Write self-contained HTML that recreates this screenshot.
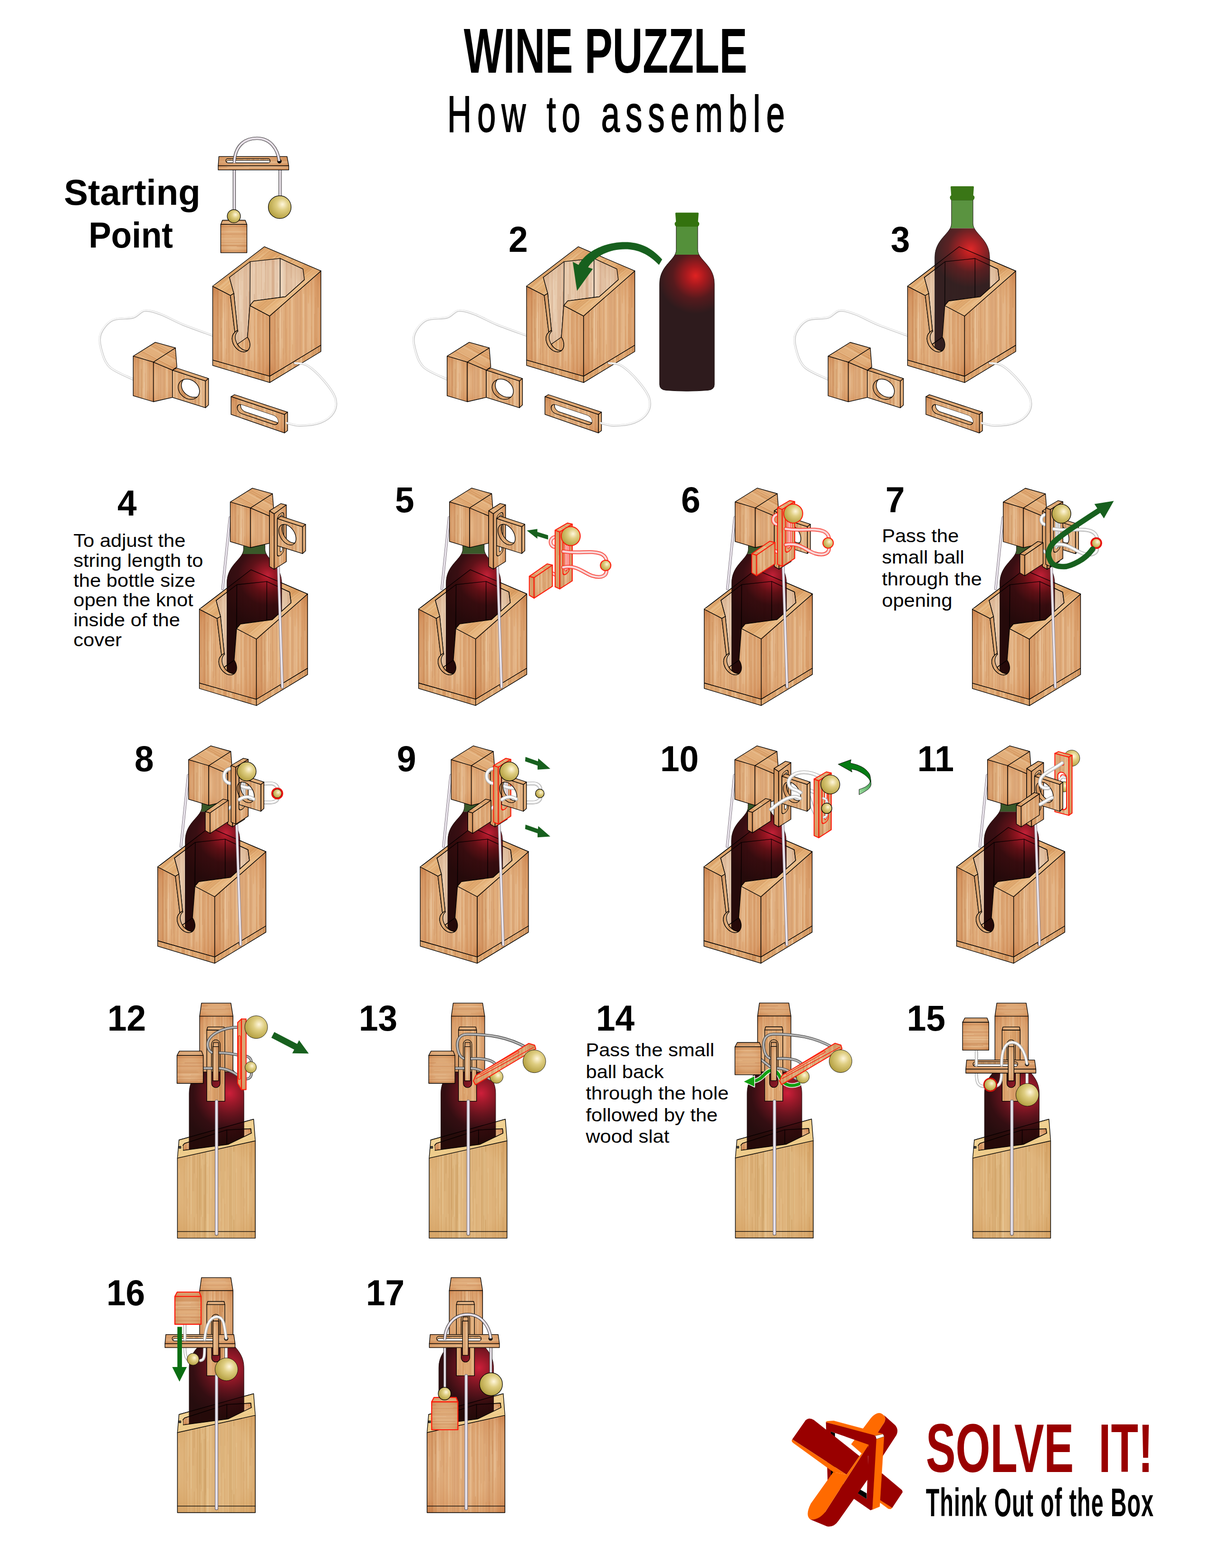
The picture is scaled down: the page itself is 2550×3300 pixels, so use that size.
<!DOCTYPE html>
<html><head><meta charset="utf-8"><title>Wine Puzzle</title>
<style>
html,body{margin:0;padding:0;background:#fff;}
body{width:2550px;height:3300px;overflow:hidden;}
svg{display:block}
text{font-family:"Liberation Sans",sans-serif;fill:#000}
</style></head><body>
<svg width="2550" height="3300" viewBox="0 0 2550 3300">
<defs><pattern id="wF" width="120" height="240" patternUnits="userSpaceOnUse"><rect width="120" height="240" fill="#E1AE7C"/><rect x="54.3" y="0" width="11.6" height="240" fill="#F2D8B6" opacity="0.19"/><rect x="55.9" y="0" width="11.1" height="240" fill="#BF7846" opacity="0.16"/><rect x="22.2" y="0" width="11.1" height="240" fill="#F2D8B6" opacity="0.16"/><rect x="95.2" y="0" width="6.9" height="240" fill="#BF7846" opacity="0.13"/><rect x="10.9" y="0" width="14.1" height="240" fill="#F2D8B6" opacity="0.17"/><rect x="5" y="0" width="15.8" height="240" fill="#BF7846" opacity="0.20"/><rect x="78.5" y="97.5" width="1" height="122.8" fill="#F2D8B6" opacity="0.21"/><rect x="105.5" y="0" width="1" height="240" fill="#BF7846" opacity="0.28"/><rect x="101.1" y="0" width="1" height="240" fill="#F2D8B6" opacity="0.20"/><rect x="10.2" y="0" width="1.2" height="240" fill="#BF7846" opacity="0.45"/><rect x="100.8" y="0" width="1.2" height="240" fill="#BF7846" opacity="0.30"/><rect x="3.6" y="121.9" width="1" height="96" fill="#F2D8B6" opacity="0.54"/><rect x="101.7" y="0" width="0.5" height="240" fill="#BF7846" opacity="0.17"/><rect x="45.1" y="0" width="1.2" height="240" fill="#F2D8B6" opacity="0.42"/><rect x="93.4" y="0" width="0.8" height="240" fill="#F2D8B6" opacity="0.21"/><rect x="49.2" y="0" width="0.5" height="240" fill="#BF7846" opacity="0.15"/><rect x="55.8" y="0" width="0.8" height="240" fill="#BF7846" opacity="0.28"/><rect x="22.9" y="54.4" width="1.2" height="98.3" fill="#F2D8B6" opacity="0.55"/><rect x="0.1" y="29.1" width="1.6" height="144.4" fill="#BF7846" opacity="0.21"/><rect x="47.3" y="5.2" width="1.6" height="117.2" fill="#F2D8B6" opacity="0.35"/><rect x="1.1" y="0" width="1" height="240" fill="#F2D8B6" opacity="0.23"/><rect x="10.8" y="70.1" width="1" height="49.9" fill="#BF7846" opacity="0.19"/><rect x="70.5" y="16.1" width="1.6" height="152" fill="#F2D8B6" opacity="0.52"/><rect x="98.1" y="108.8" width="0.6" height="67" fill="#BF7846" opacity="0.36"/><rect x="46.6" y="14.7" width="0.8" height="98.6" fill="#F2D8B6" opacity="0.54"/><rect x="28.6" y="0" width="1.2" height="240" fill="#BF7846" opacity="0.42"/><rect x="58.9" y="0" width="1" height="240" fill="#BF7846" opacity="0.17"/><rect x="27.4" y="8.8" width="1" height="121.9" fill="#F2D8B6" opacity="0.52"/><rect x="89.9" y="0" width="0.5" height="240" fill="#BF7846" opacity="0.17"/><rect x="21.2" y="6.9" width="0.8" height="164.8" fill="#F2D8B6" opacity="0.36"/><rect x="39.7" y="17.1" width="1.2" height="118.1" fill="#F2D8B6" opacity="0.21"/><rect x="109.2" y="0" width="1.2" height="240" fill="#F2D8B6" opacity="0.41"/><rect x="9" y="153.6" width="0.5" height="86.3" fill="#F2D8B6" opacity="0.39"/><rect x="88.4" y="170" width="1.2" height="63.5" fill="#F2D8B6" opacity="0.23"/><rect x="56.8" y="112.2" width="0.5" height="98.1" fill="#BF7846" opacity="0.32"/><rect x="75" y="0" width="0.8" height="240" fill="#F2D8B6" opacity="0.23"/><rect x="10.9" y="62.9" width="0.5" height="153.6" fill="#F2D8B6" opacity="0.46"/><rect x="69.7" y="65.9" width="0.8" height="113" fill="#BF7846" opacity="0.24"/><rect x="10.5" y="0" width="0.5" height="240" fill="#BF7846" opacity="0.30"/><rect x="73.7" y="0" width="0.8" height="240" fill="#F2D8B6" opacity="0.31"/><rect x="81.4" y="34.8" width="0.6" height="138.5" fill="#BF7846" opacity="0.30"/><rect x="29" y="72.5" width="0.8" height="71.8" fill="#BF7846" opacity="0.42"/><rect x="105.6" y="0" width="0.8" height="240" fill="#BF7846" opacity="0.21"/><rect x="16.1" y="64.1" width="0.8" height="149.8" fill="#BF7846" opacity="0.23"/><rect x="20.3" y="67.2" width="0.8" height="159.1" fill="#F2D8B6" opacity="0.38"/><rect x="80.7" y="33.6" width="1.2" height="165.8" fill="#F2D8B6" opacity="0.21"/><rect x="104.7" y="56.1" width="0.5" height="81.7" fill="#BF7846" opacity="0.32"/><rect x="76.9" y="156.8" width="0.8" height="51" fill="#F2D8B6" opacity="0.25"/><rect x="5.6" y="0" width="1.2" height="240" fill="#F2D8B6" opacity="0.39"/><rect x="76.8" y="21.9" width="0.8" height="130.1" fill="#BF7846" opacity="0.20"/><rect x="1.3" y="42.5" width="0.8" height="52.3" fill="#BF7846" opacity="0.31"/><rect x="113.6" y="39.8" width="1" height="138.7" fill="#BF7846" opacity="0.42"/><rect x="10.5" y="0" width="1.2" height="240" fill="#BF7846" opacity="0.21"/><rect x="106.5" y="0" width="0.5" height="240" fill="#BF7846" opacity="0.41"/><rect x="95.6" y="23.3" width="0.8" height="126.2" fill="#BF7846" opacity="0.40"/><rect x="77" y="0" width="1.2" height="240" fill="#F2D8B6" opacity="0.34"/><rect x="10.5" y="31.1" width="0.8" height="142.9" fill="#BF7846" opacity="0.41"/><rect x="41.8" y="0" width="0.5" height="240" fill="#F2D8B6" opacity="0.35"/><rect x="33" y="0" width="0.5" height="240" fill="#BF7846" opacity="0.28"/><rect x="4.2" y="0" width="1" height="240" fill="#BF7846" opacity="0.19"/><rect x="17.8" y="88" width="1" height="110.2" fill="#BF7846" opacity="0.41"/><rect x="69.5" y="0" width="1.2" height="240" fill="#F2D8B6" opacity="0.38"/><rect x="34.8" y="88.6" width="1.2" height="67.7" fill="#BF7846" opacity="0.23"/><rect x="80.6" y="36.2" width="1.6" height="121.1" fill="#F2D8B6" opacity="0.39"/><rect x="32.8" y="0" width="0.8" height="240" fill="#BF7846" opacity="0.30"/><rect x="72.6" y="171.3" width="0.5" height="53.3" fill="#BF7846" opacity="0.45"/><rect x="14.6" y="99.2" width="0.5" height="55.9" fill="#F2D8B6" opacity="0.53"/><rect x="110.8" y="0" width="0.8" height="240" fill="#BF7846" opacity="0.25"/><rect x="108.1" y="75.1" width="0.8" height="61" fill="#F2D8B6" opacity="0.29"/><rect x="84.3" y="0" width="0.5" height="240" fill="#F2D8B6" opacity="0.20"/><rect x="34.1" y="0" width="1.2" height="240" fill="#BF7846" opacity="0.18"/><rect x="87.7" y="84.1" width="0.5" height="122.8" fill="#BF7846" opacity="0.41"/><rect x="2.8" y="0" width="1.2" height="240" fill="#BF7846" opacity="0.20"/><rect x="24.5" y="35.8" width="1.2" height="74.2" fill="#BF7846" opacity="0.33"/><rect x="16.4" y="27.2" width="1.2" height="89.7" fill="#BF7846" opacity="0.42"/><rect x="23.4" y="11.5" width="1.6" height="154.5" fill="#F2D8B6" opacity="0.45"/><rect x="31.1" y="0" width="0.5" height="240" fill="#BF7846" opacity="0.31"/><rect x="84.6" y="0" width="0.6" height="240" fill="#BF7846" opacity="0.16"/><rect x="24.1" y="0" width="1.2" height="240" fill="#BF7846" opacity="0.26"/><rect x="84.6" y="90.3" width="1.2" height="108.3" fill="#F2D8B6" opacity="0.22"/><rect x="12.7" y="107.2" width="0.5" height="121.6" fill="#BF7846" opacity="0.21"/><rect x="13.8" y="67.8" width="0.6" height="166.8" fill="#F2D8B6" opacity="0.22"/><rect x="114.2" y="0" width="0.8" height="240" fill="#F2D8B6" opacity="0.34"/><rect x="51.2" y="0" width="0.8" height="240" fill="#BF7846" opacity="0.15"/><rect x="84.1" y="0" width="1.6" height="240" fill="#F2D8B6" opacity="0.33"/><rect x="44.4" y="143.1" width="0.6" height="59.4" fill="#F2D8B6" opacity="0.23"/><rect x="101" y="45.1" width="1.6" height="160.8" fill="#F2D8B6" opacity="0.40"/><rect x="40.9" y="0" width="1.6" height="240" fill="#BF7846" opacity="0.37"/><rect x="93.4" y="58.1" width="1.6" height="64" fill="#BF7846" opacity="0.26"/><rect x="51.8" y="0" width="0.6" height="240" fill="#BF7846" opacity="0.17"/><rect x="41" y="0" width="0.8" height="240" fill="#BF7846" opacity="0.45"/><rect x="108.3" y="0" width="0.5" height="240" fill="#BF7846" opacity="0.35"/><rect x="40.5" y="0" width="1.2" height="240" fill="#F2D8B6" opacity="0.23"/><rect x="61.8" y="82.2" width="0.8" height="132.2" fill="#BF7846" opacity="0.16"/><rect x="73.8" y="0" width="1.2" height="240" fill="#BF7846" opacity="0.30"/><rect x="91.4" y="0" width="1.2" height="240" fill="#F2D8B6" opacity="0.29"/><rect x="108.7" y="74" width="1" height="97.9" fill="#BF7846" opacity="0.18"/><rect x="53.3" y="0" width="1.2" height="240" fill="#BF7846" opacity="0.38"/><rect x="5.4" y="0" width="0.6" height="240" fill="#BF7846" opacity="0.41"/><rect x="65" y="0" width="1" height="240" fill="#BF7846" opacity="0.28"/><rect x="63.2" y="0" width="1" height="240" fill="#BF7846" opacity="0.29"/><rect x="32.4" y="2.7" width="0.8" height="137.7" fill="#BF7846" opacity="0.33"/><rect x="76" y="130.3" width="0.8" height="94.8" fill="#BF7846" opacity="0.17"/><rect x="118.7" y="0" width="0.8" height="240" fill="#BF7846" opacity="0.28"/><rect x="57.3" y="0" width="1.6" height="240" fill="#BF7846" opacity="0.43"/><rect x="86.7" y="0" width="0.8" height="240" fill="#BF7846" opacity="0.22"/><rect x="84.8" y="28" width="0.5" height="102.7" fill="#F2D8B6" opacity="0.38"/><rect x="14.9" y="0" width="0.8" height="240" fill="#F2D8B6" opacity="0.41"/><rect x="76.8" y="0" width="1.2" height="240" fill="#BF7846" opacity="0.31"/><rect x="119.7" y="18.6" width="0.8" height="76.6" fill="#BF7846" opacity="0.39"/><rect x="75" y="0" width="0.8" height="240" fill="#BF7846" opacity="0.37"/><rect x="83.9" y="19.3" width="0.6" height="138.4" fill="#F2D8B6" opacity="0.54"/><rect x="109.9" y="0" width="1.2" height="240" fill="#F2D8B6" opacity="0.29"/><rect x="51" y="0" width="1" height="240" fill="#F2D8B6" opacity="0.30"/><rect x="90.7" y="0" width="1.2" height="240" fill="#F2D8B6" opacity="0.54"/><rect x="58.1" y="0" width="0.8" height="240" fill="#F2D8B6" opacity="0.46"/></pattern><pattern id="wD" width="120" height="240" patternUnits="userSpaceOnUse"><rect width="120" height="240" fill="#DEA670"/><rect x="100.6" y="0" width="6.7" height="240" fill="#EFCFA6" opacity="0.11"/><rect x="97.1" y="0" width="12.2" height="240" fill="#B8703A" opacity="0.18"/><rect x="25.6" y="0" width="10.2" height="240" fill="#EFCFA6" opacity="0.13"/><rect x="97.2" y="0" width="9.7" height="240" fill="#B8703A" opacity="0.17"/><rect x="118.7" y="0" width="9.3" height="240" fill="#EFCFA6" opacity="0.15"/><rect x="89.5" y="0" width="15.2" height="240" fill="#B8703A" opacity="0.14"/><rect x="44.3" y="83.2" width="0.5" height="86.9" fill="#B8703A" opacity="0.32"/><rect x="97.8" y="0" width="0.8" height="240" fill="#B8703A" opacity="0.17"/><rect x="25.6" y="53.7" width="1.2" height="131.4" fill="#B8703A" opacity="0.25"/><rect x="105.8" y="0" width="0.6" height="240" fill="#B8703A" opacity="0.26"/><rect x="14.1" y="0" width="1.2" height="240" fill="#B8703A" opacity="0.42"/><rect x="82.4" y="0" width="0.8" height="240" fill="#B8703A" opacity="0.24"/><rect x="38.1" y="53.9" width="0.8" height="135.6" fill="#EFCFA6" opacity="0.49"/><rect x="2.9" y="0" width="1.2" height="240" fill="#EFCFA6" opacity="0.27"/><rect x="67.7" y="0" width="1.6" height="240" fill="#EFCFA6" opacity="0.41"/><rect x="21.3" y="24.3" width="0.5" height="153.7" fill="#EFCFA6" opacity="0.38"/><rect x="65.3" y="0" width="1" height="240" fill="#EFCFA6" opacity="0.49"/><rect x="50.7" y="8.2" width="1" height="142.6" fill="#EFCFA6" opacity="0.46"/><rect x="107.9" y="0" width="0.5" height="240" fill="#B8703A" opacity="0.18"/><rect x="98" y="0" width="0.8" height="240" fill="#EFCFA6" opacity="0.47"/><rect x="62.6" y="121" width="1.6" height="90.1" fill="#EFCFA6" opacity="0.25"/><rect x="58.6" y="97.9" width="1.6" height="133" fill="#EFCFA6" opacity="0.49"/><rect x="80" y="0" width="1.6" height="240" fill="#EFCFA6" opacity="0.23"/><rect x="55.8" y="91.7" width="1" height="110.9" fill="#B8703A" opacity="0.28"/><rect x="50.5" y="0" width="0.6" height="240" fill="#EFCFA6" opacity="0.42"/><rect x="82.1" y="0" width="0.8" height="240" fill="#B8703A" opacity="0.24"/><rect x="116.4" y="31.7" width="0.5" height="135.7" fill="#EFCFA6" opacity="0.52"/><rect x="109.5" y="110.9" width="1.6" height="118.1" fill="#EFCFA6" opacity="0.24"/><rect x="22.1" y="56.6" width="0.6" height="120" fill="#B8703A" opacity="0.28"/><rect x="107.3" y="0" width="0.8" height="240" fill="#B8703A" opacity="0.24"/><rect x="65.8" y="43.4" width="1.6" height="150.4" fill="#EFCFA6" opacity="0.53"/><rect x="79.2" y="29.6" width="1.6" height="105.9" fill="#EFCFA6" opacity="0.53"/><rect x="96.2" y="74.8" width="0.8" height="143.4" fill="#B8703A" opacity="0.17"/><rect x="110.9" y="37.5" width="0.5" height="156.6" fill="#EFCFA6" opacity="0.35"/><rect x="105" y="0" width="0.8" height="240" fill="#EFCFA6" opacity="0.29"/><rect x="104.3" y="0" width="1" height="240" fill="#B8703A" opacity="0.34"/><rect x="61.9" y="0" width="0.5" height="240" fill="#B8703A" opacity="0.15"/><rect x="98.6" y="0" width="1.6" height="240" fill="#EFCFA6" opacity="0.32"/><rect x="73.8" y="0" width="1" height="240" fill="#B8703A" opacity="0.29"/><rect x="114.7" y="2.5" width="1" height="108.7" fill="#EFCFA6" opacity="0.27"/><rect x="81.9" y="90.7" width="1.6" height="73" fill="#B8703A" opacity="0.20"/><rect x="99.8" y="0" width="0.8" height="240" fill="#EFCFA6" opacity="0.39"/><rect x="119.7" y="102.3" width="1.2" height="91.2" fill="#EFCFA6" opacity="0.34"/><rect x="55.4" y="1.4" width="1.6" height="126.5" fill="#EFCFA6" opacity="0.45"/><rect x="28.5" y="0" width="1" height="240" fill="#B8703A" opacity="0.41"/><rect x="101.3" y="0" width="1.2" height="240" fill="#B8703A" opacity="0.24"/><rect x="45.1" y="58.5" width="1" height="162.5" fill="#B8703A" opacity="0.18"/><rect x="22.6" y="144.1" width="0.8" height="87.5" fill="#B8703A" opacity="0.37"/><rect x="39.8" y="0" width="1.6" height="240" fill="#EFCFA6" opacity="0.42"/><rect x="15.8" y="68.6" width="1.2" height="69.6" fill="#B8703A" opacity="0.33"/><rect x="10.8" y="0" width="0.6" height="240" fill="#B8703A" opacity="0.28"/><rect x="92.5" y="72" width="0.8" height="99.2" fill="#B8703A" opacity="0.38"/><rect x="98.5" y="50.7" width="0.8" height="158.6" fill="#B8703A" opacity="0.33"/><rect x="38.1" y="68.6" width="1.6" height="127.2" fill="#EFCFA6" opacity="0.32"/><rect x="41.1" y="0" width="1.2" height="240" fill="#B8703A" opacity="0.21"/><rect x="39.9" y="18.8" width="0.8" height="121.4" fill="#B8703A" opacity="0.42"/><rect x="65.8" y="74.9" width="0.8" height="109.6" fill="#EFCFA6" opacity="0.53"/><rect x="119.8" y="159.1" width="1.2" height="71.7" fill="#B8703A" opacity="0.21"/><rect x="10" y="47.3" width="0.6" height="98.1" fill="#EFCFA6" opacity="0.51"/><rect x="31.9" y="24.9" width="0.5" height="135.6" fill="#B8703A" opacity="0.31"/><rect x="7.6" y="0" width="0.8" height="240" fill="#B8703A" opacity="0.42"/><rect x="40.2" y="0" width="0.6" height="240" fill="#B8703A" opacity="0.24"/><rect x="107.6" y="24.6" width="0.6" height="91.6" fill="#B8703A" opacity="0.39"/><rect x="54.5" y="0" width="0.8" height="240" fill="#B8703A" opacity="0.43"/><rect x="79" y="81.9" width="0.8" height="149.7" fill="#B8703A" opacity="0.34"/><rect x="91.6" y="0" width="0.6" height="240" fill="#B8703A" opacity="0.19"/><rect x="46.4" y="0" width="1" height="240" fill="#EFCFA6" opacity="0.25"/><rect x="29.3" y="0" width="0.8" height="240" fill="#B8703A" opacity="0.37"/><rect x="94.5" y="56.4" width="0.8" height="120" fill="#EFCFA6" opacity="0.42"/><rect x="82.7" y="0" width="1.6" height="240" fill="#EFCFA6" opacity="0.51"/><rect x="55.6" y="10.9" width="1.6" height="147" fill="#EFCFA6" opacity="0.53"/><rect x="39.6" y="0" width="1" height="240" fill="#B8703A" opacity="0.25"/><rect x="6.6" y="52.7" width="1.2" height="100" fill="#EFCFA6" opacity="0.48"/><rect x="105.9" y="0" width="0.5" height="240" fill="#B8703A" opacity="0.22"/><rect x="104.8" y="163.2" width="0.5" height="60.6" fill="#B8703A" opacity="0.35"/><rect x="112.8" y="90.9" width="0.5" height="135.7" fill="#EFCFA6" opacity="0.39"/><rect x="67.7" y="0" width="0.6" height="240" fill="#B8703A" opacity="0.32"/><rect x="108.4" y="155.6" width="0.5" height="63.6" fill="#B8703A" opacity="0.29"/><rect x="35.5" y="0" width="1.2" height="240" fill="#EFCFA6" opacity="0.22"/><rect x="107.4" y="121.2" width="1.6" height="65" fill="#EFCFA6" opacity="0.31"/><rect x="54.6" y="0" width="0.8" height="240" fill="#B8703A" opacity="0.43"/><rect x="117.3" y="144" width="0.8" height="72.3" fill="#B8703A" opacity="0.17"/><rect x="37.9" y="0" width="1.6" height="240" fill="#B8703A" opacity="0.20"/><rect x="105.6" y="0" width="1" height="240" fill="#B8703A" opacity="0.21"/><rect x="105.6" y="127" width="0.5" height="84.7" fill="#B8703A" opacity="0.23"/><rect x="50.4" y="0" width="0.6" height="240" fill="#B8703A" opacity="0.38"/><rect x="49.8" y="0" width="0.6" height="240" fill="#EFCFA6" opacity="0.45"/><rect x="23.6" y="39" width="0.6" height="108.2" fill="#EFCFA6" opacity="0.48"/><rect x="62.9" y="49.5" width="0.5" height="75.5" fill="#B8703A" opacity="0.35"/><rect x="33.2" y="10.4" width="1.2" height="103.5" fill="#B8703A" opacity="0.17"/><rect x="108.9" y="39.6" width="0.5" height="82.1" fill="#B8703A" opacity="0.18"/><rect x="34.2" y="0" width="1.6" height="240" fill="#EFCFA6" opacity="0.46"/><rect x="3.5" y="2.5" width="1.6" height="166.5" fill="#B8703A" opacity="0.38"/><rect x="46.2" y="0" width="0.8" height="240" fill="#EFCFA6" opacity="0.47"/><rect x="109.2" y="50.7" width="0.8" height="142" fill="#B8703A" opacity="0.40"/><rect x="82.1" y="76.1" width="1" height="111.8" fill="#B8703A" opacity="0.18"/><rect x="52.3" y="0" width="1.2" height="240" fill="#B8703A" opacity="0.39"/><rect x="94.9" y="0" width="0.6" height="240" fill="#B8703A" opacity="0.41"/><rect x="72.4" y="0" width="0.8" height="240" fill="#B8703A" opacity="0.36"/><rect x="68.7" y="93.1" width="1.6" height="87" fill="#B8703A" opacity="0.39"/><rect x="60.4" y="0" width="1.2" height="240" fill="#B8703A" opacity="0.17"/><rect x="108.9" y="88.4" width="1" height="117.5" fill="#B8703A" opacity="0.17"/><rect x="51" y="0" width="1.2" height="240" fill="#B8703A" opacity="0.31"/><rect x="31.8" y="58.2" width="1" height="126" fill="#EFCFA6" opacity="0.29"/><rect x="59.6" y="6" width="1.2" height="142.4" fill="#EFCFA6" opacity="0.33"/><rect x="26" y="0" width="0.5" height="240" fill="#B8703A" opacity="0.33"/><rect x="16.1" y="4" width="1.2" height="137.4" fill="#EFCFA6" opacity="0.51"/><rect x="17" y="126.7" width="0.8" height="104.6" fill="#B8703A" opacity="0.35"/><rect x="86" y="18.6" width="1.2" height="83.5" fill="#B8703A" opacity="0.28"/><rect x="10.3" y="0" width="0.6" height="240" fill="#EFCFA6" opacity="0.54"/><rect x="73.3" y="0" width="0.5" height="240" fill="#B8703A" opacity="0.45"/><rect x="88.5" y="52.1" width="1" height="151.7" fill="#B8703A" opacity="0.29"/><rect x="47.2" y="0" width="1.6" height="240" fill="#EFCFA6" opacity="0.22"/><rect x="50.2" y="0" width="0.6" height="240" fill="#B8703A" opacity="0.20"/><rect x="24.4" y="47.7" width="0.6" height="139.2" fill="#B8703A" opacity="0.34"/><rect x="21.8" y="0" width="0.8" height="240" fill="#EFCFA6" opacity="0.23"/></pattern><pattern id="wT" width="120" height="240" patternUnits="userSpaceOnUse" patternTransform="rotate(50)"><rect width="120" height="240" fill="#E4B076"/><rect x="83" y="0" width="9.6" height="240" fill="#F5DBB2" opacity="0.13"/><rect x="2.2" y="0" width="7.8" height="240" fill="#C58044" opacity="0.13"/><rect x="47.2" y="0" width="15.2" height="240" fill="#F5DBB2" opacity="0.17"/><rect x="32.2" y="0" width="9.6" height="240" fill="#C58044" opacity="0.12"/><rect x="112.4" y="0" width="9.6" height="240" fill="#F5DBB2" opacity="0.18"/><rect x="86.8" y="0" width="15.1" height="240" fill="#C58044" opacity="0.10"/><rect x="38.6" y="0" width="0.8" height="240" fill="#C58044" opacity="0.26"/><rect x="30.8" y="94.7" width="1" height="84.3" fill="#C58044" opacity="0.21"/><rect x="61.7" y="0" width="0.6" height="240" fill="#F5DBB2" opacity="0.35"/><rect x="65.3" y="39.6" width="0.6" height="113.8" fill="#C58044" opacity="0.26"/><rect x="105.6" y="0" width="1.6" height="240" fill="#C58044" opacity="0.27"/><rect x="46.4" y="0" width="1.6" height="240" fill="#F5DBB2" opacity="0.33"/><rect x="73.4" y="0" width="0.6" height="240" fill="#F5DBB2" opacity="0.42"/><rect x="67.9" y="67.9" width="1.6" height="137.2" fill="#F5DBB2" opacity="0.50"/><rect x="67" y="67.2" width="0.8" height="162.6" fill="#F5DBB2" opacity="0.42"/><rect x="10.8" y="0" width="0.8" height="240" fill="#C58044" opacity="0.30"/><rect x="111.7" y="25.1" width="0.8" height="81.6" fill="#F5DBB2" opacity="0.37"/><rect x="20" y="96.2" width="1.2" height="110.5" fill="#C58044" opacity="0.39"/><rect x="57.4" y="88" width="0.8" height="114.4" fill="#F5DBB2" opacity="0.34"/><rect x="43.7" y="60.1" width="0.5" height="80.6" fill="#C58044" opacity="0.24"/><rect x="86.3" y="0" width="0.8" height="240" fill="#F5DBB2" opacity="0.31"/><rect x="44.8" y="0" width="0.8" height="240" fill="#C58044" opacity="0.21"/><rect x="56.3" y="0" width="1" height="240" fill="#C58044" opacity="0.16"/><rect x="84.9" y="72.5" width="0.6" height="123.3" fill="#F5DBB2" opacity="0.35"/><rect x="33.1" y="133.4" width="1.6" height="101.9" fill="#F5DBB2" opacity="0.48"/><rect x="82" y="0" width="0.8" height="240" fill="#F5DBB2" opacity="0.54"/><rect x="18" y="0" width="0.6" height="240" fill="#F5DBB2" opacity="0.28"/><rect x="62.5" y="104.8" width="1" height="48.4" fill="#C58044" opacity="0.38"/><rect x="9.5" y="89.4" width="1.6" height="147.7" fill="#F5DBB2" opacity="0.32"/><rect x="106.4" y="66.2" width="0.8" height="73" fill="#F5DBB2" opacity="0.27"/><rect x="19.3" y="75.1" width="0.8" height="106.9" fill="#F5DBB2" opacity="0.30"/><rect x="89.9" y="41.5" width="1" height="125.6" fill="#C58044" opacity="0.43"/><rect x="88.5" y="83.1" width="0.5" height="146.1" fill="#F5DBB2" opacity="0.50"/><rect x="61.5" y="149.4" width="1.2" height="67.5" fill="#C58044" opacity="0.17"/><rect x="30.5" y="27.5" width="1" height="131.3" fill="#C58044" opacity="0.26"/><rect x="81.9" y="0" width="0.6" height="240" fill="#C58044" opacity="0.40"/><rect x="99.4" y="14.4" width="1" height="124.9" fill="#C58044" opacity="0.23"/><rect x="19.3" y="0" width="0.6" height="240" fill="#C58044" opacity="0.22"/><rect x="22.2" y="86" width="0.5" height="131.3" fill="#C58044" opacity="0.23"/><rect x="32.5" y="134.8" width="0.8" height="95.6" fill="#C58044" opacity="0.16"/><rect x="85.6" y="60.2" width="0.5" height="71.3" fill="#C58044" opacity="0.39"/><rect x="48.5" y="15.3" width="0.5" height="150.7" fill="#F5DBB2" opacity="0.35"/><rect x="104.4" y="0" width="1.2" height="240" fill="#F5DBB2" opacity="0.42"/><rect x="91.8" y="0" width="1" height="240" fill="#C58044" opacity="0.31"/><rect x="96" y="0" width="0.6" height="240" fill="#C58044" opacity="0.32"/><rect x="107.6" y="0" width="0.8" height="240" fill="#F5DBB2" opacity="0.51"/><rect x="32.4" y="0" width="1" height="240" fill="#C58044" opacity="0.23"/><rect x="27.3" y="0" width="0.8" height="240" fill="#C58044" opacity="0.32"/><rect x="18.2" y="12.1" width="0.5" height="85.1" fill="#F5DBB2" opacity="0.37"/><rect x="119.7" y="4.6" width="0.6" height="97" fill="#F5DBB2" opacity="0.40"/><rect x="66.9" y="70.5" width="0.6" height="126.8" fill="#F5DBB2" opacity="0.53"/><rect x="103.8" y="0" width="1.6" height="240" fill="#C58044" opacity="0.37"/><rect x="21.1" y="85.9" width="0.5" height="112.7" fill="#F5DBB2" opacity="0.21"/><rect x="66.7" y="40.1" width="0.5" height="49.3" fill="#C58044" opacity="0.15"/><rect x="63.3" y="0" width="1.6" height="240" fill="#C58044" opacity="0.30"/><rect x="37" y="98.5" width="1" height="140.1" fill="#F5DBB2" opacity="0.53"/><rect x="48.3" y="0" width="1.2" height="240" fill="#C58044" opacity="0.34"/><rect x="1.1" y="0" width="0.6" height="240" fill="#F5DBB2" opacity="0.33"/><rect x="78.8" y="52.5" width="1.6" height="123.2" fill="#F5DBB2" opacity="0.22"/><rect x="78.4" y="0" width="1" height="240" fill="#F5DBB2" opacity="0.46"/><rect x="25.4" y="0" width="1.2" height="240" fill="#F5DBB2" opacity="0.27"/><rect x="41.7" y="0" width="0.6" height="240" fill="#F5DBB2" opacity="0.35"/><rect x="1.1" y="0" width="1" height="240" fill="#F5DBB2" opacity="0.53"/><rect x="100.8" y="0" width="1.6" height="240" fill="#C58044" opacity="0.25"/><rect x="90.5" y="72.6" width="0.5" height="86.6" fill="#C58044" opacity="0.30"/><rect x="93.6" y="71.6" width="0.6" height="56.4" fill="#C58044" opacity="0.41"/><rect x="93.3" y="110.6" width="1" height="65.8" fill="#F5DBB2" opacity="0.43"/><rect x="25.5" y="0" width="1" height="240" fill="#C58044" opacity="0.36"/><rect x="50.9" y="131.1" width="1" height="62.6" fill="#C58044" opacity="0.28"/><rect x="56.1" y="0" width="1.6" height="240" fill="#F5DBB2" opacity="0.41"/><rect x="68.7" y="58.1" width="1" height="111.4" fill="#F5DBB2" opacity="0.22"/><rect x="6.6" y="0" width="0.8" height="240" fill="#C58044" opacity="0.45"/><rect x="88.6" y="0" width="0.8" height="240" fill="#C58044" opacity="0.32"/><rect x="6.3" y="9.4" width="0.6" height="155.7" fill="#F5DBB2" opacity="0.52"/><rect x="94.8" y="49.3" width="0.6" height="143.7" fill="#C58044" opacity="0.17"/><rect x="104.4" y="0" width="1.2" height="240" fill="#C58044" opacity="0.25"/><rect x="24.9" y="47.1" width="0.5" height="71.5" fill="#C58044" opacity="0.17"/><rect x="66.6" y="6.3" width="1.6" height="153.2" fill="#C58044" opacity="0.17"/><rect x="104.4" y="63.6" width="0.5" height="66.2" fill="#F5DBB2" opacity="0.21"/><rect x="41.5" y="0" width="1.6" height="240" fill="#F5DBB2" opacity="0.35"/><rect x="73.7" y="106.4" width="0.5" height="122" fill="#F5DBB2" opacity="0.55"/><rect x="24.8" y="0" width="1.2" height="240" fill="#C58044" opacity="0.44"/><rect x="67.2" y="0" width="0.8" height="240" fill="#C58044" opacity="0.36"/><rect x="101.4" y="35" width="0.8" height="73" fill="#C58044" opacity="0.20"/><rect x="69.7" y="0" width="0.5" height="240" fill="#F5DBB2" opacity="0.53"/><rect x="73.2" y="0" width="0.8" height="240" fill="#F5DBB2" opacity="0.22"/><rect x="24.7" y="0" width="1.2" height="240" fill="#F5DBB2" opacity="0.34"/><rect x="17.6" y="0" width="1.2" height="240" fill="#F5DBB2" opacity="0.41"/><rect x="33.5" y="27.4" width="0.6" height="161" fill="#C58044" opacity="0.22"/><rect x="69.5" y="0" width="0.8" height="240" fill="#C58044" opacity="0.44"/><rect x="9.4" y="31" width="1.2" height="160" fill="#C58044" opacity="0.33"/><rect x="53.8" y="0" width="0.5" height="240" fill="#F5DBB2" opacity="0.40"/><rect x="79" y="0" width="0.8" height="240" fill="#C58044" opacity="0.35"/><rect x="29.4" y="0" width="0.8" height="240" fill="#C58044" opacity="0.41"/><rect x="46.6" y="0" width="0.8" height="240" fill="#C58044" opacity="0.41"/><rect x="70.9" y="28.8" width="1" height="102.4" fill="#C58044" opacity="0.15"/><rect x="3.6" y="135.3" width="1" height="89.3" fill="#C58044" opacity="0.16"/><rect x="76" y="0" width="0.8" height="240" fill="#F5DBB2" opacity="0.38"/><rect x="57.6" y="73.8" width="1.2" height="164.4" fill="#C58044" opacity="0.27"/><rect x="99.4" y="10.3" width="1.2" height="61.2" fill="#C58044" opacity="0.35"/><rect x="94.8" y="60.6" width="0.6" height="118.1" fill="#C58044" opacity="0.30"/><rect x="11.5" y="0" width="1.6" height="240" fill="#F5DBB2" opacity="0.43"/><rect x="74.8" y="109" width="1.2" height="127.6" fill="#C58044" opacity="0.42"/><rect x="52" y="0" width="0.6" height="240" fill="#C58044" opacity="0.43"/><rect x="107.5" y="0" width="0.5" height="240" fill="#F5DBB2" opacity="0.40"/><rect x="116.9" y="79" width="1.6" height="84.2" fill="#F5DBB2" opacity="0.40"/><rect x="15.6" y="54.7" width="0.5" height="85" fill="#F5DBB2" opacity="0.41"/><rect x="56" y="17.9" width="0.6" height="68.4" fill="#F5DBB2" opacity="0.51"/><rect x="97.2" y="0" width="1" height="240" fill="#C58044" opacity="0.31"/><rect x="48.8" y="12.7" width="1" height="133.5" fill="#C58044" opacity="0.22"/><rect x="95.7" y="16.7" width="0.5" height="133.5" fill="#C58044" opacity="0.16"/><rect x="13.2" y="96.7" width="0.8" height="113.2" fill="#C58044" opacity="0.27"/><rect x="35.9" y="0" width="0.6" height="240" fill="#F5DBB2" opacity="0.52"/><rect x="39.5" y="0" width="0.8" height="240" fill="#C58044" opacity="0.32"/><rect x="16.5" y="112.8" width="1" height="59.7" fill="#F5DBB2" opacity="0.41"/><rect x="26.4" y="0" width="0.5" height="240" fill="#C58044" opacity="0.26"/></pattern><pattern id="wT2" width="120" height="240" patternUnits="userSpaceOnUse" patternTransform="rotate(-62)"><rect width="120" height="240" fill="#E3B07C"/><rect x="51.7" y="0" width="10.5" height="240" fill="#F4DAB8" opacity="0.10"/><rect x="100.3" y="0" width="6.6" height="240" fill="#C58044" opacity="0.15"/><rect x="65.7" y="0" width="10" height="240" fill="#F4DAB8" opacity="0.12"/><rect x="11.9" y="0" width="9.7" height="240" fill="#C58044" opacity="0.13"/><rect x="58.1" y="0" width="8.3" height="240" fill="#F4DAB8" opacity="0.17"/><rect x="58.5" y="0" width="6.1" height="240" fill="#C58044" opacity="0.14"/><rect x="116" y="36.7" width="0.5" height="90.9" fill="#C58044" opacity="0.36"/><rect x="100.8" y="38.2" width="0.6" height="118.7" fill="#C58044" opacity="0.30"/><rect x="90.5" y="98.1" width="0.5" height="73.6" fill="#C58044" opacity="0.43"/><rect x="77.7" y="0" width="0.8" height="240" fill="#F4DAB8" opacity="0.44"/><rect x="10.3" y="48.4" width="0.6" height="87.4" fill="#C58044" opacity="0.39"/><rect x="77.1" y="52.6" width="0.5" height="106.8" fill="#F4DAB8" opacity="0.25"/><rect x="40.8" y="0" width="1.2" height="240" fill="#C58044" opacity="0.38"/><rect x="69.6" y="45.1" width="0.5" height="105.5" fill="#C58044" opacity="0.42"/><rect x="98.5" y="104.6" width="0.6" height="100.9" fill="#F4DAB8" opacity="0.36"/><rect x="52.4" y="0" width="0.5" height="240" fill="#C58044" opacity="0.37"/><rect x="100.3" y="0" width="1.6" height="240" fill="#C58044" opacity="0.36"/><rect x="84.4" y="0" width="0.8" height="240" fill="#C58044" opacity="0.32"/><rect x="110.7" y="0" width="0.6" height="240" fill="#F4DAB8" opacity="0.25"/><rect x="113.7" y="4.2" width="0.6" height="104.7" fill="#C58044" opacity="0.26"/><rect x="80.9" y="42.4" width="0.8" height="130.7" fill="#C58044" opacity="0.18"/><rect x="89.1" y="2.3" width="0.6" height="86.9" fill="#C58044" opacity="0.35"/><rect x="45.2" y="83.5" width="1.6" height="94.6" fill="#C58044" opacity="0.26"/><rect x="70.1" y="13.1" width="0.8" height="95.6" fill="#C58044" opacity="0.34"/><rect x="42.1" y="10.3" width="0.8" height="78.8" fill="#C58044" opacity="0.26"/><rect x="86" y="33.1" width="0.8" height="55.8" fill="#F4DAB8" opacity="0.39"/><rect x="46.4" y="0" width="0.5" height="240" fill="#C58044" opacity="0.18"/><rect x="36.8" y="0" width="1.6" height="240" fill="#C58044" opacity="0.26"/><rect x="19.2" y="0" width="0.8" height="240" fill="#F4DAB8" opacity="0.53"/><rect x="91.8" y="0" width="1.6" height="240" fill="#F4DAB8" opacity="0.25"/><rect x="118.3" y="14.4" width="1.6" height="121.2" fill="#C58044" opacity="0.32"/><rect x="107.9" y="141.1" width="0.8" height="91.7" fill="#C58044" opacity="0.24"/><rect x="102.9" y="64" width="1.2" height="61.3" fill="#F4DAB8" opacity="0.51"/><rect x="80.1" y="0" width="0.8" height="240" fill="#F4DAB8" opacity="0.37"/><rect x="32.7" y="12" width="0.8" height="161.2" fill="#F4DAB8" opacity="0.49"/><rect x="65.3" y="93" width="0.6" height="113.3" fill="#C58044" opacity="0.35"/><rect x="110.3" y="66.3" width="1.6" height="84.8" fill="#C58044" opacity="0.35"/><rect x="65.1" y="107.6" width="0.8" height="92.5" fill="#C58044" opacity="0.30"/><rect x="67.9" y="100.6" width="0.8" height="57" fill="#C58044" opacity="0.43"/><rect x="89.1" y="101.6" width="0.8" height="60.2" fill="#F4DAB8" opacity="0.55"/><rect x="37.1" y="0" width="1.6" height="240" fill="#C58044" opacity="0.35"/><rect x="16.9" y="50.7" width="0.8" height="165.9" fill="#C58044" opacity="0.39"/><rect x="62.5" y="0" width="0.5" height="240" fill="#C58044" opacity="0.18"/><rect x="83.4" y="118.7" width="1" height="71.7" fill="#F4DAB8" opacity="0.37"/><rect x="9.4" y="0" width="0.8" height="240" fill="#C58044" opacity="0.42"/><rect x="10.7" y="0" width="0.8" height="240" fill="#F4DAB8" opacity="0.30"/><rect x="18.1" y="69.5" width="1" height="159" fill="#C58044" opacity="0.16"/><rect x="58.8" y="110.9" width="1" height="116.6" fill="#F4DAB8" opacity="0.26"/><rect x="92.3" y="21" width="0.6" height="51.8" fill="#C58044" opacity="0.44"/><rect x="2.9" y="0" width="0.5" height="240" fill="#F4DAB8" opacity="0.41"/><rect x="101.6" y="0.1" width="1.6" height="144.9" fill="#F4DAB8" opacity="0.48"/><rect x="117" y="0" width="1.6" height="240" fill="#F4DAB8" opacity="0.28"/><rect x="47" y="0" width="1.6" height="240" fill="#F4DAB8" opacity="0.33"/><rect x="86.7" y="32.2" width="1" height="102.6" fill="#C58044" opacity="0.20"/><rect x="18" y="152" width="0.8" height="74.5" fill="#F4DAB8" opacity="0.44"/><rect x="73.2" y="141.6" width="1" height="78.6" fill="#F4DAB8" opacity="0.28"/><rect x="36.2" y="5.8" width="0.8" height="72.5" fill="#F4DAB8" opacity="0.23"/><rect x="82.2" y="0" width="1" height="240" fill="#F4DAB8" opacity="0.35"/><rect x="118.8" y="13.4" width="0.8" height="56.4" fill="#C58044" opacity="0.45"/><rect x="50.3" y="119.7" width="1.2" height="88.6" fill="#F4DAB8" opacity="0.30"/><rect x="71.2" y="0" width="1.2" height="240" fill="#C58044" opacity="0.42"/><rect x="6.2" y="0" width="0.5" height="240" fill="#F4DAB8" opacity="0.52"/><rect x="17.2" y="0" width="0.6" height="240" fill="#C58044" opacity="0.22"/><rect x="38.2" y="125" width="0.6" height="65" fill="#C58044" opacity="0.21"/><rect x="16.3" y="0" width="1.2" height="240" fill="#C58044" opacity="0.42"/><rect x="80.2" y="0" width="0.8" height="240" fill="#F4DAB8" opacity="0.30"/><rect x="112.7" y="71" width="0.5" height="135.1" fill="#F4DAB8" opacity="0.31"/><rect x="69.9" y="72.2" width="0.8" height="112.8" fill="#C58044" opacity="0.31"/><rect x="113.7" y="175.1" width="0.5" height="50" fill="#C58044" opacity="0.43"/><rect x="81.3" y="0" width="0.6" height="240" fill="#F4DAB8" opacity="0.40"/><rect x="35.3" y="42.1" width="1.6" height="119.7" fill="#C58044" opacity="0.30"/><rect x="4.7" y="1.8" width="0.6" height="165.3" fill="#C58044" opacity="0.27"/><rect x="6.2" y="0" width="0.6" height="240" fill="#F4DAB8" opacity="0.49"/><rect x="115.3" y="0" width="0.5" height="240" fill="#C58044" opacity="0.30"/><rect x="78.3" y="0" width="0.8" height="240" fill="#F4DAB8" opacity="0.26"/><rect x="116.6" y="0" width="0.8" height="240" fill="#C58044" opacity="0.26"/><rect x="56.8" y="24.7" width="1" height="68" fill="#C58044" opacity="0.33"/><rect x="51.6" y="139" width="1" height="87.9" fill="#F4DAB8" opacity="0.53"/><rect x="102.4" y="0" width="1.2" height="240" fill="#C58044" opacity="0.45"/><rect x="34.6" y="85.7" width="0.6" height="85.6" fill="#F4DAB8" opacity="0.45"/><rect x="40.8" y="0" width="1.2" height="240" fill="#C58044" opacity="0.25"/><rect x="67.1" y="62.4" width="0.8" height="144.1" fill="#C58044" opacity="0.35"/><rect x="48.1" y="53.7" width="0.8" height="123.8" fill="#F4DAB8" opacity="0.37"/><rect x="57.8" y="0" width="1.2" height="240" fill="#F4DAB8" opacity="0.39"/><rect x="6" y="135.9" width="0.8" height="76.1" fill="#C58044" opacity="0.23"/><rect x="108.3" y="0" width="1" height="240" fill="#F4DAB8" opacity="0.22"/><rect x="8.7" y="132.2" width="1.6" height="82.9" fill="#C58044" opacity="0.25"/><rect x="23.6" y="41.4" width="0.6" height="101.5" fill="#C58044" opacity="0.19"/><rect x="29.6" y="76" width="1.2" height="145.2" fill="#F4DAB8" opacity="0.49"/><rect x="36.4" y="0" width="0.6" height="240" fill="#C58044" opacity="0.44"/><rect x="79" y="108.2" width="0.8" height="121.3" fill="#C58044" opacity="0.34"/><rect x="7.7" y="0" width="1.2" height="240" fill="#F4DAB8" opacity="0.30"/><rect x="46.8" y="0" width="0.8" height="240" fill="#C58044" opacity="0.38"/><rect x="118.2" y="68.3" width="1" height="137.9" fill="#C58044" opacity="0.27"/><rect x="47.3" y="116.7" width="1.6" height="116.3" fill="#C58044" opacity="0.30"/><rect x="46.1" y="0" width="0.8" height="240" fill="#C58044" opacity="0.30"/><rect x="117.5" y="68.7" width="0.6" height="141" fill="#C58044" opacity="0.24"/><rect x="32.7" y="0" width="0.6" height="240" fill="#F4DAB8" opacity="0.47"/><rect x="12.4" y="24" width="0.8" height="157.4" fill="#C58044" opacity="0.34"/><rect x="115.5" y="0" width="1.6" height="240" fill="#F4DAB8" opacity="0.28"/><rect x="119" y="0" width="0.5" height="240" fill="#C58044" opacity="0.31"/><rect x="56.8" y="146.8" width="1.2" height="82.6" fill="#F4DAB8" opacity="0.35"/><rect x="47.8" y="0" width="0.8" height="240" fill="#F4DAB8" opacity="0.38"/><rect x="113.9" y="152.9" width="1.2" height="73.9" fill="#C58044" opacity="0.42"/><rect x="9.5" y="0" width="0.8" height="240" fill="#C58044" opacity="0.38"/><rect x="66.6" y="125.1" width="1.2" height="108" fill="#C58044" opacity="0.28"/><rect x="1.5" y="0" width="0.5" height="240" fill="#C58044" opacity="0.17"/><rect x="18" y="57" width="1" height="142.5" fill="#C58044" opacity="0.23"/><rect x="95.7" y="59.3" width="0.5" height="102.8" fill="#F4DAB8" opacity="0.37"/><rect x="114.6" y="89.1" width="0.5" height="48.3" fill="#C58044" opacity="0.41"/><rect x="119.4" y="41.4" width="0.8" height="137.3" fill="#C58044" opacity="0.35"/><rect x="73.9" y="0" width="0.5" height="240" fill="#C58044" opacity="0.22"/><rect x="68.4" y="0" width="0.8" height="240" fill="#F4DAB8" opacity="0.34"/><rect x="56.2" y="0" width="0.5" height="240" fill="#F4DAB8" opacity="0.46"/><rect x="118.4" y="0" width="1.6" height="240" fill="#C58044" opacity="0.19"/><rect x="36.5" y="60.9" width="0.6" height="134.5" fill="#C58044" opacity="0.41"/></pattern><pattern id="wI" width="120" height="240" patternUnits="userSpaceOnUse"><rect width="120" height="240" fill="#E6C8AA"/><rect x="23" y="0" width="6.3" height="240" fill="#F4E4D2" opacity="0.11"/><rect x="32.1" y="0" width="8.1" height="240" fill="#C08A64" opacity="0.17"/><rect x="24.6" y="0" width="10.4" height="240" fill="#F4E4D2" opacity="0.12"/><rect x="2.8" y="0" width="14.7" height="240" fill="#C08A64" opacity="0.16"/><rect x="10.7" y="0" width="13.4" height="240" fill="#F4E4D2" opacity="0.16"/><rect x="66" y="0" width="12.6" height="240" fill="#C08A64" opacity="0.17"/><rect x="60.5" y="96.5" width="1.6" height="96.2" fill="#C08A64" opacity="0.24"/><rect x="86.9" y="48.6" width="1" height="128.3" fill="#C08A64" opacity="0.22"/><rect x="92.4" y="59" width="1" height="135.2" fill="#F4E4D2" opacity="0.49"/><rect x="41.3" y="0" width="0.8" height="240" fill="#C08A64" opacity="0.22"/><rect x="47.8" y="69.7" width="0.6" height="100" fill="#F4E4D2" opacity="0.28"/><rect x="78.3" y="81.2" width="0.5" height="133.5" fill="#C08A64" opacity="0.32"/><rect x="30.2" y="22.5" width="1.2" height="96.9" fill="#F4E4D2" opacity="0.46"/><rect x="70.2" y="21.4" width="1.6" height="162" fill="#C08A64" opacity="0.31"/><rect x="59.4" y="47.9" width="0.6" height="143.2" fill="#C08A64" opacity="0.42"/><rect x="116.1" y="0" width="1.2" height="240" fill="#C08A64" opacity="0.29"/><rect x="63.6" y="27.4" width="0.8" height="162.4" fill="#C08A64" opacity="0.17"/><rect x="36" y="0" width="1.2" height="240" fill="#F4E4D2" opacity="0.28"/><rect x="84.6" y="0" width="0.6" height="240" fill="#C08A64" opacity="0.16"/><rect x="44.9" y="0" width="1.2" height="240" fill="#C08A64" opacity="0.34"/><rect x="100.1" y="0" width="1" height="240" fill="#F4E4D2" opacity="0.24"/><rect x="10.3" y="0" width="1.6" height="240" fill="#F4E4D2" opacity="0.21"/><rect x="6.9" y="0" width="1" height="240" fill="#C08A64" opacity="0.41"/><rect x="25.4" y="0" width="1.2" height="240" fill="#F4E4D2" opacity="0.48"/><rect x="108.5" y="68.2" width="1.6" height="85.6" fill="#C08A64" opacity="0.32"/><rect x="73.1" y="0" width="0.8" height="240" fill="#F4E4D2" opacity="0.42"/><rect x="18" y="15" width="0.8" height="154.4" fill="#F4E4D2" opacity="0.41"/><rect x="91.7" y="0" width="0.8" height="240" fill="#C08A64" opacity="0.21"/><rect x="105.9" y="8" width="1.6" height="105.5" fill="#C08A64" opacity="0.35"/><rect x="102" y="0" width="1.2" height="240" fill="#C08A64" opacity="0.31"/><rect x="70" y="0" width="0.5" height="240" fill="#C08A64" opacity="0.38"/><rect x="59" y="18.8" width="1" height="55.5" fill="#F4E4D2" opacity="0.44"/><rect x="21.2" y="0" width="0.8" height="240" fill="#F4E4D2" opacity="0.44"/><rect x="6.4" y="0" width="1.6" height="240" fill="#C08A64" opacity="0.26"/><rect x="43.2" y="2.3" width="0.6" height="84" fill="#F4E4D2" opacity="0.35"/><rect x="20.7" y="0" width="0.6" height="240" fill="#C08A64" opacity="0.29"/><rect x="61.4" y="75.4" width="0.8" height="153.6" fill="#C08A64" opacity="0.28"/><rect x="86.2" y="0" width="0.6" height="240" fill="#F4E4D2" opacity="0.38"/><rect x="56.2" y="58.1" width="1" height="167.7" fill="#C08A64" opacity="0.24"/><rect x="35.5" y="0" width="0.8" height="240" fill="#C08A64" opacity="0.34"/><rect x="34.3" y="0" width="0.6" height="240" fill="#C08A64" opacity="0.32"/><rect x="55.5" y="54.6" width="0.8" height="102.6" fill="#C08A64" opacity="0.41"/><rect x="119" y="45.2" width="1.6" height="56.9" fill="#C08A64" opacity="0.31"/><rect x="61.8" y="0" width="0.8" height="240" fill="#F4E4D2" opacity="0.32"/><rect x="114.6" y="28.2" width="1" height="49.6" fill="#F4E4D2" opacity="0.42"/><rect x="13.3" y="50" width="1" height="155.5" fill="#C08A64" opacity="0.17"/><rect x="85.1" y="56.6" width="0.5" height="156" fill="#F4E4D2" opacity="0.36"/><rect x="65.2" y="50" width="0.8" height="158.6" fill="#F4E4D2" opacity="0.45"/><rect x="110.9" y="0" width="1" height="240" fill="#C08A64" opacity="0.25"/><rect x="114.9" y="13.8" width="1" height="165.2" fill="#F4E4D2" opacity="0.48"/><rect x="26.9" y="0" width="0.6" height="240" fill="#F4E4D2" opacity="0.48"/><rect x="16.9" y="91.5" width="0.6" height="136.8" fill="#C08A64" opacity="0.45"/><rect x="96.6" y="17.7" width="1.6" height="86.3" fill="#F4E4D2" opacity="0.44"/><rect x="103.9" y="0" width="0.8" height="240" fill="#C08A64" opacity="0.23"/><rect x="85.8" y="0" width="0.6" height="240" fill="#C08A64" opacity="0.16"/><rect x="70.9" y="7.3" width="0.8" height="128.9" fill="#F4E4D2" opacity="0.28"/><rect x="34.8" y="112.5" width="1.6" height="62.4" fill="#C08A64" opacity="0.36"/><rect x="112.2" y="91" width="0.8" height="55.1" fill="#F4E4D2" opacity="0.39"/><rect x="5.8" y="0" width="0.5" height="240" fill="#C08A64" opacity="0.32"/><rect x="46.7" y="24.3" width="1" height="120.9" fill="#F4E4D2" opacity="0.43"/><rect x="77.3" y="0" width="1.2" height="240" fill="#F4E4D2" opacity="0.45"/><rect x="9.4" y="67.7" width="1.6" height="63.6" fill="#F4E4D2" opacity="0.35"/><rect x="45.1" y="5.4" width="0.6" height="134.7" fill="#C08A64" opacity="0.19"/><rect x="19.5" y="105.5" width="0.5" height="77" fill="#F4E4D2" opacity="0.45"/><rect x="16.6" y="3.1" width="0.8" height="158" fill="#F4E4D2" opacity="0.30"/><rect x="22.9" y="0" width="0.5" height="240" fill="#F4E4D2" opacity="0.38"/><rect x="8.5" y="22" width="1.6" height="93.1" fill="#C08A64" opacity="0.30"/><rect x="46.6" y="0" width="0.8" height="240" fill="#C08A64" opacity="0.16"/><rect x="96.8" y="0" width="0.5" height="240" fill="#C08A64" opacity="0.41"/><rect x="34.8" y="67.5" width="0.8" height="63.8" fill="#C08A64" opacity="0.26"/><rect x="84.8" y="0" width="1.2" height="240" fill="#F4E4D2" opacity="0.30"/><rect x="90" y="0" width="1.6" height="240" fill="#C08A64" opacity="0.34"/><rect x="75.4" y="11.3" width="1.6" height="139.9" fill="#C08A64" opacity="0.37"/><rect x="103.9" y="63.9" width="0.8" height="129.2" fill="#C08A64" opacity="0.42"/><rect x="33.3" y="108.8" width="0.6" height="126.7" fill="#F4E4D2" opacity="0.34"/><rect x="67.7" y="49.2" width="0.6" height="126.7" fill="#C08A64" opacity="0.21"/><rect x="114.6" y="0" width="0.8" height="240" fill="#C08A64" opacity="0.41"/><rect x="118.4" y="0" width="0.8" height="240" fill="#C08A64" opacity="0.33"/><rect x="65.1" y="0" width="0.8" height="240" fill="#C08A64" opacity="0.25"/><rect x="0.1" y="74.9" width="0.5" height="123.3" fill="#C08A64" opacity="0.30"/><rect x="3.2" y="79" width="0.8" height="75.9" fill="#C08A64" opacity="0.41"/><rect x="112.2" y="0" width="0.8" height="240" fill="#C08A64" opacity="0.22"/><rect x="86.8" y="16.7" width="1.6" height="130.3" fill="#C08A64" opacity="0.44"/><rect x="24.4" y="46.3" width="1" height="130.2" fill="#C08A64" opacity="0.31"/><rect x="23.4" y="4.4" width="1.2" height="164.2" fill="#F4E4D2" opacity="0.21"/><rect x="55.1" y="0" width="1.6" height="240" fill="#F4E4D2" opacity="0.36"/><rect x="100.4" y="0" width="0.5" height="240" fill="#C08A64" opacity="0.29"/><rect x="12.1" y="0" width="1" height="240" fill="#F4E4D2" opacity="0.39"/><rect x="15.4" y="81.5" width="1" height="151.2" fill="#F4E4D2" opacity="0.43"/><rect x="44.6" y="105.4" width="0.8" height="117.8" fill="#C08A64" opacity="0.44"/><rect x="34.4" y="0" width="1.6" height="240" fill="#C08A64" opacity="0.21"/><rect x="53" y="0" width="1.6" height="240" fill="#C08A64" opacity="0.30"/><rect x="61.2" y="54.4" width="0.5" height="91.1" fill="#F4E4D2" opacity="0.54"/><rect x="87.5" y="105.6" width="0.5" height="108.7" fill="#F4E4D2" opacity="0.52"/><rect x="58.1" y="7.2" width="0.8" height="150.6" fill="#F4E4D2" opacity="0.45"/><rect x="64" y="78.9" width="1.2" height="101.3" fill="#F4E4D2" opacity="0.28"/><rect x="17.8" y="0" width="1.2" height="240" fill="#F4E4D2" opacity="0.51"/><rect x="25.6" y="0" width="0.5" height="240" fill="#F4E4D2" opacity="0.25"/><rect x="19.5" y="6.6" width="0.5" height="137.9" fill="#C08A64" opacity="0.21"/><rect x="53.5" y="7.7" width="1" height="81.8" fill="#C08A64" opacity="0.28"/><rect x="9" y="0" width="1" height="240" fill="#C08A64" opacity="0.29"/><rect x="108.1" y="84.4" width="1.6" height="147.4" fill="#F4E4D2" opacity="0.37"/><rect x="36.8" y="0" width="0.8" height="240" fill="#C08A64" opacity="0.17"/><rect x="110.8" y="111.2" width="0.8" height="86.4" fill="#C08A64" opacity="0.39"/><rect x="4.9" y="0" width="1" height="240" fill="#C08A64" opacity="0.30"/><rect x="65.6" y="0" width="0.8" height="240" fill="#C08A64" opacity="0.25"/><rect x="20.2" y="0" width="1.2" height="240" fill="#F4E4D2" opacity="0.44"/><rect x="104.2" y="0" width="1.2" height="240" fill="#F4E4D2" opacity="0.38"/><rect x="27.7" y="85.4" width="0.6" height="107.6" fill="#F4E4D2" opacity="0.33"/><rect x="21.1" y="124.1" width="1" height="63.4" fill="#C08A64" opacity="0.33"/><rect x="92.4" y="42.4" width="1" height="141.9" fill="#F4E4D2" opacity="0.54"/><rect x="109.3" y="0" width="1.6" height="240" fill="#C08A64" opacity="0.26"/><rect x="42.2" y="0" width="1.6" height="240" fill="#C08A64" opacity="0.20"/><rect x="34.5" y="51" width="1.2" height="78.1" fill="#F4E4D2" opacity="0.48"/><rect x="110.6" y="80.9" width="0.8" height="124.3" fill="#C08A64" opacity="0.31"/><rect x="75.6" y="0" width="1" height="240" fill="#C08A64" opacity="0.22"/></pattern><pattern id="wH" width="120" height="240" patternUnits="userSpaceOnUse" patternTransform="rotate(90)"><rect width="120" height="240" fill="#E1AE7C"/><rect x="105.3" y="0" width="9.5" height="240" fill="#F2D8B6" opacity="0.15"/><rect x="24.2" y="0" width="8.9" height="240" fill="#BF7846" opacity="0.14"/><rect x="33.4" y="0" width="13.3" height="240" fill="#F2D8B6" opacity="0.10"/><rect x="76.7" y="0" width="14" height="240" fill="#BF7846" opacity="0.13"/><rect x="23" y="0" width="7.2" height="240" fill="#F2D8B6" opacity="0.11"/><rect x="95.1" y="0" width="12" height="240" fill="#BF7846" opacity="0.10"/><rect x="54.4" y="79.4" width="1" height="86.2" fill="#BF7846" opacity="0.23"/><rect x="16" y="50.4" width="1" height="152.2" fill="#F2D8B6" opacity="0.48"/><rect x="10.8" y="23.5" width="1" height="108.5" fill="#BF7846" opacity="0.24"/><rect x="38" y="58.5" width="0.8" height="162.8" fill="#BF7846" opacity="0.29"/><rect x="93.3" y="0" width="1.2" height="240" fill="#BF7846" opacity="0.41"/><rect x="96.7" y="62.3" width="1.2" height="130.7" fill="#BF7846" opacity="0.40"/><rect x="11.1" y="85.3" width="0.6" height="151.4" fill="#BF7846" opacity="0.18"/><rect x="16.8" y="123.4" width="0.6" height="81.5" fill="#F2D8B6" opacity="0.50"/><rect x="96.4" y="132.7" width="0.5" height="93.4" fill="#F2D8B6" opacity="0.32"/><rect x="77.8" y="46.2" width="1.2" height="128" fill="#BF7846" opacity="0.21"/><rect x="55.5" y="0" width="0.8" height="240" fill="#BF7846" opacity="0.31"/><rect x="71.6" y="0.4" width="1" height="117.8" fill="#BF7846" opacity="0.40"/><rect x="45.6" y="49.6" width="0.6" height="127.2" fill="#BF7846" opacity="0.41"/><rect x="59.3" y="0" width="1" height="240" fill="#F2D8B6" opacity="0.26"/><rect x="27.8" y="17.2" width="0.5" height="104.9" fill="#F2D8B6" opacity="0.28"/><rect x="77.8" y="144.3" width="1.2" height="89.8" fill="#F2D8B6" opacity="0.47"/><rect x="95.3" y="34.8" width="1" height="133.4" fill="#BF7846" opacity="0.19"/><rect x="5.4" y="44.3" width="0.8" height="159.4" fill="#BF7846" opacity="0.35"/><rect x="26.9" y="0" width="0.8" height="240" fill="#F2D8B6" opacity="0.33"/><rect x="37.3" y="0" width="0.6" height="240" fill="#BF7846" opacity="0.34"/><rect x="40.4" y="0" width="0.6" height="240" fill="#F2D8B6" opacity="0.47"/><rect x="27.7" y="15.8" width="1.2" height="161.1" fill="#F2D8B6" opacity="0.36"/><rect x="10.9" y="0" width="1.6" height="240" fill="#BF7846" opacity="0.26"/><rect x="56.6" y="5.1" width="1.6" height="160.1" fill="#F2D8B6" opacity="0.32"/><rect x="63.7" y="0" width="0.5" height="240" fill="#BF7846" opacity="0.21"/><rect x="96.6" y="6.3" width="0.5" height="156.5" fill="#BF7846" opacity="0.25"/><rect x="10.5" y="6.6" width="0.8" height="109.2" fill="#F2D8B6" opacity="0.30"/><rect x="50.3" y="6.7" width="0.5" height="146.4" fill="#F2D8B6" opacity="0.46"/><rect x="40.9" y="30.4" width="0.6" height="141" fill="#F2D8B6" opacity="0.30"/><rect x="111" y="0" width="1" height="240" fill="#F2D8B6" opacity="0.44"/><rect x="40.3" y="112.6" width="0.8" height="59.1" fill="#F2D8B6" opacity="0.47"/><rect x="18.9" y="0" width="0.6" height="240" fill="#BF7846" opacity="0.16"/><rect x="105.5" y="0" width="0.8" height="240" fill="#BF7846" opacity="0.20"/><rect x="50.3" y="61.8" width="0.8" height="114.8" fill="#F2D8B6" opacity="0.46"/><rect x="60.4" y="85.3" width="1.6" height="131.7" fill="#F2D8B6" opacity="0.31"/><rect x="115" y="128.6" width="1" height="109.9" fill="#BF7846" opacity="0.40"/><rect x="99.2" y="4.1" width="1" height="157" fill="#BF7846" opacity="0.26"/><rect x="113.8" y="143.1" width="0.6" height="80.4" fill="#BF7846" opacity="0.18"/><rect x="76.1" y="42.9" width="1.6" height="48.8" fill="#BF7846" opacity="0.41"/><rect x="93.3" y="66" width="0.8" height="97.1" fill="#BF7846" opacity="0.33"/><rect x="84.1" y="0" width="0.5" height="240" fill="#BF7846" opacity="0.25"/><rect x="12.5" y="78.9" width="0.8" height="62.9" fill="#F2D8B6" opacity="0.44"/><rect x="13.2" y="0" width="0.8" height="240" fill="#BF7846" opacity="0.31"/><rect x="16" y="72.8" width="0.8" height="159.8" fill="#BF7846" opacity="0.22"/><rect x="29.3" y="94.4" width="0.8" height="105.9" fill="#BF7846" opacity="0.24"/><rect x="78.4" y="0" width="0.6" height="240" fill="#F2D8B6" opacity="0.46"/><rect x="100.9" y="21.3" width="0.5" height="60" fill="#F2D8B6" opacity="0.51"/><rect x="65.8" y="54.1" width="0.8" height="164.6" fill="#BF7846" opacity="0.37"/><rect x="92.1" y="46.6" width="1" height="162.7" fill="#BF7846" opacity="0.37"/><rect x="16.4" y="37.7" width="0.8" height="73.4" fill="#BF7846" opacity="0.44"/><rect x="111" y="0" width="1.6" height="240" fill="#BF7846" opacity="0.25"/><rect x="81.7" y="6.1" width="1.2" height="137.3" fill="#F2D8B6" opacity="0.38"/><rect x="90.2" y="32.7" width="0.5" height="166.9" fill="#BF7846" opacity="0.35"/><rect x="83.2" y="0" width="0.8" height="240" fill="#BF7846" opacity="0.38"/><rect x="45.5" y="28" width="1.2" height="103.5" fill="#BF7846" opacity="0.35"/><rect x="65.8" y="0" width="0.5" height="240" fill="#BF7846" opacity="0.43"/><rect x="100.2" y="0" width="0.6" height="240" fill="#F2D8B6" opacity="0.44"/><rect x="109.6" y="78.8" width="1.2" height="128.4" fill="#F2D8B6" opacity="0.31"/><rect x="21" y="0" width="0.5" height="240" fill="#F2D8B6" opacity="0.43"/><rect x="6.5" y="86.7" width="1.2" height="54.3" fill="#BF7846" opacity="0.17"/><rect x="110.6" y="2" width="1.6" height="103.2" fill="#BF7846" opacity="0.34"/><rect x="103.6" y="0" width="1" height="240" fill="#F2D8B6" opacity="0.43"/><rect x="38.8" y="103" width="0.8" height="119.2" fill="#BF7846" opacity="0.45"/><rect x="55.5" y="0" width="1.2" height="240" fill="#F2D8B6" opacity="0.31"/><rect x="42.2" y="0" width="1" height="240" fill="#F2D8B6" opacity="0.44"/><rect x="11.7" y="9.4" width="0.8" height="137.3" fill="#BF7846" opacity="0.26"/><rect x="5.5" y="89.5" width="1" height="71.5" fill="#F2D8B6" opacity="0.20"/><rect x="36.2" y="0" width="1.2" height="240" fill="#BF7846" opacity="0.31"/><rect x="31.9" y="0" width="1" height="240" fill="#F2D8B6" opacity="0.51"/><rect x="114.2" y="64.2" width="1.6" height="132.1" fill="#BF7846" opacity="0.37"/><rect x="6.6" y="0" width="0.6" height="240" fill="#F2D8B6" opacity="0.49"/><rect x="64.2" y="0" width="1" height="240" fill="#BF7846" opacity="0.34"/><rect x="72.6" y="0" width="0.6" height="240" fill="#F2D8B6" opacity="0.54"/><rect x="7.1" y="0" width="0.8" height="240" fill="#F2D8B6" opacity="0.43"/><rect x="31.2" y="0" width="0.6" height="240" fill="#BF7846" opacity="0.28"/><rect x="101.7" y="78.6" width="1" height="154.7" fill="#F2D8B6" opacity="0.49"/><rect x="10.8" y="68.7" width="1" height="105.9" fill="#BF7846" opacity="0.22"/><rect x="86.6" y="0" width="1" height="240" fill="#BF7846" opacity="0.17"/><rect x="106.4" y="44.2" width="1.6" height="150.9" fill="#BF7846" opacity="0.23"/><rect x="78" y="12.9" width="0.5" height="129.4" fill="#BF7846" opacity="0.36"/><rect x="39.5" y="91.2" width="1.6" height="63.1" fill="#BF7846" opacity="0.41"/><rect x="82.6" y="0" width="0.8" height="240" fill="#BF7846" opacity="0.26"/><rect x="22.8" y="0" width="0.5" height="240" fill="#F2D8B6" opacity="0.55"/><rect x="93.2" y="0" width="0.8" height="240" fill="#F2D8B6" opacity="0.22"/><rect x="73.5" y="0" width="1" height="240" fill="#BF7846" opacity="0.23"/><rect x="10.1" y="0" width="0.5" height="240" fill="#F2D8B6" opacity="0.37"/><rect x="50.4" y="26.4" width="0.8" height="153.7" fill="#F2D8B6" opacity="0.35"/><rect x="55.6" y="4.4" width="0.8" height="152.9" fill="#BF7846" opacity="0.22"/><rect x="82.5" y="49.5" width="1.6" height="72.3" fill="#BF7846" opacity="0.30"/><rect x="12.8" y="68.5" width="0.6" height="54.2" fill="#BF7846" opacity="0.17"/><rect x="35.4" y="0" width="0.5" height="240" fill="#BF7846" opacity="0.41"/><rect x="104" y="0" width="0.5" height="240" fill="#BF7846" opacity="0.33"/><rect x="79" y="0" width="0.5" height="240" fill="#F2D8B6" opacity="0.24"/><rect x="11.9" y="0" width="1.2" height="240" fill="#BF7846" opacity="0.22"/><rect x="47.2" y="0" width="1.6" height="240" fill="#BF7846" opacity="0.26"/><rect x="28.9" y="24.3" width="0.8" height="131.3" fill="#F2D8B6" opacity="0.37"/><rect x="33.8" y="45" width="1" height="109.1" fill="#BF7846" opacity="0.31"/><rect x="6.2" y="33.6" width="1.2" height="153.7" fill="#BF7846" opacity="0.20"/><rect x="87.1" y="0" width="1" height="240" fill="#F2D8B6" opacity="0.24"/><rect x="10" y="38.4" width="1.6" height="147.8" fill="#BF7846" opacity="0.15"/><rect x="34" y="91.9" width="0.5" height="125.2" fill="#BF7846" opacity="0.19"/><rect x="36.5" y="0" width="0.6" height="240" fill="#BF7846" opacity="0.34"/><rect x="19.1" y="16" width="1.6" height="154.4" fill="#BF7846" opacity="0.37"/><rect x="99.8" y="0" width="0.8" height="240" fill="#F2D8B6" opacity="0.47"/><rect x="56.8" y="0" width="0.6" height="240" fill="#BF7846" opacity="0.41"/><rect x="116.3" y="0" width="1.6" height="240" fill="#BF7846" opacity="0.41"/><rect x="36.3" y="0" width="1" height="240" fill="#BF7846" opacity="0.44"/><rect x="60.7" y="46.8" width="0.6" height="112.2" fill="#BF7846" opacity="0.38"/><rect x="57.6" y="41" width="0.6" height="150.4" fill="#BF7846" opacity="0.17"/><rect x="94.7" y="63.4" width="1" height="146.8" fill="#BF7846" opacity="0.19"/></pattern><pattern id="wP" width="120" height="240" patternUnits="userSpaceOnUse"><rect width="120" height="240" fill="#DFB47C"/><rect x="61" y="0" width="12.5" height="240" fill="#EED4A4" opacity="0.11"/><rect x="12.7" y="0" width="6.8" height="240" fill="#C08C4C" opacity="0.11"/><rect x="53.4" y="0" width="12.8" height="240" fill="#EED4A4" opacity="0.18"/><rect x="110" y="0" width="12.2" height="240" fill="#C08C4C" opacity="0.19"/><rect x="68.5" y="0" width="11.4" height="240" fill="#EED4A4" opacity="0.10"/><rect x="41.7" y="0" width="7" height="240" fill="#C08C4C" opacity="0.17"/><rect x="16.3" y="0" width="0.5" height="240" fill="#EED4A4" opacity="0.40"/><rect x="49.1" y="0" width="1" height="240" fill="#EED4A4" opacity="0.21"/><rect x="3.4" y="93.1" width="1.6" height="96.1" fill="#EED4A4" opacity="0.32"/><rect x="22.3" y="28.7" width="0.6" height="137.7" fill="#C08C4C" opacity="0.24"/><rect x="91.1" y="20" width="0.8" height="145.2" fill="#C08C4C" opacity="0.20"/><rect x="66.8" y="0" width="0.5" height="240" fill="#C08C4C" opacity="0.24"/><rect x="13.6" y="10.8" width="0.5" height="77.7" fill="#EED4A4" opacity="0.44"/><rect x="107.5" y="0" width="0.8" height="240" fill="#EED4A4" opacity="0.53"/><rect x="99.4" y="99.4" width="1.6" height="68.7" fill="#EED4A4" opacity="0.28"/><rect x="74" y="0" width="0.5" height="240" fill="#C08C4C" opacity="0.22"/><rect x="77" y="0" width="1.6" height="240" fill="#C08C4C" opacity="0.35"/><rect x="29.1" y="0" width="0.5" height="240" fill="#C08C4C" opacity="0.31"/><rect x="62.2" y="32.3" width="1" height="52.2" fill="#C08C4C" opacity="0.33"/><rect x="35.1" y="0" width="1" height="240" fill="#C08C4C" opacity="0.43"/><rect x="35.2" y="0" width="1" height="240" fill="#C08C4C" opacity="0.29"/><rect x="114.8" y="0" width="1" height="240" fill="#EED4A4" opacity="0.30"/><rect x="24.4" y="122.2" width="0.6" height="69.5" fill="#C08C4C" opacity="0.36"/><rect x="95.5" y="35" width="1.6" height="121.5" fill="#C08C4C" opacity="0.36"/><rect x="25.8" y="0" width="1.2" height="240" fill="#C08C4C" opacity="0.24"/><rect x="32.3" y="58.6" width="1.6" height="82.6" fill="#C08C4C" opacity="0.37"/><rect x="86.3" y="0" width="0.6" height="240" fill="#EED4A4" opacity="0.38"/><rect x="62.2" y="12.7" width="0.8" height="94.2" fill="#EED4A4" opacity="0.41"/><rect x="86.2" y="0" width="1" height="240" fill="#C08C4C" opacity="0.45"/><rect x="58.4" y="84.2" width="1.6" height="113.8" fill="#C08C4C" opacity="0.18"/><rect x="81" y="0" width="1.2" height="240" fill="#C08C4C" opacity="0.37"/><rect x="89.3" y="24.7" width="0.8" height="91" fill="#C08C4C" opacity="0.20"/><rect x="85.5" y="48.3" width="0.6" height="74.6" fill="#C08C4C" opacity="0.29"/><rect x="65.9" y="88.1" width="0.6" height="101.8" fill="#C08C4C" opacity="0.20"/><rect x="42.7" y="0" width="0.8" height="240" fill="#C08C4C" opacity="0.33"/><rect x="118" y="58.1" width="1.6" height="143.1" fill="#EED4A4" opacity="0.53"/><rect x="71.9" y="0" width="0.8" height="240" fill="#C08C4C" opacity="0.33"/><rect x="110.3" y="25.1" width="0.6" height="82.6" fill="#EED4A4" opacity="0.35"/><rect x="50.6" y="86.8" width="1" height="103.9" fill="#C08C4C" opacity="0.43"/><rect x="21.2" y="42.4" width="1" height="113.6" fill="#EED4A4" opacity="0.45"/><rect x="52.4" y="74.1" width="1.2" height="120.9" fill="#EED4A4" opacity="0.55"/><rect x="47.2" y="70.8" width="0.8" height="110.7" fill="#C08C4C" opacity="0.43"/><rect x="89.1" y="0" width="0.5" height="240" fill="#EED4A4" opacity="0.38"/><rect x="104.8" y="90.2" width="0.8" height="142.7" fill="#EED4A4" opacity="0.36"/><rect x="115.5" y="0" width="0.8" height="240" fill="#EED4A4" opacity="0.31"/><rect x="58.9" y="52.8" width="1" height="150.6" fill="#C08C4C" opacity="0.35"/><rect x="28.8" y="0" width="0.8" height="240" fill="#C08C4C" opacity="0.27"/><rect x="51.3" y="0" width="0.6" height="240" fill="#C08C4C" opacity="0.39"/><rect x="32.8" y="0" width="1" height="240" fill="#C08C4C" opacity="0.17"/><rect x="39.7" y="113.5" width="0.8" height="75.3" fill="#C08C4C" opacity="0.38"/><rect x="119.5" y="0" width="0.8" height="240" fill="#C08C4C" opacity="0.21"/><rect x="75.2" y="0" width="0.8" height="240" fill="#C08C4C" opacity="0.18"/><rect x="4.2" y="0" width="0.5" height="240" fill="#EED4A4" opacity="0.51"/><rect x="95.4" y="0" width="1" height="240" fill="#EED4A4" opacity="0.44"/><rect x="119.4" y="0" width="1" height="240" fill="#C08C4C" opacity="0.21"/><rect x="90" y="126.5" width="0.8" height="77.8" fill="#EED4A4" opacity="0.24"/><rect x="60.9" y="1.2" width="0.6" height="78.4" fill="#EED4A4" opacity="0.52"/><rect x="88" y="49.1" width="1.2" height="140.2" fill="#EED4A4" opacity="0.24"/><rect x="79" y="80.9" width="0.8" height="86" fill="#EED4A4" opacity="0.34"/><rect x="92.7" y="129.3" width="0.5" height="84" fill="#C08C4C" opacity="0.32"/><rect x="105.7" y="0" width="0.5" height="240" fill="#C08C4C" opacity="0.28"/><rect x="82.1" y="105.5" width="0.8" height="92.2" fill="#C08C4C" opacity="0.33"/><rect x="90.7" y="99.3" width="0.8" height="105.6" fill="#EED4A4" opacity="0.42"/><rect x="14.2" y="13.9" width="0.6" height="138" fill="#C08C4C" opacity="0.24"/><rect x="87.4" y="5.1" width="1.6" height="127.5" fill="#C08C4C" opacity="0.17"/><rect x="28" y="44.2" width="1.6" height="145.1" fill="#EED4A4" opacity="0.40"/><rect x="22.2" y="0" width="1" height="240" fill="#EED4A4" opacity="0.27"/><rect x="62.9" y="90.3" width="1" height="98.1" fill="#C08C4C" opacity="0.29"/><rect x="55.4" y="85.1" width="1.6" height="153.6" fill="#C08C4C" opacity="0.38"/><rect x="82.8" y="8.4" width="1" height="118.3" fill="#EED4A4" opacity="0.42"/><rect x="18.1" y="33.6" width="0.8" height="99.5" fill="#EED4A4" opacity="0.44"/><rect x="106.3" y="8.7" width="0.8" height="108.8" fill="#C08C4C" opacity="0.42"/><rect x="2.6" y="102" width="1" height="135.1" fill="#C08C4C" opacity="0.28"/><rect x="78.2" y="0" width="0.8" height="240" fill="#EED4A4" opacity="0.28"/><rect x="96.4" y="0" width="0.8" height="240" fill="#EED4A4" opacity="0.30"/><rect x="57.1" y="0" width="1.6" height="240" fill="#C08C4C" opacity="0.44"/><rect x="94.9" y="17.6" width="0.8" height="126.5" fill="#C08C4C" opacity="0.25"/><rect x="77" y="16.4" width="1" height="148" fill="#C08C4C" opacity="0.18"/><rect x="45.5" y="0" width="0.8" height="240" fill="#C08C4C" opacity="0.35"/><rect x="111.7" y="0" width="0.8" height="240" fill="#EED4A4" opacity="0.40"/><rect x="70.3" y="51" width="1.2" height="105.5" fill="#EED4A4" opacity="0.40"/><rect x="113.1" y="0" width="1" height="240" fill="#C08C4C" opacity="0.33"/><rect x="114.6" y="24.9" width="1.2" height="167.4" fill="#EED4A4" opacity="0.50"/><rect x="62.2" y="32.2" width="0.6" height="114.2" fill="#C08C4C" opacity="0.29"/><rect x="42.2" y="0" width="1" height="240" fill="#C08C4C" opacity="0.21"/><rect x="46.7" y="41.7" width="1.2" height="136.5" fill="#C08C4C" opacity="0.33"/><rect x="79" y="54.4" width="0.8" height="166.9" fill="#C08C4C" opacity="0.21"/><rect x="52" y="0" width="0.8" height="240" fill="#C08C4C" opacity="0.20"/><rect x="46.2" y="0" width="0.8" height="240" fill="#EED4A4" opacity="0.29"/><rect x="18.9" y="0" width="1.2" height="240" fill="#C08C4C" opacity="0.26"/><rect x="85.5" y="17.5" width="0.8" height="72.8" fill="#C08C4C" opacity="0.23"/><rect x="46.1" y="0" width="0.8" height="240" fill="#C08C4C" opacity="0.17"/><rect x="43.7" y="0" width="0.8" height="240" fill="#EED4A4" opacity="0.54"/><rect x="58.6" y="0" width="1.6" height="240" fill="#C08C4C" opacity="0.40"/><rect x="75.9" y="105.6" width="0.6" height="86.3" fill="#EED4A4" opacity="0.40"/><rect x="89.5" y="0" width="0.6" height="240" fill="#EED4A4" opacity="0.54"/><rect x="41.8" y="0" width="0.6" height="240" fill="#C08C4C" opacity="0.35"/><rect x="109.3" y="0" width="1.6" height="240" fill="#C08C4C" opacity="0.30"/><rect x="82.9" y="73.6" width="1.2" height="122.7" fill="#EED4A4" opacity="0.28"/><rect x="50.3" y="0" width="1.2" height="240" fill="#EED4A4" opacity="0.38"/><rect x="90.9" y="39.4" width="0.6" height="158.6" fill="#C08C4C" opacity="0.35"/><rect x="19.2" y="68.7" width="0.8" height="108.7" fill="#EED4A4" opacity="0.21"/><rect x="98.5" y="0" width="0.8" height="240" fill="#C08C4C" opacity="0.35"/><rect x="63.4" y="0" width="1.6" height="240" fill="#EED4A4" opacity="0.53"/><rect x="112.6" y="62.6" width="0.8" height="135.9" fill="#C08C4C" opacity="0.20"/><rect x="77" y="1" width="0.8" height="111.9" fill="#C08C4C" opacity="0.39"/><rect x="46.9" y="0" width="0.8" height="240" fill="#C08C4C" opacity="0.31"/><rect x="34.9" y="103.9" width="0.8" height="91.9" fill="#EED4A4" opacity="0.47"/><rect x="36.4" y="11.5" width="0.5" height="129.8" fill="#C08C4C" opacity="0.33"/><rect x="49.1" y="93.3" width="1.2" height="101.9" fill="#C08C4C" opacity="0.30"/><rect x="27.9" y="0" width="1.6" height="240" fill="#EED4A4" opacity="0.45"/><rect x="19.9" y="33" width="0.8" height="140.3" fill="#C08C4C" opacity="0.30"/><rect x="89.6" y="0" width="0.8" height="240" fill="#C08C4C" opacity="0.16"/><rect x="56.2" y="16.2" width="0.8" height="132.1" fill="#EED4A4" opacity="0.42"/><rect x="54.7" y="0" width="1.2" height="240" fill="#C08C4C" opacity="0.39"/><rect x="34.5" y="0" width="0.5" height="240" fill="#EED4A4" opacity="0.27"/></pattern><pattern id="wY" width="120" height="240" patternUnits="userSpaceOnUse" patternTransform="rotate(75)"><rect width="120" height="240" fill="#F0D090"/><rect x="95.4" y="0" width="11.2" height="240" fill="#FAE8BC" opacity="0.10"/><rect x="73.8" y="0" width="14.3" height="240" fill="#DDB068" opacity="0.17"/><rect x="21.6" y="0" width="15.5" height="240" fill="#FAE8BC" opacity="0.12"/><rect x="61" y="0" width="10.6" height="240" fill="#DDB068" opacity="0.12"/><rect x="32" y="0" width="7.9" height="240" fill="#FAE8BC" opacity="0.12"/><rect x="4.9" y="0" width="12.5" height="240" fill="#DDB068" opacity="0.17"/><rect x="30.2" y="0" width="1.2" height="240" fill="#DDB068" opacity="0.43"/><rect x="77.9" y="87.3" width="0.8" height="131.9" fill="#DDB068" opacity="0.24"/><rect x="10.3" y="132.5" width="1.2" height="62" fill="#FAE8BC" opacity="0.48"/><rect x="74.6" y="53.5" width="1.2" height="166.5" fill="#DDB068" opacity="0.34"/><rect x="45.8" y="26.8" width="0.5" height="123.6" fill="#FAE8BC" opacity="0.49"/><rect x="101.1" y="69.8" width="1.2" height="94.8" fill="#DDB068" opacity="0.43"/><rect x="117.4" y="0" width="1.6" height="240" fill="#FAE8BC" opacity="0.46"/><rect x="91.5" y="0" width="0.8" height="240" fill="#DDB068" opacity="0.17"/><rect x="30.9" y="134.6" width="0.5" height="58.2" fill="#DDB068" opacity="0.40"/><rect x="91.1" y="78.8" width="1" height="48.8" fill="#FAE8BC" opacity="0.54"/><rect x="40.2" y="142.9" width="0.8" height="80.6" fill="#DDB068" opacity="0.25"/><rect x="3.4" y="53.4" width="1" height="159.4" fill="#DDB068" opacity="0.31"/><rect x="26.3" y="65.8" width="1.2" height="162.8" fill="#DDB068" opacity="0.42"/><rect x="34.7" y="0" width="0.5" height="240" fill="#FAE8BC" opacity="0.48"/><rect x="90.5" y="0" width="1.6" height="240" fill="#DDB068" opacity="0.34"/><rect x="114.8" y="0" width="0.5" height="240" fill="#DDB068" opacity="0.21"/><rect x="1.7" y="0" width="0.8" height="240" fill="#FAE8BC" opacity="0.43"/><rect x="73.6" y="102.9" width="1" height="56.4" fill="#DDB068" opacity="0.24"/><rect x="26.8" y="76.9" width="0.6" height="79.5" fill="#DDB068" opacity="0.44"/><rect x="23.1" y="0" width="0.8" height="240" fill="#DDB068" opacity="0.21"/><rect x="71.3" y="0" width="1.2" height="240" fill="#DDB068" opacity="0.33"/><rect x="91.7" y="39.7" width="0.8" height="91" fill="#DDB068" opacity="0.19"/><rect x="21.2" y="59.2" width="0.5" height="162.1" fill="#DDB068" opacity="0.40"/><rect x="59.1" y="0" width="0.8" height="240" fill="#FAE8BC" opacity="0.24"/><rect x="104.6" y="43" width="0.8" height="99.8" fill="#DDB068" opacity="0.21"/><rect x="101.7" y="0" width="0.5" height="240" fill="#FAE8BC" opacity="0.30"/><rect x="114.1" y="0" width="0.8" height="240" fill="#DDB068" opacity="0.34"/><rect x="88.3" y="72.3" width="0.8" height="161.1" fill="#DDB068" opacity="0.18"/><rect x="93.3" y="0" width="1" height="240" fill="#FAE8BC" opacity="0.37"/><rect x="104" y="0" width="1" height="240" fill="#FAE8BC" opacity="0.35"/><rect x="34.7" y="0" width="1" height="240" fill="#DDB068" opacity="0.19"/><rect x="12.4" y="0" width="0.8" height="240" fill="#DDB068" opacity="0.33"/><rect x="47.9" y="117.7" width="0.8" height="115" fill="#FAE8BC" opacity="0.37"/><rect x="89.2" y="0" width="0.5" height="240" fill="#FAE8BC" opacity="0.53"/><rect x="74.5" y="0" width="0.6" height="240" fill="#FAE8BC" opacity="0.46"/><rect x="42.8" y="0" width="0.8" height="240" fill="#DDB068" opacity="0.31"/><rect x="25.5" y="131.7" width="1" height="95.1" fill="#DDB068" opacity="0.33"/><rect x="17.3" y="0" width="0.8" height="240" fill="#DDB068" opacity="0.18"/><rect x="109.5" y="49.7" width="0.6" height="162" fill="#FAE8BC" opacity="0.41"/><rect x="58" y="0" width="1" height="240" fill="#DDB068" opacity="0.32"/><rect x="0.2" y="0" width="0.6" height="240" fill="#FAE8BC" opacity="0.44"/><rect x="104.2" y="59.4" width="1.6" height="164.9" fill="#DDB068" opacity="0.32"/><rect x="60.7" y="39.1" width="0.8" height="76" fill="#FAE8BC" opacity="0.22"/><rect x="69.7" y="48.7" width="0.5" height="65.6" fill="#DDB068" opacity="0.30"/><rect x="70.6" y="0" width="0.8" height="240" fill="#FAE8BC" opacity="0.31"/><rect x="8.1" y="116.7" width="0.6" height="48.6" fill="#FAE8BC" opacity="0.46"/><rect x="56.1" y="33.9" width="0.6" height="144.2" fill="#DDB068" opacity="0.38"/><rect x="42.2" y="0" width="1.2" height="240" fill="#DDB068" opacity="0.39"/><rect x="51.3" y="80.5" width="0.8" height="78.2" fill="#DDB068" opacity="0.33"/><rect x="109.1" y="0" width="1.2" height="240" fill="#DDB068" opacity="0.15"/><rect x="57" y="62" width="1.6" height="127.3" fill="#DDB068" opacity="0.43"/><rect x="36" y="0" width="0.6" height="240" fill="#DDB068" opacity="0.22"/><rect x="43.9" y="0" width="0.8" height="240" fill="#FAE8BC" opacity="0.42"/><rect x="47.5" y="140.1" width="1.2" height="89.6" fill="#FAE8BC" opacity="0.32"/><rect x="64.9" y="59.9" width="0.8" height="121.5" fill="#DDB068" opacity="0.45"/><rect x="104.6" y="0" width="0.8" height="240" fill="#DDB068" opacity="0.29"/><rect x="113.6" y="70.7" width="0.5" height="52.5" fill="#DDB068" opacity="0.38"/><rect x="71.3" y="108.6" width="0.6" height="118.4" fill="#DDB068" opacity="0.18"/><rect x="115.9" y="0" width="0.8" height="240" fill="#FAE8BC" opacity="0.37"/><rect x="60.4" y="94.8" width="0.8" height="143" fill="#FAE8BC" opacity="0.42"/></pattern>
<radialGradient id="gBall" cx="0.62" cy="0.38" r="0.8"><stop offset="0" stop-color="#FFF6DC"/><stop offset="0.32" stop-color="#DFCE82"/><stop offset="0.72" stop-color="#BCA84C"/><stop offset="1" stop-color="#8E7C28"/></radialGradient>
<radialGradient id="gRed" gradientUnits="userSpaceOnUse" cx="18" cy="133" r="80"><stop offset="0" stop-color="#E02222"/><stop offset="0.25" stop-color="#A81A1E"/><stop offset="0.6" stop-color="#561A1D"/><stop offset="1" stop-color="#2E1B1D"/></radialGradient>
<radialGradient id="gRed2" gradientUnits="userSpaceOnUse" cx="28" cy="134" r="108"><stop offset="0" stop-color="#C21830"/><stop offset="0.15" stop-color="#920F1E"/><stop offset="0.34" stop-color="#5A0910"/><stop offset="0.58" stop-color="#300509"/><stop offset="1" stop-color="#1E0305"/></radialGradient>
<radialGradient id="gRed3" gradientUnits="userSpaceOnUse" cx="27" cy="150" r="105"><stop offset="0" stop-color="#CC1632"/><stop offset="0.2" stop-color="#981022"/><stop offset="0.45" stop-color="#5E0A14"/><stop offset="0.72" stop-color="#2C0509"/><stop offset="1" stop-color="#1E0405"/></radialGradient>
<linearGradient id="gNeck2" x1="0" y1="0" x2="0" y2="1"><stop offset="0" stop-color="#2C4A1C"/><stop offset="1" stop-color="#55803F"/></linearGradient>
<radialGradient id="gVig" cx="0.5" cy="0.5" r="0.72"><stop offset="0" stop-color="#C46A28" stop-opacity="0"/><stop offset="0.45" stop-color="#C46A28" stop-opacity="0.03"/><stop offset="0.8" stop-color="#C06428" stop-opacity="0.26"/><stop offset="1" stop-color="#B0541A" stop-opacity="0.58"/></radialGradient>
<radialGradient id="gVigP" cx="0.5" cy="0.5" r="0.72"><stop offset="0" stop-color="#C8883A" stop-opacity="0"/><stop offset="0.6" stop-color="#C8883A" stop-opacity="0"/><stop offset="1" stop-color="#C07A30" stop-opacity="0.35"/></radialGradient>
<radialGradient id="gVigI" cx="0.5" cy="0.5" r="0.72"><stop offset="0" stop-color="#B87848" stop-opacity="0"/><stop offset="0.6" stop-color="#B87848" stop-opacity="0"/><stop offset="1" stop-color="#B87848" stop-opacity="0.3"/></radialGradient>
<linearGradient id="gRib" x1="1" y1="0" x2="0" y2="1"><stop offset="0" stop-color="#3C9C4C"/><stop offset="1" stop-color="#A4E0A6"/></linearGradient>
<clipPath id="cpRed"><rect x="-70" y="88.5" width="140" height="300"/></clipPath>
<clipPath id="cpGreen"><rect x="-70" y="0" width="140" height="88.5"/></clipPath>
<g id="bottle1">
<path d="M-22.6 29 L-22.6 78 C-22.6 100 -57.6 110 -57.6 150 L-57.6 362 Q-57.6 373 -43.6 374 Q0 377.5 43.6 374 Q57.6 373 57.6 362 L57.6 150 C57.6 110 22.6 100 22.6 78 L22.6 29 Z" fill="#54903A" clip-path="url(#cpGreen)"/>
<path d="M-22.6 29 L-22.6 78 C-22.6 100 -57.6 110 -57.6 150 L-57.6 362 Q-57.6 373 -43.6 374 Q0 377.5 43.6 374 Q57.6 373 57.6 362 L57.6 150 C57.6 110 22.6 100 22.6 78 L22.6 29 Z" fill="url(#gRed)" clip-path="url(#cpRed)"/>
<path d="M-22.6 29 L-22.6 78 C-22.6 100 -57.6 110 -57.6 150 L-57.6 362 Q-57.6 373 -43.6 374 Q0 377.5 43.6 374 Q57.6 373 57.6 362 L57.6 150 C57.6 110 22.6 100 22.6 78 L22.6 29 Z" fill="none" stroke="#1a1010" stroke-width="1"/>
<path d="M-24.5 1.5 Q-24.5 0 -23 0 L23 0 Q24.5 0 24.5 1.5 L23.2 19 Q26 20.5 26 23.5 Q26 27 23 29.5 L-23 29.5 Q-26 27 -26 23.5 Q-26 20.5 -23.2 19 Z" fill="#33720E"/>
</g>
<g id="bottle3">
<path d="M-22.6 29 L-22.6 78 C-22.6 100 -57.6 110 -57.6 150 L-57.6 362 Q-57.6 373 -43.6 374 Q0 377.5 43.6 374 Q57.6 373 57.6 362 L57.6 150 C57.6 110 22.6 100 22.6 78 L22.6 29 Z" fill="url(#gNeck2)" clip-path="url(#cpGreen)"/>
<path d="M-22.6 29 L-22.6 78 C-22.6 100 -57.6 110 -57.6 150 L-57.6 362 Q-57.6 373 -43.6 374 Q0 377.5 43.6 374 Q57.6 373 57.6 362 L57.6 150 C57.6 110 22.6 100 22.6 78 L22.6 29 Z" fill="url(#gRed3)" clip-path="url(#cpRed)"/>
<path d="M-22.6 29 L-22.6 78 C-22.6 100 -57.6 110 -57.6 150 L-57.6 362 Q-57.6 373 -43.6 374 Q0 377.5 43.6 374 Q57.6 373 57.6 362 L57.6 150 C57.6 110 22.6 100 22.6 78 L22.6 29 Z" fill="none" stroke="#1a0808" stroke-width="1"/>
</g>
<g id="bottle2">
<path d="M-22.6 29 L-22.6 78 C-22.6 100 -57.6 110 -57.6 150 L-57.6 362 Q-57.6 373 -43.6 374 Q0 377.5 43.6 374 Q57.6 373 57.6 362 L57.6 150 C57.6 110 22.6 100 22.6 78 L22.6 29 Z" fill="url(#gNeck2)" clip-path="url(#cpGreen)"/>
<path d="M-22.6 29 L-22.6 78 C-22.6 100 -57.6 110 -57.6 150 L-57.6 362 Q-57.6 373 -43.6 374 Q0 377.5 43.6 374 Q57.6 373 57.6 362 L57.6 150 C57.6 110 22.6 100 22.6 78 L22.6 29 Z" fill="url(#gRed2)" clip-path="url(#cpRed)"/>
<path d="M-22.6 29 L-22.6 78 C-22.6 100 -57.6 110 -57.6 150 L-57.6 362 Q-57.6 373 -43.6 374 Q0 377.5 43.6 374 Q57.6 373 57.6 362 L57.6 150 C57.6 110 22.6 100 22.6 78 L22.6 29 Z" fill="none" stroke="#1a0808" stroke-width="1"/>
</g><g id="boxBack"><polygon points="0,0 108.6,-83.1 227.7,-32.1 120,62.8" fill="url(#wT)"/><polygon points="0,0 108.6,-83.1 227.7,-32.1 120,62.8" fill="url(#gVig)" stroke="#000" stroke-width="1.3" stroke-linejoin="round" /><polygon points="35.1,-18.5 78.9,-51.7 141.9,-58.4 190,-36.1 193,-13.6 153,22.2 86.4,31.1 78.3,40.8 73.2,107.2 73.2,107.2 74.9,110 76.4,113 77.4,116.1 78.1,119.1 78.5,122.2 78.4,125.1 78,127.8 77.2,130.3 76,132.6 74.6,134.5 72.8,136 70.7,137.2 68.4,137.9 66,138.2 63.4,138.1 60.7,137.5 58,136.5 55.4,135.1 52.8,133.4 50.4,131.3 48.2,128.9 46.2,126.2 44.5,123.4 43,120.4 42,117.3 41.3,114.3 40.9,111.2 41,108.3 41.4,105.6 42.2,103.1 43.4,100.8 44.8,98.9 46.6,97.4 46.6,96.6 52.3,92.8 44.4,15.3" fill="url(#wI)"/><polygon points="35.1,-18.5 78.9,-51.7 141.9,-58.4 190,-36.1 193,-13.6 153,22.2 86.4,31.1 78.3,40.8 73.2,107.2 73.2,107.2 74.9,110 76.4,113 77.4,116.1 78.1,119.1 78.5,122.2 78.4,125.1 78,127.8 77.2,130.3 76,132.6 74.6,134.5 72.8,136 70.7,137.2 68.4,137.9 66,138.2 63.4,138.1 60.7,137.5 58,136.5 55.4,135.1 52.8,133.4 50.4,131.3 48.2,128.9 46.2,126.2 44.5,123.4 43,120.4 42,117.3 41.3,114.3 40.9,111.2 41,108.3 41.4,105.6 42.2,103.1 43.4,100.8 44.8,98.9 46.6,97.4 46.6,96.6 52.3,92.8 44.4,15.3" fill="url(#gVigI)" stroke="#000" stroke-width="1.3" stroke-linejoin="round" /><polygon points="51.9,122.2 52.8,123.6 53.7,124.9 54.7,126.2 55.8,127.4 56.9,128.6 58.1,129.6 59.3,130.6 60.5,131.6 61.8,132.4 63,133.2 64.3,133.8 65.7,134.4 67,134.8 68.3,135.2 69.6,135.4 70.9,135.6 72.1,135.6 73.4,135.6 73.4,135.6 74.3,134.8 75.1,133.9 75.8,132.9 76.5,131.8 77.1,130.7 77.5,129.4 77.9,128.1 78.2,126.8 78.4,125.4 78.5,123.9 78.5,122.4 78.4,120.9 78.2,119.4 77.9,117.8 77.5,116.2 77,114.7 76.4,113.1 75.7,111.6 75,110.1 74.1,108.6 73.2,107.2" fill="url(#wD)" stroke="#000" stroke-width="1.3" stroke-linejoin="round" /><path d="M78.9 -51.7L78.3 40.8" stroke="#000" stroke-width="1.3" fill="none" stroke-linecap="round"/><path d="M141.9 -58.4L141.9 23.8" stroke="#000" stroke-width="1.3" fill="none" stroke-linecap="round"/></g><g id="boxBackLines" opacity="0.85"><polyline points="0,0 108.6,-83.1 227.7,-32.1" fill="none" stroke="#000" stroke-width="1.3" stroke-linejoin="round" stroke-linecap="round"/><polyline points="44.4,15.3 35.1,-18.5 78.9,-51.7 141.9,-58.4 190,-36.1 193,-13.6 153,22.2 86.4,31.1 78.3,40.8" fill="none" stroke="#000" stroke-width="1.3" stroke-linejoin="round" stroke-linecap="round"/><path d="M78.9 -51.7L78.3 40.8" stroke="#000" stroke-width="1.3" fill="none" stroke-linecap="round"/><path d="M141.9 -58.4L141.9 23.8" stroke="#000" stroke-width="1.3" fill="none" stroke-linecap="round"/><path d="M51.9 122.2L73.2 107.2" stroke="#000" stroke-width="1.3" fill="none" stroke-linecap="round"/></g><g id="boxFront"><polygon points="0,0 37.1,19.4 46.6,96.6 46.6,97.4 44.8,98.9 43.4,100.8 42.2,103.1 41.4,105.6 41,108.3 40.9,111.2 41.3,114.3 42,117.3 43,120.4 44.5,123.4 46.2,126.2 48.2,128.9 50.4,131.3 52.8,133.4 55.4,135.1 58,136.5 60.7,137.5 63.4,138.1 66,138.2 68.4,137.9 70.7,137.2 72.8,136 74.6,134.5 76,132.6 77.2,130.3 78,127.8 78.4,125.1 78.5,122.2 78.1,119.1 77.4,116.1 76.4,113 74.9,110 73.2,107.2 78.3,40.8 120,62.8 120,189.6 0,155.5" fill="url(#wF)"/><polygon points="0,0 37.1,19.4 46.6,96.6 46.6,97.4 44.8,98.9 43.4,100.8 42.2,103.1 41.4,105.6 41,108.3 40.9,111.2 41.3,114.3 42,117.3 43,120.4 44.5,123.4 46.2,126.2 48.2,128.9 50.4,131.3 52.8,133.4 55.4,135.1 58,136.5 60.7,137.5 63.4,138.1 66,138.2 68.4,137.9 70.7,137.2 72.8,136 74.6,134.5 76,132.6 77.2,130.3 78,127.8 78.4,125.1 78.5,122.2 78.1,119.1 77.4,116.1 76.4,113 74.9,110 73.2,107.2 78.3,40.8 120,62.8 120,189.6 0,155.5" fill="url(#gVig)" stroke="#000" stroke-width="1.3" stroke-linejoin="round" /><polygon points="37.1,19.4 44.4,15.3 52.3,92.8 46.6,96.6" fill="url(#wD)" stroke="#000" stroke-width="1.3" stroke-linejoin="round" /><polygon points="46.6,96.6 46.6,97.4 45.7,98.1 44.9,98.9 44.1,99.8 43.4,100.8 42.8,101.9 42.2,103 41.8,104.2 41.4,105.5 41.2,106.8 41,108.2 40.9,109.6 40.9,111.1 41,112.6 41.2,114.1 41.5,115.6 41.9,117.1 42.4,118.6 43,120.2 43.6,121.7 44.3,123.1 45.1,124.6 46,126 47,127.3 48,128.6 49,129.9 50.2,131 51.3,132.1 52.5,133.2 53.8,134.1 55.1,134.9 56.4,135.7 57.7,136.4 59,136.9 60.3,137.4 61.7,137.8 63,138 64.3,138.2 65.6,138.2 66.8,138.2 68,138 69.2,137.7 70.3,137.3 71.4,136.8 72.4,136.3 73.4,135.6 73.4,135.6 72.1,135.6 70.8,135.6 69.5,135.4 68.2,135.2 66.9,134.8 65.6,134.3 64.2,133.8 62.9,133.1 61.6,132.3 60.3,131.5 59.1,130.5 57.9,129.5 56.7,128.4 55.6,127.2 54.5,126 53.5,124.7 52.6,123.3 51.7,121.9 50.9,120.5 50.2,119 49.5,117.5 49,116 48.5,114.5 48.1,113 47.8,111.5 47.6,110 47.5,108.5 47.5,107 47.6,105.6 47.8,104.2 48,102.9 48.4,101.6 48.8,100.4 49.4,99.3 50,98.2 50.7,97.2 51.5,96.3 52.3,95.5 53.2,94.8 52.3,92.8" fill="url(#wD)" stroke="#000" stroke-width="1.3" stroke-linejoin="round" /><polygon points="120,62.8 227.7,-32.1 227.7,124.2 120,189.6" fill="url(#wF)"/><polygon points="120,62.8 227.7,-32.1 227.7,124.2 120,189.6" fill="url(#gVig)" stroke="#000" stroke-width="1.3" stroke-linejoin="round" /><polygon points="0,155.5 120,189.6 120,202.8 0,166.8" fill="url(#wD)" stroke="#000" stroke-width="1.3" stroke-linejoin="round" /><polygon points="120,189.6 227.7,124.2 227.7,137.4 120,202.8" fill="url(#wD)" stroke="#000" stroke-width="1.3" stroke-linejoin="round" /><polygon points="0,0 35.1,-18.5 44.4,15.3 37.1,19.4" fill="url(#wT)"  /><polygon points="78.3,40.8 86.4,31.1 153,22.2 193,-13.6 227.7,-32.1 120,62.8" fill="url(#wT)"  /><polyline points="35.1,-18.5 44.4,15.3 37.1,19.4 0,0" fill="none" stroke="#000" stroke-width="1.3" stroke-linejoin="round" stroke-linecap="round"/><polyline points="227.7,-32.1 120,62.8 78.3,40.8 86.4,31.1 153,22.2 193,-13.6" fill="none" stroke="#000" stroke-width="1.3" stroke-linejoin="round" stroke-linecap="round"/><ellipse cx="172.5" cy="161.8" rx="2.6" ry="2.2" fill="#3a2a20"/></g><g id="covBody"><polygon points="0,0 46.5,-29.1 88.8,-17.3 42.4,12.7" fill="url(#wT2)"/><polygon points="0,0 46.5,-29.1 88.8,-17.3 42.4,12.7" fill="url(#gVig)" stroke="#000" stroke-width="1.3" stroke-linejoin="round" /><polygon points="0,0 42.4,12.7 42.4,96 0,83.4" fill="url(#wF)"/><polygon points="0,0 42.4,12.7 42.4,96 0,83.4" fill="url(#gVig)" stroke="#000" stroke-width="1.3" stroke-linejoin="round" /><polygon points="42.4,12.7 88.8,-17.3 91.9,22.8 82.4,29.6" fill="url(#wT2)"/><polygon points="42.4,12.7 88.8,-17.3 91.9,22.8 82.4,29.6" fill="url(#gVig)" stroke="#000" stroke-width="1.3" stroke-linejoin="round" /><polygon points="42.4,12.7 82.4,29.6 82.4,86.8 42.4,96" fill="url(#wF)"/><polygon points="42.4,12.7 82.4,29.6 82.4,86.8 42.4,96" fill="url(#gVig)" stroke="#000" stroke-width="1.3" stroke-linejoin="round" /></g><g id="tabFull"><polygon points="82.4,29.6 91.5,25 158.5,47.1 152,52.4" fill="url(#wT2)"/><polygon points="82.4,29.6 91.5,25 158.5,47.1 152,52.4" fill="url(#gVig)" stroke="#000" stroke-width="1.3" stroke-linejoin="round" /><polygon points="152,52.4 158.5,47.1 158.5,102.8 152,108.7" fill="url(#wD)"/><polygon points="152,52.4 158.5,47.1 158.5,102.8 152,108.7" fill="url(#gVig)" stroke="#000" stroke-width="1.3" stroke-linejoin="round" /><path d="M82.4 29.6L152 52.4L152 108.7L82.4 86.8Z M102.2 66.7L101.9 65.2L101.6 63.8L101.4 62.3L101.4 60.8L101.5 59.4L101.6 58L101.9 56.6L102.3 55.2L102.8 53.9L103.4 52.7L104.1 51.5L104.9 50.4L105.9 49.3L107.3 48.9L108.8 48.6L110.2 48.4L111.7 48.3L113.3 48.3L114.8 48.4L116.4 48.6L117.9 48.9L119.5 49.3L121 49.8L122.6 50.4L124.1 51.1L125.5 51.9L127 52.8L128.3 53.7L129.7 54.8L130.9 55.9L132.1 57L133.2 58.3L134.3 59.6L135.2 60.9L136.1 62.3L136.9 63.7L137.5 65.1L138.1 66.6L138.6 68.1L138.9 69.6L139.2 71L139.4 72.5L139.4 74L139.3 75.4L139.2 76.8L138.9 78.2L138.5 79.6L138 80.9L137.4 82.1L136.7 83.3L135.9 84.4L134.9 85.5L133.5 85.9L132 86.2L130.6 86.4L129.1 86.5L127.5 86.5L126 86.4L124.4 86.2L122.9 85.9L121.3 85.5L119.8 85L118.2 84.4L116.7 83.7L115.3 82.9L113.8 82L112.5 81.1L111.1 80L109.9 78.9L108.7 77.8L107.6 76.5L106.5 75.2L105.6 73.9L104.7 72.5L103.9 71.1L103.3 69.7L102.7 68.2Z" fill="url(#wF)" fill-rule="evenodd" stroke="none"/><path d="M135.9 84.4L135 85.4L134.1 86.4L133 87.2L131.9 88L130.7 88.7L129.4 89.3L128.1 89.9L126.7 90.3L125.2 90.6L123.8 90.8L122.3 90.9L120.7 90.9L119.2 90.8L117.6 90.6L116.1 90.3L114.5 89.9L113 89.4L111.4 88.8L109.9 88.1L108.5 87.3L107 86.4L105.7 85.5L104.3 84.4L103.1 83.3L101.9 82.2L100.8 80.9L99.7 79.6L98.8 78.3L97.9 76.9L97.1 75.5L96.5 74.1L95.9 72.6L95.4 71.1L95.1 69.6L94.8 68.2L94.6 66.7L94.6 65.2L94.7 63.8L94.8 62.4L95.1 61L95.5 59.6L96 58.3L96.6 57.1L97.3 55.9L98.1 54.8L99 53.8L99.9 52.8L101 52L102.1 51.2L103.3 50.5L104.6 49.9L105.9 49.3L107.3 48.9L108.8 48.6L110.2 48.4L111.7 48.3L113.3 48.3L114.8 48.4L116.4 48.6L117.9 48.9L119.5 49.3L121 49.8L122.6 50.4L124.1 51.1L125.5 51.9L127 52.8L128.3 53.7L129.7 54.8L130.9 55.9L132.1 57L133.2 58.3L134.3 59.6L135.2 60.9L136.1 62.3L136.9 63.7L137.5 65.1L138.1 66.6L138.6 68.1L138.9 69.6L139.2 71L139.4 72.5L139.4 74L139.3 75.4L139.2 76.8L138.9 78.2L138.5 79.6L138 80.9L137.4 82.1L136.7 83.3Z M102.2 66.7L101.9 65.2L101.6 63.8L101.4 62.3L101.4 60.8L101.5 59.4L101.6 58L101.9 56.6L102.3 55.2L102.8 53.9L103.4 52.7L104.1 51.5L104.9 50.4L105.9 49.3L107.3 48.9L108.8 48.6L110.2 48.4L111.7 48.3L113.3 48.3L114.8 48.4L116.4 48.6L117.9 48.9L119.5 49.3L121 49.8L122.6 50.4L124.1 51.1L125.5 51.9L127 52.8L128.3 53.7L129.7 54.8L130.9 55.9L132.1 57L133.2 58.3L134.3 59.6L135.2 60.9L136.1 62.3L136.9 63.7L137.5 65.1L138.1 66.6L138.6 68.1L138.9 69.6L139.2 71L139.4 72.5L139.4 74L139.3 75.4L139.2 76.8L138.9 78.2L138.5 79.6L138 80.9L137.4 82.1L136.7 83.3L135.9 84.4L134.9 85.5L133.5 85.9L132 86.2L130.6 86.4L129.1 86.5L127.5 86.5L126 86.4L124.4 86.2L122.9 85.9L121.3 85.5L119.8 85L118.2 84.4L116.7 83.7L115.3 82.9L113.8 82L112.5 81.1L111.1 80L109.9 78.9L108.7 77.8L107.6 76.5L106.5 75.2L105.6 73.9L104.7 72.5L103.9 71.1L103.3 69.7L102.7 68.2Z" fill="url(#wD)" fill-rule="evenodd" stroke="#000" stroke-width="1.3" stroke-linejoin="round"/><polygon points="82.4,29.6 152,52.4 152,108.7 82.4,86.8" fill="none" stroke="#000" stroke-width="1.3" stroke-linejoin="round" /></g><g id="tabS1"><polygon points="99.1,35.1 106.3,29.9 158.5,47.1 152,52.4" fill="url(#wT2)"/><polygon points="99.1,35.1 106.3,29.9 158.5,47.1 152,52.4" fill="url(#gVig)" stroke="#000" stroke-width="1.3" stroke-linejoin="round" /><polygon points="152,52.4 158.5,47.1 158.5,102.8 152,108.7" fill="url(#wD)"/><polygon points="152,52.4 158.5,47.1 158.5,102.8 152,108.7" fill="url(#gVig)" stroke="#000" stroke-width="1.3" stroke-linejoin="round" /><path d="M99.1 35.1L152 52.4L152 108.7L99.1 92.1Z M110.7 65.9L110.2 64.4L109.7 62.9L109.4 61.4L109.1 59.9L108.9 58.4L108.8 57L108.8 55.6L108.8 54.2L109 52.9L109.2 51.6L109.5 50.4L110 49.3L110.4 48.3L111 47.3L111.3 47.2L112.4 47.1L113.6 47.1L114.8 47.2L116 47.4L117.2 47.7L118.5 48.1L119.8 48.6L121 49.2L122.3 50L123.5 50.8L124.8 51.6L126 52.6L127.2 53.7L128.3 54.8L129.4 56L130.5 57.3L131.5 58.6L132.5 59.9L133.4 61.3L134.2 62.8L135 64.3L135.6 65.8L136.3 67.3L136.8 68.8L137.3 70.3L137.6 71.8L137.9 73.3L138.1 74.8L138.2 76.2L138.2 77.6L138.2 79L138 80.3L137.8 81.6L137.5 82.8L137 83.9L136.6 84.9L136 85.9L135.7 86L134.6 86.1L133.4 86.1L132.2 86L131 85.8L129.8 85.5L128.5 85.1L127.2 84.6L126 84L124.7 83.2L123.5 82.4L122.2 81.6L121 80.6L119.8 79.5L118.7 78.4L117.6 77.2L116.5 75.9L115.5 74.6L114.5 73.3L113.6 71.9L112.8 70.4L112 68.9L111.4 67.4Z" fill="url(#wF)" fill-rule="evenodd" stroke="none"/><path d="M132.9 89L132 89.5L131 89.9L130 90.2L128.9 90.4L127.8 90.5L126.6 90.5L125.4 90.4L124.2 90.2L123 89.9L121.7 89.5L120.4 89L119.2 88.4L117.9 87.6L116.7 86.8L115.4 86L114.2 85L113 83.9L111.9 82.8L110.8 81.6L109.7 80.3L108.7 79L107.7 77.7L106.8 76.3L106 74.8L105.2 73.3L104.6 71.8L103.9 70.3L103.4 68.8L102.9 67.3L102.6 65.8L102.3 64.3L102.1 62.8L102 61.4L102 60L102 58.6L102.2 57.3L102.4 56L102.7 54.8L103.2 53.7L103.6 52.7L104.2 51.7L104.9 50.8L105.6 50L106.4 49.3L107.3 48.6L108.2 48.1L109.2 47.7L110.2 47.4L111.3 47.2L112.4 47.1L113.6 47.1L114.8 47.2L116 47.4L117.2 47.7L118.5 48.1L119.8 48.6L121 49.2L122.3 50L123.5 50.8L124.8 51.6L126 52.6L127.2 53.7L128.3 54.8L129.4 56L130.5 57.3L131.5 58.6L132.5 59.9L133.4 61.3L134.2 62.8L135 64.3L135.6 65.8L136.3 67.3L136.8 68.8L137.3 70.3L137.6 71.8L137.9 73.3L138.1 74.8L138.2 76.2L138.2 77.6L138.2 79L138 80.3L137.8 81.6L137.5 82.8L137 83.9L136.6 84.9L136 85.9L135.3 86.8L134.6 87.6L133.8 88.3Z M110.7 65.9L110.2 64.4L109.7 62.9L109.4 61.4L109.1 59.9L108.9 58.4L108.8 57L108.8 55.6L108.8 54.2L109 52.9L109.2 51.6L109.5 50.4L110 49.3L110.4 48.3L111 47.3L111.3 47.2L112.4 47.1L113.6 47.1L114.8 47.2L116 47.4L117.2 47.7L118.5 48.1L119.8 48.6L121 49.2L122.3 50L123.5 50.8L124.8 51.6L126 52.6L127.2 53.7L128.3 54.8L129.4 56L130.5 57.3L131.5 58.6L132.5 59.9L133.4 61.3L134.2 62.8L135 64.3L135.6 65.8L136.3 67.3L136.8 68.8L137.3 70.3L137.6 71.8L137.9 73.3L138.1 74.8L138.2 76.2L138.2 77.6L138.2 79L138 80.3L137.8 81.6L137.5 82.8L137 83.9L136.6 84.9L136 85.9L135.7 86L134.6 86.1L133.4 86.1L132.2 86L131 85.8L129.8 85.5L128.5 85.1L127.2 84.6L126 84L124.7 83.2L123.5 82.4L122.2 81.6L121 80.6L119.8 79.5L118.7 78.4L117.6 77.2L116.5 75.9L115.5 74.6L114.5 73.3L113.6 71.9L112.8 70.4L112 68.9L111.4 67.4Z" fill="url(#wD)" fill-rule="evenodd" stroke="#000" stroke-width="1.3" stroke-linejoin="round"/><polygon points="99.1,35.1 152,52.4 152,108.7 99.1,92.1" fill="none" stroke="#000" stroke-width="1.3" stroke-linejoin="round" /></g><g id="tabS2"><polygon points="106.1,37.4 113.3,32.2 158.5,47.1 152,52.4" fill="url(#wT2)"/><polygon points="106.1,37.4 113.3,32.2 158.5,47.1 152,52.4" fill="url(#gVig)" stroke="#000" stroke-width="1.3" stroke-linejoin="round" /><polygon points="152,52.4 158.5,47.1 158.5,102.8 152,108.7" fill="url(#wD)"/><polygon points="152,52.4 158.5,47.1 158.5,102.8 152,108.7" fill="url(#gVig)" stroke="#000" stroke-width="1.3" stroke-linejoin="round" /><path d="M106.1 37.4L152 52.4L152 108.7L106.1 94.3Z M110.7 65.9L110.2 64.4L109.7 62.9L109.4 61.4L109.1 59.9L108.9 58.4L108.8 57L108.8 55.6L108.8 54.2L109 52.9L109.2 51.6L109.5 50.4L110 49.3L110.4 48.3L111 47.3L111.3 47.2L112.4 47.1L113.6 47.1L114.8 47.2L116 47.4L117.2 47.7L118.5 48.1L119.8 48.6L121 49.2L122.3 50L123.5 50.8L124.8 51.6L126 52.6L127.2 53.7L128.3 54.8L129.4 56L130.5 57.3L131.5 58.6L132.5 59.9L133.4 61.3L134.2 62.8L135 64.3L135.6 65.8L136.3 67.3L136.8 68.8L137.3 70.3L137.6 71.8L137.9 73.3L138.1 74.8L138.2 76.2L138.2 77.6L138.2 79L138 80.3L137.8 81.6L137.5 82.8L137 83.9L136.6 84.9L136 85.9L135.7 86L134.6 86.1L133.4 86.1L132.2 86L131 85.8L129.8 85.5L128.5 85.1L127.2 84.6L126 84L124.7 83.2L123.5 82.4L122.2 81.6L121 80.6L119.8 79.5L118.7 78.4L117.6 77.2L116.5 75.9L115.5 74.6L114.5 73.3L113.6 71.9L112.8 70.4L112 68.9L111.4 67.4Z" fill="url(#wF)" fill-rule="evenodd" stroke="none"/><path d="M132.9 89L132 89.5L131 89.9L130 90.2L128.9 90.4L127.8 90.5L126.6 90.5L125.4 90.4L124.2 90.2L123 89.9L121.7 89.5L120.4 89L119.2 88.4L117.9 87.6L116.7 86.8L115.4 86L114.2 85L113 83.9L111.9 82.8L110.8 81.6L109.7 80.3L108.7 79L107.7 77.7L106.8 76.3L106 74.8L105.2 73.3L104.6 71.8L103.9 70.3L103.4 68.8L102.9 67.3L102.6 65.8L102.3 64.3L102.1 62.8L102 61.4L102 60L102 58.6L102.2 57.3L102.4 56L102.7 54.8L103.2 53.7L103.6 52.7L104.2 51.7L104.9 50.8L105.6 50L106.4 49.3L107.3 48.6L108.2 48.1L109.2 47.7L110.2 47.4L111.3 47.2L112.4 47.1L113.6 47.1L114.8 47.2L116 47.4L117.2 47.7L118.5 48.1L119.8 48.6L121 49.2L122.3 50L123.5 50.8L124.8 51.6L126 52.6L127.2 53.7L128.3 54.8L129.4 56L130.5 57.3L131.5 58.6L132.5 59.9L133.4 61.3L134.2 62.8L135 64.3L135.6 65.8L136.3 67.3L136.8 68.8L137.3 70.3L137.6 71.8L137.9 73.3L138.1 74.8L138.2 76.2L138.2 77.6L138.2 79L138 80.3L137.8 81.6L137.5 82.8L137 83.9L136.6 84.9L136 85.9L135.3 86.8L134.6 87.6L133.8 88.3Z M110.7 65.9L110.2 64.4L109.7 62.9L109.4 61.4L109.1 59.9L108.9 58.4L108.8 57L108.8 55.6L108.8 54.2L109 52.9L109.2 51.6L109.5 50.4L110 49.3L110.4 48.3L111 47.3L111.3 47.2L112.4 47.1L113.6 47.1L114.8 47.2L116 47.4L117.2 47.7L118.5 48.1L119.8 48.6L121 49.2L122.3 50L123.5 50.8L124.8 51.6L126 52.6L127.2 53.7L128.3 54.8L129.4 56L130.5 57.3L131.5 58.6L132.5 59.9L133.4 61.3L134.2 62.8L135 64.3L135.6 65.8L136.3 67.3L136.8 68.8L137.3 70.3L137.6 71.8L137.9 73.3L138.1 74.8L138.2 76.2L138.2 77.6L138.2 79L138 80.3L137.8 81.6L137.5 82.8L137 83.9L136.6 84.9L136 85.9L135.7 86L134.6 86.1L133.4 86.1L132.2 86L131 85.8L129.8 85.5L128.5 85.1L127.2 84.6L126 84L124.7 83.2L123.5 82.4L122.2 81.6L121 80.6L119.8 79.5L118.7 78.4L117.6 77.2L116.5 75.9L115.5 74.6L114.5 73.3L113.6 71.9L112.8 70.4L112 68.9L111.4 67.4Z" fill="url(#wD)" fill-rule="evenodd" stroke="#000" stroke-width="1.3" stroke-linejoin="round"/><polygon points="106.1,37.4 152,52.4 152,108.7 106.1,94.3" fill="none" stroke="#000" stroke-width="1.3" stroke-linejoin="round" /></g><clipPath id="cpSlot"><rect x="13" y="9.7" width="86" height="18.8" rx="9.4"/></clipPath><g id="slatFlat"><polygon points="0,0 7.2,-4.2 119,32.6 112.4,37.7" fill="url(#wT2)"/><polygon points="0,0 7.2,-4.2 119,32.6 112.4,37.7" fill="url(#gVig)" stroke="#000" stroke-width="1.3" stroke-linejoin="round" /><polygon points="112.4,37.7 119,32.6 119,71.6 112.4,76.5" fill="url(#wD)"/><polygon points="112.4,37.7 119,32.6 119,71.6 112.4,76.5" fill="url(#gVig)" stroke="#000" stroke-width="1.3" stroke-linejoin="round" /><polygon points="0,0 112.4,37.7 112.4,76.5 0,37.4" fill="url(#wF)"/><polygon points="0,0 112.4,37.7 112.4,76.5 0,37.4" fill="url(#gVig)" stroke="#000" stroke-width="1.3" stroke-linejoin="round" /><g transform="matrix(1 0.3354 0 1 0 0)"><rect x="13" y="9.7" width="86" height="18.8" rx="9.4" fill="url(#wD)" stroke="#000" stroke-width="1.3"/><g clip-path="url(#cpSlot)"><rect x="20.2" y="3.1" width="86" height="18.8" rx="9.4" fill="#fff" stroke="#000" stroke-width="1.3"/></g></g></g><g id="vs1"><polygon points="0,0 9.8,6.3 9.8,122.9 0,117.2" fill="url(#wD)"/><polygon points="0,0 9.8,6.3 9.8,122.9 0,117.2" fill="url(#gVig)" stroke="#000" stroke-width="1.3" stroke-linejoin="round" /><polygon points="0,0 24.1,-15.3 35.5,-12.5 9.8,6.3" fill="url(#wT2)"/><polygon points="0,0 24.1,-15.3 35.5,-12.5 9.8,6.3" fill="url(#gVig)" stroke="#000" stroke-width="1.3" stroke-linejoin="round" /><polygon points="9.8,6.3 35.5,-12.5 35.5,106.9 9.8,122.9" fill="url(#wF)"/><polygon points="9.8,6.3 35.5,-12.5 35.5,106.9 9.8,122.9" fill="url(#gVig)" stroke="#000" stroke-width="1.3" stroke-linejoin="round" /><g transform="translate(9.8 6.3) matrix(1 -0.732 0 1 0 0)"><rect x="6.6" y="9" width="13.6" height="88" rx="6.8" fill="url(#wD)" stroke="#000" stroke-width="1.3"/><rect x="12.6" y="14" width="4.6" height="76" rx="2.3" fill="#fff" stroke="#000" stroke-width="1.0"/></g></g><g id="vs2"><polygon points="0,0 9.8,3.6 9.8,123.5 0,119.1" fill="url(#wD)"/><polygon points="0,0 9.8,3.6 9.8,123.5 0,119.1" fill="url(#gVig)" stroke="#000" stroke-width="1.3" stroke-linejoin="round" /><polygon points="0,0 25.8,-15.1 36.1,-12.8 9.8,3.6" fill="url(#wT2)"/><polygon points="0,0 25.8,-15.1 36.1,-12.8 9.8,3.6" fill="url(#gVig)" stroke="#000" stroke-width="1.3" stroke-linejoin="round" /><polygon points="9.8,3.6 36.1,-12.8 36.1,106.6 9.8,123.5" fill="url(#wF)"/><polygon points="9.8,3.6 36.1,-12.8 36.1,106.6 9.8,123.5" fill="url(#gVig)" stroke="#000" stroke-width="1.3" stroke-linejoin="round" /><g transform="translate(9.8 3.6) matrix(1 -0.624 0 1 0 0)"><rect x="6.6" y="9" width="13.6" height="88" rx="6.8" fill="url(#wD)" stroke="#000" stroke-width="1.3"/><rect x="12.6" y="14" width="4.6" height="76" rx="2.3" fill="#fff" stroke="#000" stroke-width="1.0"/></g></g><g id="vs2r"><polygon points="0,0 9.8,3.6 9.8,123.5 0,119.1" fill="url(#wD)"/><polygon points="0,0 9.8,3.6 9.8,123.5 0,119.1" fill="url(#gVig)" stroke="#FF1A0A" stroke-width="2" stroke-linejoin="round" /><polygon points="0,0 25.8,-15.1 36.1,-12.8 9.8,3.6" fill="url(#wT2)"/><polygon points="0,0 25.8,-15.1 36.1,-12.8 9.8,3.6" fill="url(#gVig)" stroke="#FF1A0A" stroke-width="2" stroke-linejoin="round" /><polygon points="9.8,3.6 36.1,-12.8 36.1,106.6 9.8,123.5" fill="url(#wF)"/><polygon points="9.8,3.6 36.1,-12.8 36.1,106.6 9.8,123.5" fill="url(#gVig)" stroke="#FF1A0A" stroke-width="2" stroke-linejoin="round" /><g transform="translate(9.8 3.6) matrix(1 -0.624 0 1 0 0)"><rect x="6.6" y="9" width="13.6" height="88" rx="6.8" fill="url(#wD)" stroke="#FF1A0A" stroke-width="2"/><rect x="12.6" y="14" width="4.6" height="76" rx="2.3" fill="#fff" stroke="#FF1A0A" stroke-width="1.6"/></g></g><g id="cubeB"><polygon points="-54.2,97 -44.2,99.8 -44.2,143 -54.2,137" fill="url(#wD)"/><polygon points="-54.2,97 -44.2,99.8 -44.2,143 -54.2,137" fill="url(#gVig)" stroke="#000" stroke-width="1.3" stroke-linejoin="round" /><polygon points="-54.2,97 -16.8,70.8 -5.6,73.3 -44.2,99.8" fill="url(#wT2)"/><polygon points="-54.2,97 -16.8,70.8 -5.6,73.3 -44.2,99.8" fill="url(#gVig)" stroke="#000" stroke-width="1.3" stroke-linejoin="round" /><polygon points="-44.2,99.8 -5.6,73.3 -5.6,118 -44.2,143" fill="url(#wF)"/><polygon points="-44.2,99.8 -5.6,73.3 -5.6,118 -44.2,143" fill="url(#gVig)" stroke="#000" stroke-width="1.3" stroke-linejoin="round" /></g><g id="cubeR"><polygon points="-54.2,97 -44.2,99.8 -44.2,143 -54.2,137" fill="url(#wD)"/><polygon points="-54.2,97 -44.2,99.8 -44.2,143 -54.2,137" fill="url(#gVig)" stroke="#FF1A0A" stroke-width="2" stroke-linejoin="round" /><polygon points="-54.2,97 -16.8,70.8 -5.6,73.3 -44.2,99.8" fill="url(#wT2)"/><polygon points="-54.2,97 -16.8,70.8 -5.6,73.3 -44.2,99.8" fill="url(#gVig)" stroke="#FF1A0A" stroke-width="2" stroke-linejoin="round" /><polygon points="-44.2,99.8 -5.6,73.3 -5.6,118 -44.2,143" fill="url(#wF)"/><polygon points="-44.2,99.8 -5.6,73.3 -5.6,118 -44.2,143" fill="url(#gVig)" stroke="#FF1A0A" stroke-width="2" stroke-linejoin="round" /></g><g id="loose"><path d="M0 104 C-10.5 100.1 -44.5 88.2 -62.7 80.8 C-80.9 73.3 -95.6 64.2 -108.9 59.3 C-122.2 54.4 -133.1 50.5 -142.8 51.6 C-152.6 52.7 -156.1 62.7 -167.4 66 C-178.7 69.3 -199.2 66 -210.5 71.6 C-221.8 77.1 -231.1 89.5 -235.2 99.3 C-239.3 109 -238.3 118.3 -235.2 130.1 C-232.1 141.9 -228.1 159.1 -216.7 170.2 C-205.3 181.2 -175.1 192 -166.8 196.4" fill="none" stroke="#C8C8C8" stroke-width="4.4" stroke-linecap="round"/><path d="M0 104 C-10.5 100.1 -44.5 88.2 -62.7 80.8 C-80.9 73.3 -95.6 64.2 -108.9 59.3 C-122.2 54.4 -133.1 50.5 -142.8 51.6 C-152.6 52.7 -156.1 62.7 -167.4 66 C-178.7 69.3 -199.2 66 -210.5 71.6 C-221.8 77.1 -231.1 89.5 -235.2 99.3 C-239.3 109 -238.3 118.3 -235.2 130.1 C-232.1 141.9 -228.1 159.1 -216.7 170.2 C-205.3 181.2 -175.1 192 -166.8 196.4" fill="none" stroke="#EDEDED" stroke-width="2.7" stroke-linecap="round" transform="translate(-0.4 -0.5)"/><path d="M0 104 C-10.5 100.1 -44.5 88.2 -62.7 80.8 C-80.9 73.3 -95.6 64.2 -108.9 59.3 C-122.2 54.4 -133.1 50.5 -142.8 51.6 C-152.6 52.7 -156.1 62.7 -167.4 66 C-178.7 69.3 -199.2 66 -210.5 71.6 C-221.8 77.1 -231.1 89.5 -235.2 99.3 C-239.3 109 -238.3 118.3 -235.2 130.1 C-232.1 141.9 -228.1 159.1 -216.7 170.2 C-205.3 181.2 -175.1 192 -166.8 196.4" fill="none" stroke="#FFFFFF" stroke-width="1.2" stroke-linecap="round" transform="translate(-0.6 -0.8)"/><use href="#covBody" x="-167.2" y="147.2" /><use href="#tabFull" x="-167.2" y="147.2" /><use href="#slatFlat" x="38.6" y="232.4" /></g><g id="loose2"><path d="M172.8 162 C177.2 162.8 189.1 161.1 199.2 167.1 C209.2 173.1 223.3 186.6 233.1 197.9 C242.8 209.2 254.1 223.6 257.7 234.9 C261.3 246.2 259.8 257 254.7 265.7 C249.6 274.4 238.7 282.6 226.9 287.2 C215.1 291.8 195.6 293.3 183.8 293.4 C172 293.5 160.6 288.9 156 288" fill="none" stroke="#C8C8C8" stroke-width="4.4" stroke-linecap="round"/><path d="M172.8 162 C177.2 162.8 189.1 161.1 199.2 167.1 C209.2 173.1 223.3 186.6 233.1 197.9 C242.8 209.2 254.1 223.6 257.7 234.9 C261.3 246.2 259.8 257 254.7 265.7 C249.6 274.4 238.7 282.6 226.9 287.2 C215.1 291.8 195.6 293.3 183.8 293.4 C172 293.5 160.6 288.9 156 288" fill="none" stroke="#EDEDED" stroke-width="2.7" stroke-linecap="round" transform="translate(-0.4 -0.5)"/><path d="M172.8 162 C177.2 162.8 189.1 161.1 199.2 167.1 C209.2 173.1 223.3 186.6 233.1 197.9 C242.8 209.2 254.1 223.6 257.7 234.9 C261.3 246.2 259.8 257 254.7 265.7 C249.6 274.4 238.7 282.6 226.9 287.2 C215.1 291.8 195.6 293.3 183.8 293.4 C172 293.5 160.6 288.9 156 288" fill="none" stroke="#FFFFFF" stroke-width="1.2" stroke-linecap="round" transform="translate(-0.6 -0.8)"/></g><g id="fbBack"><polygon points="0,-168.5 3.3,-206.6 160.3,-250.4 163.9,-204.8" fill="url(#wY)" stroke="#000" stroke-width="1.3" stroke-linejoin="round" /><polygon points="11.6,-195.3 15.1,-199.4 103.4,-227.6 154.4,-230.5 155.5,-221 106.4,-197.1 12.2,-184.6" fill="url(#wF)"/><polygon points="11.6,-195.3 15.1,-199.4 103.4,-227.6 154.4,-230.5 155.5,-221 106.4,-197.1 12.2,-184.6" fill="url(#gVig)" stroke="#000" stroke-width="1.3" stroke-linejoin="round" /><path d="M104 -227.6L104 -197" stroke="#000" stroke-width="1.3" fill="none" stroke-linecap="round"/><rect x="3" y="-193.3" width="4.4" height="4.4" fill="#444" stroke="#000" stroke-width="0.8"/></g><g id="fbBackLines" opacity="0.8"><polyline points="3.3,-206.6 160.3,-250.4" fill="none" stroke="#000" stroke-width="1.3" stroke-linejoin="round" stroke-linecap="round"/><polyline points="11.6,-195.3 15.1,-199.4 103.4,-227.6 154.4,-230.5 155.5,-221" fill="none" stroke="#000" stroke-width="1.3" stroke-linejoin="round" stroke-linecap="round"/><path d="M104 -227.6L104 -197" stroke="#000" stroke-width="1.3" fill="none" stroke-linecap="round"/></g><g id="fbFront"><polygon points="0,-168.5 11.6,-195.3 12.2,-184.6 106.4,-197.1 155.5,-221 163.9,-204.8" fill="url(#wY)"  /><polyline points="12.2,-184.6 106.4,-197.1 155.5,-221" fill="none" stroke="#000" stroke-width="1.3" stroke-linejoin="round" stroke-linecap="round"/><polygon points="0,-168.5 163.9,-204.8 163.9,0 0,0" fill="url(#wP)"/><polygon points="0,-168.5 163.9,-204.8 163.9,0 0,0" fill="url(#gVigP)" stroke="#000" stroke-width="1.3" stroke-linejoin="round" /><path d="M0 -13.9L163.9 -13.9" stroke="#000" stroke-width="1.3" fill="none" stroke-linecap="round"/></g><g id="fbFront2"><polygon points="0,-168.5 11.6,-195.3 12.2,-184.6 106.4,-197.1 155.5,-221 163.9,-204.8" fill="url(#wY)"  /><polyline points="12.2,-184.6 106.4,-197.1 155.5,-221" fill="none" stroke="#000" stroke-width="1.3" stroke-linejoin="round" stroke-linecap="round"/><polygon points="0,-168.5 163.9,-204.8 163.9,0 0,0" fill="url(#wF)"/><polygon points="0,-168.5 163.9,-204.8 163.9,0 0,0" fill="url(#gVig)" stroke="#000" stroke-width="1.3" stroke-linejoin="round" /><path d="M0 -13.9L163.9 -13.9" stroke="#000" stroke-width="1.3" fill="none" stroke-linecap="round"/></g></defs>
<rect width="2550" height="3300" fill="#fff"/>
<text x="975.7" y="153" font-size="133" font-weight="bold" textLength="596.5" lengthAdjust="spacingAndGlyphs">WINE PUZZLE</text><text x="941" y="277" font-size="107" stroke="#000" stroke-width="1.8" transform="translate(941 0) scale(0.66 1) translate(-941 0)" textLength="1076" lengthAdjust="spacing">How to assemble</text><text x="278" y="430.5" font-size="76" font-weight="bold" text-anchor="middle">Starting</text><text x="186.5" y="521" font-size="76" font-weight="bold" textLength="177.5" lengthAdjust="spacingAndGlyphs">Point</text><path d="M492.9 352 L492.9 442" fill="none" stroke="#2e2e2e" stroke-width="6.4" stroke-linecap="butt"/><path d="M492.9 352 L492.9 442" fill="none" stroke="#CFC5CF" stroke-width="4.6" stroke-linecap="butt"/><path d="M492.9 352 L492.9 442" fill="none" stroke="#F1ECF1" stroke-width="1.9" stroke-linecap="butt"/><path d="M589.3 352 L589.3 413" fill="none" stroke="#2e2e2e" stroke-width="6.4" stroke-linecap="butt"/><path d="M589.3 352 L589.3 413" fill="none" stroke="#CFC5CF" stroke-width="4.6" stroke-linecap="butt"/><path d="M589.3 352 L589.3 413" fill="none" stroke="#F1ECF1" stroke-width="1.9" stroke-linecap="butt"/><polygon points="460.5,329.3 603.9,329.3 607.5,348.9 459.1,348.9" fill="url(#wH)"/><polygon points="460.5,329.3 603.9,329.3 607.5,348.9 459.1,348.9" fill="url(#gVig)" stroke="#000" stroke-width="1.3" stroke-linejoin="round" /><polygon points="459.1,348.9 607.5,348.9 607.5,357.7 459.1,357.7" fill="url(#wH)"/><polygon points="459.1,348.9 607.5,348.9 607.5,357.7 459.1,357.7" fill="url(#gVig)" stroke="#000" stroke-width="1.3" stroke-linejoin="round" /><rect x="475" y="333.8" width="93.4" height="8.8" rx="4.4" fill="url(#wD)" stroke="#000" stroke-width="1.2"/><rect x="477" y="337.6" width="91" height="5" rx="2.5" fill="#fff" stroke="#000" stroke-width="1"/><circle cx="587.9" cy="339.3" r="4.6" fill="#000"/><path d="M492.9 343 C494 306 515 291 540.5 291 C568 291 584 312 587.5 339" fill="none" stroke="#2e2e2e" stroke-width="6.6" stroke-linecap="butt"/><path d="M492.9 343 C494 306 515 291 540.5 291 C568 291 584 312 587.5 339" fill="none" stroke="#CFC5CF" stroke-width="4.8" stroke-linecap="butt"/><path d="M492.9 343 C494 306 515 291 540.5 291 C568 291 584 312 587.5 339" fill="none" stroke="#F1ECF1" stroke-width="2.0" stroke-linecap="butt"/><circle cx="588.5" cy="435.9" r="24" fill="url(#gBall)" stroke="#000" stroke-width="1.2"/><polygon points="464.4,472.4 468,463.5 516,463.5 519.5,472.4" fill="url(#wH)"/><polygon points="464.4,472.4 468,463.5 516,463.5 519.5,472.4" fill="url(#gVig)" stroke="#000" stroke-width="1.3" stroke-linejoin="round" /><polygon points="464.4,472.4 519.5,472.4 519.5,531.9 464.4,531.9" fill="url(#wH)"/><polygon points="464.4,472.4 519.5,472.4 519.5,531.9 464.4,531.9" fill="url(#gVig)" stroke="#000" stroke-width="1.3" stroke-linejoin="round" /><circle cx="492" cy="455" r="13.9" fill="url(#gBall)" stroke="#000" stroke-width="1.2"/><use href="#loose" x="447.5" y="602.3" /><use href="#boxBack" x="447.5" y="602.3" /><use href="#boxFront" x="447.5" y="602.3" /><use href="#loose2" x="447.5" y="602.3" /><text transform="translate(1070 530) scale(1 1.045)" font-size="73" font-weight="bold">2</text><use href="#loose" x="1107.9" y="602.3" /><use href="#boxBack" x="1107.9" y="602.3" /><use href="#boxFront" x="1107.9" y="602.3" /><use href="#loose2" x="1107.9" y="602.3" /><use href="#bottle1" x="1445.4" y="447.4" /><path d="M1393.2 546 C1370 520 1345 509.5 1315.2 509.5 C1270 509.5 1232 530 1217.3 557.6 L1205 551 L1214 612.3 L1247.2 565.9 L1237.2 562.6 C1252 540 1280 524.4 1315.2 524.4 C1342 524.4 1365 535 1386.5 557.6 Z" fill="#17601E"/><text transform="translate(1874 530) scale(1 1.045)" font-size="73" font-weight="bold">3</text><use href="#loose" x="1909.5" y="602.4" /><use href="#boxBack" x="1909.5" y="602.4" /><use href="#bottle1" x="2024.5" y="391.9" opacity="0.965"/><use href="#boxBackLines" x="1909.5" y="602.4" /><use href="#boxFront" x="1909.5" y="602.4" /><use href="#loose2" x="1909.5" y="602.4" /><text transform="translate(247 1085.4) scale(1 1.045)" font-size="73" font-weight="bold">4</text><g transform="translate(154.5 0) scale(1.095 1)"><text x="0" y="1151.4" font-size="38">To adjust the</text><text x="0" y="1193.1" font-size="38">string length to</text><text x="0" y="1234.8" font-size="38">the bottle size</text><text x="0" y="1276.5" font-size="38">open the knot</text><text x="0" y="1318.2" font-size="38">inside of the</text><text x="0" y="1359.9" font-size="38">cover</text></g><path d="M483.8 1089.2 L468.4 1239.2" fill="none" stroke="#7A727C" stroke-width="5.6" stroke-linecap="round"/><path d="M483.8 1089.2 L468.4 1239.2" fill="none" stroke="#D2CAD4" stroke-width="4.3" stroke-linecap="round"/><path d="M483.8 1089.2 L468.4 1239.2" fill="none" stroke="#F4F0F6" stroke-width="1.7" stroke-linecap="round"/><use href="#boxBack" x="419.5" y="1282.2" /><use href="#bottle2" x="535" y="1077.4" opacity="0.96"/><use href="#boxBackLines" x="419.5" y="1282.2" /><use href="#boxFront" x="419.5" y="1282.2" /><path d="M585.5 1187.2 L594 1446.2" fill="none" stroke="#7A727C" stroke-width="6" stroke-linecap="round"/><path d="M585.5 1187.2 L594 1446.2" fill="none" stroke="#D2CAD4" stroke-width="4.7" stroke-linecap="round"/><path d="M585.5 1187.2 L594 1446.2" fill="none" stroke="#F4F0F6" stroke-width="1.9" stroke-linecap="round"/><use href="#covBody" x="484.5" y="1056.5" /><use href="#vs1" x="567" y="1075.1" /><use href="#tabS1" x="484.5" y="1056.5" /><text transform="translate(831 1078) scale(1 1.045)" font-size="73" font-weight="bold">5</text><path d="M945 1089 L929.6 1239" fill="none" stroke="#7A727C" stroke-width="5.6" stroke-linecap="round"/><path d="M945 1089 L929.6 1239" fill="none" stroke="#D2CAD4" stroke-width="4.3" stroke-linecap="round"/><path d="M945 1089 L929.6 1239" fill="none" stroke="#F4F0F6" stroke-width="1.7" stroke-linecap="round"/><use href="#boxBack" x="880.7" y="1282" /><use href="#bottle2" x="996.2" y="1077.2" opacity="0.96"/><use href="#boxBackLines" x="880.7" y="1282" /><use href="#boxFront" x="880.7" y="1282" /><path d="M1046.7 1187 L1055.2 1446" fill="none" stroke="#7A727C" stroke-width="6" stroke-linecap="round"/><path d="M1046.7 1187 L1055.2 1446" fill="none" stroke="#D2CAD4" stroke-width="4.7" stroke-linecap="round"/><path d="M1046.7 1187 L1055.2 1446" fill="none" stroke="#F4F0F6" stroke-width="1.9" stroke-linecap="round"/><use href="#covBody" x="945.7" y="1056.3" /><use href="#vs1" x="1028.2" y="1074.9" /><use href="#tabS1" x="945.7" y="1056.3" /><path d="M1168.9 1130.1 C1154.9 1130.9 1154.9 1150.9 1168.9 1151.4" fill="none" stroke="#FF1A0A" stroke-width="7.6" stroke-linecap="round"/><path d="M1168.9 1130.1 C1154.9 1130.9 1154.9 1150.9 1168.9 1151.4" fill="none" stroke="#F2AAAA" stroke-width="5.6" stroke-linecap="round"/><path d="M1168.9 1130.1 C1154.9 1130.9 1154.9 1150.9 1168.9 1151.4" fill="none" stroke="#FCE4E4" stroke-width="2.2" stroke-linecap="round"/><path d="M1161.9 1206.3 L1168.9 1209.9" fill="none" stroke="#FF1A0A" stroke-width="7.6" stroke-linecap="round"/><path d="M1161.9 1206.3 L1168.9 1209.9" fill="none" stroke="#F2AAAA" stroke-width="5.6" stroke-linecap="round"/><path d="M1161.9 1206.3 L1168.9 1209.9" fill="none" stroke="#FCE4E4" stroke-width="2.2" stroke-linecap="round"/><use href="#cubeR" x="1167.9" y="1115.9" /><use href="#vs2r" x="1167.9" y="1115.9" /><path d="M1189.9 1143.9 L1189.9 1199.9" fill="none" stroke="#FF1A0A" stroke-width="4.5" stroke-linecap="round"/><path d="M1189.9 1143.9 L1189.9 1199.9" fill="none" stroke="#F2AAAA" stroke-width="2.5" stroke-linecap="round"/><path d="M1189.9 1143.9 L1189.9 1199.9" fill="none" stroke="#FCE4E4" stroke-width="1.0" stroke-linecap="round"/><path d="M1196.5 1139.9 L1196.5 1195.9" fill="none" stroke="#FF1A0A" stroke-width="4.5" stroke-linecap="round"/><path d="M1196.5 1139.9 L1196.5 1195.9" fill="none" stroke="#F2AAAA" stroke-width="2.5" stroke-linecap="round"/><path d="M1196.5 1139.9 L1196.5 1195.9" fill="none" stroke="#FCE4E4" stroke-width="1.0" stroke-linecap="round"/><path d="M1184.9 1160.5 C1217.9 1165.9 1242.9 1157.9 1262.9 1164.9 C1273.9 1168.9 1276.9 1177.9 1275.9 1183.9" fill="none" stroke="#FF1A0A" stroke-width="7.6" stroke-linecap="round"/><path d="M1184.9 1160.5 C1217.9 1165.9 1242.9 1157.9 1262.9 1164.9 C1273.9 1168.9 1276.9 1177.9 1275.9 1183.9" fill="none" stroke="#F2AAAA" stroke-width="5.6" stroke-linecap="round"/><path d="M1184.9 1160.5 C1217.9 1165.9 1242.9 1157.9 1262.9 1164.9 C1273.9 1168.9 1276.9 1177.9 1275.9 1183.9" fill="none" stroke="#FCE4E4" stroke-width="2.2" stroke-linecap="round"/><path d="M1184.9 1193.9 C1212.9 1187.9 1227.9 1205.9 1245.9 1211.9 C1265.9 1217.9 1277.9 1211.9 1275.9 1197.9" fill="none" stroke="#FF1A0A" stroke-width="7.6" stroke-linecap="round"/><path d="M1184.9 1193.9 C1212.9 1187.9 1227.9 1205.9 1245.9 1211.9 C1265.9 1217.9 1277.9 1211.9 1275.9 1197.9" fill="none" stroke="#F2AAAA" stroke-width="5.6" stroke-linecap="round"/><path d="M1184.9 1193.9 C1212.9 1187.9 1227.9 1205.9 1245.9 1211.9 C1265.9 1217.9 1277.9 1211.9 1275.9 1197.9" fill="none" stroke="#FCE4E4" stroke-width="2.2" stroke-linecap="round"/><circle cx="1200.8" cy="1128.3" r="20" fill="url(#gBall)" stroke="#FF1A0A" stroke-width="2"/><circle cx="1274.2" cy="1190.1" r="11" fill="url(#gBall)" stroke="#FF1A0A" stroke-width="2"/><polygon points="1108.4,1116.5 1130.6,1113.3 1130.6,1119.5 1153.2,1126.6 1153.2,1135.5 1130.6,1128.4 1130.6,1133.7" fill="#17601E"  /><text transform="translate(1433 1078) scale(1 1.045)" font-size="73" font-weight="bold">6</text><path d="M1545.9 1089 L1530.5 1239" fill="none" stroke="#7A727C" stroke-width="5.6" stroke-linecap="round"/><path d="M1545.9 1089 L1530.5 1239" fill="none" stroke="#D2CAD4" stroke-width="4.3" stroke-linecap="round"/><path d="M1545.9 1089 L1530.5 1239" fill="none" stroke="#F4F0F6" stroke-width="1.7" stroke-linecap="round"/><use href="#boxBack" x="1481.6" y="1282" /><use href="#bottle2" x="1597.1" y="1077.2" opacity="0.96"/><use href="#boxBackLines" x="1481.6" y="1282" /><use href="#boxFront" x="1481.6" y="1282" /><path d="M1647.6 1187 L1656.1 1446" fill="none" stroke="#7A727C" stroke-width="6" stroke-linecap="round"/><path d="M1647.6 1187 L1656.1 1446" fill="none" stroke="#D2CAD4" stroke-width="4.7" stroke-linecap="round"/><path d="M1647.6 1187 L1656.1 1446" fill="none" stroke="#F4F0F6" stroke-width="1.9" stroke-linecap="round"/><use href="#covBody" x="1546.6" y="1056.3" /><use href="#vs1" x="1629.1" y="1074.9" /><use href="#tabS1" x="1546.6" y="1056.3" /><path d="M1637 1082.7 C1623 1083.5 1623 1103.5 1637 1104" fill="none" stroke="#FF1A0A" stroke-width="7.6" stroke-linecap="round"/><path d="M1637 1082.7 C1623 1083.5 1623 1103.5 1637 1104" fill="none" stroke="#F2AAAA" stroke-width="5.6" stroke-linecap="round"/><path d="M1637 1082.7 C1623 1083.5 1623 1103.5 1637 1104" fill="none" stroke="#FCE4E4" stroke-width="2.2" stroke-linecap="round"/><path d="M1630 1158.9 L1637 1162.5" fill="none" stroke="#FF1A0A" stroke-width="7.6" stroke-linecap="round"/><path d="M1630 1158.9 L1637 1162.5" fill="none" stroke="#F2AAAA" stroke-width="5.6" stroke-linecap="round"/><path d="M1630 1158.9 L1637 1162.5" fill="none" stroke="#FCE4E4" stroke-width="2.2" stroke-linecap="round"/><use href="#cubeR" x="1636" y="1068.5" /><use href="#vs2r" x="1636" y="1068.5" /><path d="M1658 1096.5 L1658 1152.5" fill="none" stroke="#FF1A0A" stroke-width="4.5" stroke-linecap="round"/><path d="M1658 1096.5 L1658 1152.5" fill="none" stroke="#F2AAAA" stroke-width="2.5" stroke-linecap="round"/><path d="M1658 1096.5 L1658 1152.5" fill="none" stroke="#FCE4E4" stroke-width="1.0" stroke-linecap="round"/><path d="M1664.6 1092.5 L1664.6 1148.5" fill="none" stroke="#FF1A0A" stroke-width="4.5" stroke-linecap="round"/><path d="M1664.6 1092.5 L1664.6 1148.5" fill="none" stroke="#F2AAAA" stroke-width="2.5" stroke-linecap="round"/><path d="M1664.6 1092.5 L1664.6 1148.5" fill="none" stroke="#FCE4E4" stroke-width="1.0" stroke-linecap="round"/><path d="M1653 1113.1 C1686 1118.5 1711 1110.5 1731 1117.5 C1742 1121.5 1745 1130.5 1744 1136.5" fill="none" stroke="#FF1A0A" stroke-width="7.6" stroke-linecap="round"/><path d="M1653 1113.1 C1686 1118.5 1711 1110.5 1731 1117.5 C1742 1121.5 1745 1130.5 1744 1136.5" fill="none" stroke="#F2AAAA" stroke-width="5.6" stroke-linecap="round"/><path d="M1653 1113.1 C1686 1118.5 1711 1110.5 1731 1117.5 C1742 1121.5 1745 1130.5 1744 1136.5" fill="none" stroke="#FCE4E4" stroke-width="2.2" stroke-linecap="round"/><path d="M1653 1146.5 C1681 1140.5 1696 1158.5 1714 1164.5 C1734 1170.5 1746 1164.5 1744 1150.5" fill="none" stroke="#FF1A0A" stroke-width="7.6" stroke-linecap="round"/><path d="M1653 1146.5 C1681 1140.5 1696 1158.5 1714 1164.5 C1734 1170.5 1746 1164.5 1744 1150.5" fill="none" stroke="#F2AAAA" stroke-width="5.6" stroke-linecap="round"/><path d="M1653 1146.5 C1681 1140.5 1696 1158.5 1714 1164.5 C1734 1170.5 1746 1164.5 1744 1150.5" fill="none" stroke="#FCE4E4" stroke-width="2.2" stroke-linecap="round"/><circle cx="1668.9" cy="1080.9" r="20" fill="url(#gBall)" stroke="#FF1A0A" stroke-width="2"/><circle cx="1742.3" cy="1142.7" r="11" fill="url(#gBall)" stroke="#FF1A0A" stroke-width="2"/><text transform="translate(1863 1078) scale(1 1.045)" font-size="73" font-weight="bold">7</text><g transform="translate(1855.5 0) scale(1.095 1)"><text x="0" y="1141" font-size="38">Pass the</text><text x="0" y="1186.5" font-size="38">small ball</text><text x="0" y="1232" font-size="38">through the</text><text x="0" y="1277.5" font-size="38">opening</text></g><path d="M2110.1 1089.3 L2094.7 1239.3" fill="none" stroke="#7A727C" stroke-width="5.6" stroke-linecap="round"/><path d="M2110.1 1089.3 L2094.7 1239.3" fill="none" stroke="#D2CAD4" stroke-width="4.3" stroke-linecap="round"/><path d="M2110.1 1089.3 L2094.7 1239.3" fill="none" stroke="#F4F0F6" stroke-width="1.7" stroke-linecap="round"/><use href="#boxBack" x="2045.8" y="1282.3" /><use href="#bottle2" x="2161.3" y="1077.5" opacity="0.96"/><use href="#boxBackLines" x="2045.8" y="1282.3" /><use href="#boxFront" x="2045.8" y="1282.3" /><path d="M2211.8 1187.3 L2220.3 1446.3" fill="none" stroke="#7A727C" stroke-width="6" stroke-linecap="round"/><path d="M2211.8 1187.3 L2220.3 1446.3" fill="none" stroke="#D2CAD4" stroke-width="4.7" stroke-linecap="round"/><path d="M2211.8 1187.3 L2220.3 1446.3" fill="none" stroke="#F4F0F6" stroke-width="1.9" stroke-linecap="round"/><use href="#covBody" x="2110.8" y="1056.6" /><use href="#vs1" x="2193.3" y="1075.2" /><use href="#tabS1" x="2110.8" y="1056.6" /><path d="M2201.2 1083 C2187.2 1083.8 2187.2 1103.8 2201.2 1104.3" fill="none" stroke="#9A9A9A" stroke-width="7.6" stroke-linecap="round"/><path d="M2201.2 1083 C2187.2 1083.8 2187.2 1103.8 2201.2 1104.3" fill="none" stroke="#C6C6C6" stroke-width="6.5" stroke-linecap="round"/><path d="M2201.2 1083 C2187.2 1083.8 2187.2 1103.8 2201.2 1104.3" fill="none" stroke="#E8E8E8" stroke-width="4.8" stroke-linecap="round" transform="translate(-0.2 -0.3)"/><path d="M2201.2 1083 C2187.2 1083.8 2187.2 1103.8 2201.2 1104.3" fill="none" stroke="#FFFFFF" stroke-width="2.6" stroke-linecap="round" transform="translate(-0.4 -0.6)"/><path d="M2194.2 1159.2 L2201.2 1162.8" fill="none" stroke="#9A9A9A" stroke-width="7.6" stroke-linecap="round"/><path d="M2194.2 1159.2 L2201.2 1162.8" fill="none" stroke="#C6C6C6" stroke-width="6.5" stroke-linecap="round"/><path d="M2194.2 1159.2 L2201.2 1162.8" fill="none" stroke="#E8E8E8" stroke-width="4.8" stroke-linecap="round" transform="translate(-0.2 -0.3)"/><path d="M2194.2 1159.2 L2201.2 1162.8" fill="none" stroke="#FFFFFF" stroke-width="2.6" stroke-linecap="round" transform="translate(-0.4 -0.6)"/><use href="#cubeB" x="2200.2" y="1068.8" /><use href="#vs2" x="2200.2" y="1068.8" /><path d="M2222.2 1096.8 L2222.2 1152.8" fill="none" stroke="#9A9A9A" stroke-width="4.5" stroke-linecap="round"/><path d="M2222.2 1096.8 L2222.2 1152.8" fill="none" stroke="#C6C6C6" stroke-width="3.4" stroke-linecap="round"/><path d="M2222.2 1096.8 L2222.2 1152.8" fill="none" stroke="#E8E8E8" stroke-width="1.7" stroke-linecap="round" transform="translate(-0.2 -0.3)"/><path d="M2222.2 1096.8 L2222.2 1152.8" fill="none" stroke="#FFFFFF" stroke-width="0.9" stroke-linecap="round" transform="translate(-0.4 -0.6)"/><path d="M2228.8 1092.8 L2228.8 1148.8" fill="none" stroke="#9A9A9A" stroke-width="4.5" stroke-linecap="round"/><path d="M2228.8 1092.8 L2228.8 1148.8" fill="none" stroke="#C6C6C6" stroke-width="3.4" stroke-linecap="round"/><path d="M2228.8 1092.8 L2228.8 1148.8" fill="none" stroke="#E8E8E8" stroke-width="1.7" stroke-linecap="round" transform="translate(-0.2 -0.3)"/><path d="M2228.8 1092.8 L2228.8 1148.8" fill="none" stroke="#FFFFFF" stroke-width="0.9" stroke-linecap="round" transform="translate(-0.4 -0.6)"/><path d="M2217.2 1113.4 C2250.2 1118.8 2275.2 1110.8 2295.2 1117.8 C2306.2 1121.8 2309.2 1130.8 2308.2 1136.8" fill="none" stroke="#9A9A9A" stroke-width="7.6" stroke-linecap="round"/><path d="M2217.2 1113.4 C2250.2 1118.8 2275.2 1110.8 2295.2 1117.8 C2306.2 1121.8 2309.2 1130.8 2308.2 1136.8" fill="none" stroke="#C6C6C6" stroke-width="6.5" stroke-linecap="round"/><path d="M2217.2 1113.4 C2250.2 1118.8 2275.2 1110.8 2295.2 1117.8 C2306.2 1121.8 2309.2 1130.8 2308.2 1136.8" fill="none" stroke="#E8E8E8" stroke-width="4.8" stroke-linecap="round" transform="translate(-0.2 -0.3)"/><path d="M2217.2 1113.4 C2250.2 1118.8 2275.2 1110.8 2295.2 1117.8 C2306.2 1121.8 2309.2 1130.8 2308.2 1136.8" fill="none" stroke="#FFFFFF" stroke-width="2.6" stroke-linecap="round" transform="translate(-0.4 -0.6)"/><path d="M2217.2 1146.8 C2245.2 1140.8 2260.2 1158.8 2278.2 1164.8 C2298.2 1170.8 2310.2 1164.8 2308.2 1150.8" fill="none" stroke="#9A9A9A" stroke-width="7.6" stroke-linecap="round"/><path d="M2217.2 1146.8 C2245.2 1140.8 2260.2 1158.8 2278.2 1164.8 C2298.2 1170.8 2310.2 1164.8 2308.2 1150.8" fill="none" stroke="#C6C6C6" stroke-width="6.5" stroke-linecap="round"/><path d="M2217.2 1146.8 C2245.2 1140.8 2260.2 1158.8 2278.2 1164.8 C2298.2 1170.8 2310.2 1164.8 2308.2 1150.8" fill="none" stroke="#E8E8E8" stroke-width="4.8" stroke-linecap="round" transform="translate(-0.2 -0.3)"/><path d="M2217.2 1146.8 C2245.2 1140.8 2260.2 1158.8 2278.2 1164.8 C2298.2 1170.8 2310.2 1164.8 2308.2 1150.8" fill="none" stroke="#FFFFFF" stroke-width="2.6" stroke-linecap="round" transform="translate(-0.4 -0.6)"/><circle cx="2233.1" cy="1081.2" r="20" fill="url(#gBall)" stroke="#000" stroke-width="1.3"/><circle cx="2306.5" cy="1143" r="11" fill="url(#gBall)" stroke="#000" stroke-width="1.3"/><circle cx="2306.5" cy="1143" r="10.5" fill="none" stroke="#E8100A" stroke-width="3.6"/><path d="M2298.7 1155.6 C2290 1168 2280 1176 2269.4 1181.7 C2258 1188 2248 1192.5 2238.6 1192.5 C2225 1192.5 2215 1190 2210.9 1181.7 C2206 1173 2205 1168 2206.3 1161.7 C2208 1152 2213 1144 2223.2 1135.5 C2233 1127 2243 1120 2254 1112.4 L2312 1074.5" fill="none" stroke="#17601E" stroke-width="11.5" stroke-linecap="round"/><polygon points="2343.4,1054.2 2302.6,1060.8 2322.6,1090.9" fill="#17601E"  /><text transform="translate(283 1623) scale(1 1.045)" font-size="73" font-weight="bold">8</text><path d="M396.1 1631.5 L380.7 1781.5" fill="none" stroke="#7A727C" stroke-width="5.6" stroke-linecap="round"/><path d="M396.1 1631.5 L380.7 1781.5" fill="none" stroke="#D2CAD4" stroke-width="4.3" stroke-linecap="round"/><path d="M396.1 1631.5 L380.7 1781.5" fill="none" stroke="#F4F0F6" stroke-width="1.7" stroke-linecap="round"/><use href="#boxBack" x="331.8" y="1824.5" /><use href="#bottle2" x="447.3" y="1619.7" opacity="0.96"/><use href="#boxBackLines" x="331.8" y="1824.5" /><use href="#boxFront" x="331.8" y="1824.5" /><path d="M497.8 1729.5 L506.3 1988.5" fill="none" stroke="#7A727C" stroke-width="6" stroke-linecap="round"/><path d="M497.8 1729.5 L506.3 1988.5" fill="none" stroke="#D2CAD4" stroke-width="4.7" stroke-linecap="round"/><path d="M497.8 1729.5 L506.3 1988.5" fill="none" stroke="#F4F0F6" stroke-width="1.9" stroke-linecap="round"/><use href="#covBody" x="396.8" y="1598.8" /><use href="#vs1" x="479.3" y="1617.4" /><path d="M487.2 1617.5 C466.2 1618 466.2 1649 487.2 1649" fill="none" stroke="#9A9A9A" stroke-width="7.8" stroke-linecap="round"/><path d="M487.2 1617.5 C466.2 1618 466.2 1649 487.2 1649" fill="none" stroke="#C6C6C6" stroke-width="6.7" stroke-linecap="round"/><path d="M487.2 1617.5 C466.2 1618 466.2 1649 487.2 1649" fill="none" stroke="#E8E8E8" stroke-width="5.0" stroke-linecap="round" transform="translate(-0.2 -0.3)"/><path d="M487.2 1617.5 C466.2 1618 466.2 1649 487.2 1649" fill="none" stroke="#FFFFFF" stroke-width="2.8" stroke-linecap="round" transform="translate(-0.4 -0.6)"/><path d="M480.2 1702 L487.2 1698" fill="none" stroke="#9A9A9A" stroke-width="7.8" stroke-linecap="round"/><path d="M480.2 1702 L487.2 1698" fill="none" stroke="#C6C6C6" stroke-width="6.7" stroke-linecap="round"/><path d="M480.2 1702 L487.2 1698" fill="none" stroke="#E8E8E8" stroke-width="5.0" stroke-linecap="round" transform="translate(-0.2 -0.3)"/><path d="M480.2 1702 L487.2 1698" fill="none" stroke="#FFFFFF" stroke-width="2.8" stroke-linecap="round" transform="translate(-0.4 -0.6)"/><use href="#cubeB" x="486.2" y="1611" /><path d="M546.8 1649.8 L568.8 1648.8 C580.8 1648.8 585.8 1656.8 584.3 1663.9" fill="none" stroke="#9A9A9A" stroke-width="7.8" stroke-linecap="round"/><path d="M546.8 1649.8 L568.8 1648.8 C580.8 1648.8 585.8 1656.8 584.3 1663.9" fill="none" stroke="#C6C6C6" stroke-width="6.7" stroke-linecap="round"/><path d="M546.8 1649.8 L568.8 1648.8 C580.8 1648.8 585.8 1656.8 584.3 1663.9" fill="none" stroke="#E8E8E8" stroke-width="5.0" stroke-linecap="round" transform="translate(-0.2 -0.3)"/><path d="M546.8 1649.8 L568.8 1648.8 C580.8 1648.8 585.8 1656.8 584.3 1663.9" fill="none" stroke="#FFFFFF" stroke-width="2.8" stroke-linecap="round" transform="translate(-0.4 -0.6)"/><path d="M546.8 1688.8 L568.8 1688.8 C580.8 1688.8 585.8 1682.8 584.3 1675.9" fill="none" stroke="#9A9A9A" stroke-width="7.8" stroke-linecap="round"/><path d="M546.8 1688.8 L568.8 1688.8 C580.8 1688.8 585.8 1682.8 584.3 1675.9" fill="none" stroke="#C6C6C6" stroke-width="6.7" stroke-linecap="round"/><path d="M546.8 1688.8 L568.8 1688.8 C580.8 1688.8 585.8 1682.8 584.3 1675.9" fill="none" stroke="#E8E8E8" stroke-width="5.0" stroke-linecap="round" transform="translate(-0.2 -0.3)"/><path d="M546.8 1688.8 L568.8 1688.8 C580.8 1688.8 585.8 1682.8 584.3 1675.9" fill="none" stroke="#FFFFFF" stroke-width="2.8" stroke-linecap="round" transform="translate(-0.4 -0.6)"/><use href="#vs2" x="486.2" y="1611" /><path d="M508.2 1639 L508.2 1695" fill="none" stroke="#9A9A9A" stroke-width="4.2" stroke-linecap="round"/><path d="M508.2 1639 L508.2 1695" fill="none" stroke="#C6C6C6" stroke-width="3.1" stroke-linecap="round"/><path d="M508.2 1639 L508.2 1695" fill="none" stroke="#E8E8E8" stroke-width="1.4" stroke-linecap="round" transform="translate(-0.2 -0.3)"/><path d="M508.2 1639 L508.2 1695" fill="none" stroke="#FFFFFF" stroke-width="0.8" stroke-linecap="round" transform="translate(-0.4 -0.6)"/><path d="M514.8 1635 L514.8 1691" fill="none" stroke="#9A9A9A" stroke-width="4.2" stroke-linecap="round"/><path d="M514.8 1635 L514.8 1691" fill="none" stroke="#C6C6C6" stroke-width="3.1" stroke-linecap="round"/><path d="M514.8 1635 L514.8 1691" fill="none" stroke="#E8E8E8" stroke-width="1.4" stroke-linecap="round" transform="translate(-0.2 -0.3)"/><path d="M514.8 1635 L514.8 1691" fill="none" stroke="#FFFFFF" stroke-width="0.8" stroke-linecap="round" transform="translate(-0.4 -0.6)"/><path d="M503.8 1652.8 C514.8 1658.8 524.8 1658.8 531.8 1658.8" fill="none" stroke="#9A9A9A" stroke-width="7.8" stroke-linecap="round"/><path d="M503.8 1652.8 C514.8 1658.8 524.8 1658.8 531.8 1658.8" fill="none" stroke="#C6C6C6" stroke-width="6.7" stroke-linecap="round"/><path d="M503.8 1652.8 C514.8 1658.8 524.8 1658.8 531.8 1658.8" fill="none" stroke="#E8E8E8" stroke-width="5.0" stroke-linecap="round" transform="translate(-0.2 -0.3)"/><path d="M503.8 1652.8 C514.8 1658.8 524.8 1658.8 531.8 1658.8" fill="none" stroke="#FFFFFF" stroke-width="2.8" stroke-linecap="round" transform="translate(-0.4 -0.6)"/><use href="#tabS2" x="396.8" y="1598.8" /><path d="M503.8 1682.8 C514.8 1674.8 526.8 1676.8 533.8 1681.8" fill="none" stroke="#9A9A9A" stroke-width="7.8" stroke-linecap="round"/><path d="M503.8 1682.8 C514.8 1674.8 526.8 1676.8 533.8 1681.8" fill="none" stroke="#C6C6C6" stroke-width="6.7" stroke-linecap="round"/><path d="M503.8 1682.8 C514.8 1674.8 526.8 1676.8 533.8 1681.8" fill="none" stroke="#E8E8E8" stroke-width="5.0" stroke-linecap="round" transform="translate(-0.2 -0.3)"/><path d="M503.8 1682.8 C514.8 1674.8 526.8 1676.8 533.8 1681.8" fill="none" stroke="#FFFFFF" stroke-width="2.8" stroke-linecap="round" transform="translate(-0.4 -0.6)"/><circle cx="518.9" cy="1623.6" r="20" fill="url(#gBall)" stroke="#000" stroke-width="1.2"/><circle cx="583.3" cy="1669.9" r="9.2" fill="url(#gBall)" stroke="#000" stroke-width="1.2"/><circle cx="583.3" cy="1669.9" r="10.8" fill="none" stroke="#E8100A" stroke-width="3.4"/><text transform="translate(835 1623) scale(1 1.045)" font-size="73" font-weight="bold">9</text><path d="M948.5 1631.5 L933.1 1781.5" fill="none" stroke="#7A727C" stroke-width="5.6" stroke-linecap="round"/><path d="M948.5 1631.5 L933.1 1781.5" fill="none" stroke="#D2CAD4" stroke-width="4.3" stroke-linecap="round"/><path d="M948.5 1631.5 L933.1 1781.5" fill="none" stroke="#F4F0F6" stroke-width="1.7" stroke-linecap="round"/><use href="#boxBack" x="884.2" y="1824.5" /><use href="#bottle2" x="999.7" y="1619.7" opacity="0.96"/><use href="#boxBackLines" x="884.2" y="1824.5" /><use href="#boxFront" x="884.2" y="1824.5" /><path d="M1050.2 1729.5 L1058.7 1988.5" fill="none" stroke="#7A727C" stroke-width="6" stroke-linecap="round"/><path d="M1050.2 1729.5 L1058.7 1988.5" fill="none" stroke="#D2CAD4" stroke-width="4.7" stroke-linecap="round"/><path d="M1050.2 1729.5 L1058.7 1988.5" fill="none" stroke="#F4F0F6" stroke-width="1.9" stroke-linecap="round"/><use href="#covBody" x="949.2" y="1598.8" /><use href="#vs1" x="1031.7" y="1617.4" /><path d="M1039.6 1617.5 C1018.6 1618 1018.6 1649 1039.6 1649" fill="none" stroke="#9A9A9A" stroke-width="7.8" stroke-linecap="round"/><path d="M1039.6 1617.5 C1018.6 1618 1018.6 1649 1039.6 1649" fill="none" stroke="#C6C6C6" stroke-width="6.7" stroke-linecap="round"/><path d="M1039.6 1617.5 C1018.6 1618 1018.6 1649 1039.6 1649" fill="none" stroke="#E8E8E8" stroke-width="5.0" stroke-linecap="round" transform="translate(-0.2 -0.3)"/><path d="M1039.6 1617.5 C1018.6 1618 1018.6 1649 1039.6 1649" fill="none" stroke="#FFFFFF" stroke-width="2.8" stroke-linecap="round" transform="translate(-0.4 -0.6)"/><path d="M1032.6 1702 L1039.6 1698" fill="none" stroke="#9A9A9A" stroke-width="7.8" stroke-linecap="round"/><path d="M1032.6 1702 L1039.6 1698" fill="none" stroke="#C6C6C6" stroke-width="6.7" stroke-linecap="round"/><path d="M1032.6 1702 L1039.6 1698" fill="none" stroke="#E8E8E8" stroke-width="5.0" stroke-linecap="round" transform="translate(-0.2 -0.3)"/><path d="M1032.6 1702 L1039.6 1698" fill="none" stroke="#FFFFFF" stroke-width="2.8" stroke-linecap="round" transform="translate(-0.4 -0.6)"/><use href="#cubeB" x="1038.6" y="1611" /><path d="M1099.2 1649.8 L1121.2 1648.8 C1133.2 1648.8 1138.2 1656.8 1136.7 1663.9" fill="none" stroke="#9A9A9A" stroke-width="7.8" stroke-linecap="round"/><path d="M1099.2 1649.8 L1121.2 1648.8 C1133.2 1648.8 1138.2 1656.8 1136.7 1663.9" fill="none" stroke="#C6C6C6" stroke-width="6.7" stroke-linecap="round"/><path d="M1099.2 1649.8 L1121.2 1648.8 C1133.2 1648.8 1138.2 1656.8 1136.7 1663.9" fill="none" stroke="#E8E8E8" stroke-width="5.0" stroke-linecap="round" transform="translate(-0.2 -0.3)"/><path d="M1099.2 1649.8 L1121.2 1648.8 C1133.2 1648.8 1138.2 1656.8 1136.7 1663.9" fill="none" stroke="#FFFFFF" stroke-width="2.8" stroke-linecap="round" transform="translate(-0.4 -0.6)"/><path d="M1099.2 1688.8 L1121.2 1688.8 C1133.2 1688.8 1138.2 1682.8 1136.7 1675.9" fill="none" stroke="#9A9A9A" stroke-width="7.8" stroke-linecap="round"/><path d="M1099.2 1688.8 L1121.2 1688.8 C1133.2 1688.8 1138.2 1682.8 1136.7 1675.9" fill="none" stroke="#C6C6C6" stroke-width="6.7" stroke-linecap="round"/><path d="M1099.2 1688.8 L1121.2 1688.8 C1133.2 1688.8 1138.2 1682.8 1136.7 1675.9" fill="none" stroke="#E8E8E8" stroke-width="5.0" stroke-linecap="round" transform="translate(-0.2 -0.3)"/><path d="M1099.2 1688.8 L1121.2 1688.8 C1133.2 1688.8 1138.2 1682.8 1136.7 1675.9" fill="none" stroke="#FFFFFF" stroke-width="2.8" stroke-linecap="round" transform="translate(-0.4 -0.6)"/><use href="#vs2r" x="1038.6" y="1611" /><path d="M1060.6 1639 L1060.6 1695" fill="none" stroke="#9A9A9A" stroke-width="4.2" stroke-linecap="round"/><path d="M1060.6 1639 L1060.6 1695" fill="none" stroke="#C6C6C6" stroke-width="3.1" stroke-linecap="round"/><path d="M1060.6 1639 L1060.6 1695" fill="none" stroke="#E8E8E8" stroke-width="1.4" stroke-linecap="round" transform="translate(-0.2 -0.3)"/><path d="M1060.6 1639 L1060.6 1695" fill="none" stroke="#FFFFFF" stroke-width="0.8" stroke-linecap="round" transform="translate(-0.4 -0.6)"/><path d="M1067.2 1635 L1067.2 1691" fill="none" stroke="#9A9A9A" stroke-width="4.2" stroke-linecap="round"/><path d="M1067.2 1635 L1067.2 1691" fill="none" stroke="#C6C6C6" stroke-width="3.1" stroke-linecap="round"/><path d="M1067.2 1635 L1067.2 1691" fill="none" stroke="#E8E8E8" stroke-width="1.4" stroke-linecap="round" transform="translate(-0.2 -0.3)"/><path d="M1067.2 1635 L1067.2 1691" fill="none" stroke="#FFFFFF" stroke-width="0.8" stroke-linecap="round" transform="translate(-0.4 -0.6)"/><path d="M1056.2 1652.8 C1067.2 1658.8 1077.2 1658.8 1084.2 1658.8" fill="none" stroke="#9A9A9A" stroke-width="7.8" stroke-linecap="round"/><path d="M1056.2 1652.8 C1067.2 1658.8 1077.2 1658.8 1084.2 1658.8" fill="none" stroke="#C6C6C6" stroke-width="6.7" stroke-linecap="round"/><path d="M1056.2 1652.8 C1067.2 1658.8 1077.2 1658.8 1084.2 1658.8" fill="none" stroke="#E8E8E8" stroke-width="5.0" stroke-linecap="round" transform="translate(-0.2 -0.3)"/><path d="M1056.2 1652.8 C1067.2 1658.8 1077.2 1658.8 1084.2 1658.8" fill="none" stroke="#FFFFFF" stroke-width="2.8" stroke-linecap="round" transform="translate(-0.4 -0.6)"/><use href="#tabS2" x="949.2" y="1598.8" /><path d="M1056.2 1682.8 C1067.2 1674.8 1079.2 1676.8 1086.2 1681.8" fill="none" stroke="#9A9A9A" stroke-width="7.8" stroke-linecap="round"/><path d="M1056.2 1682.8 C1067.2 1674.8 1079.2 1676.8 1086.2 1681.8" fill="none" stroke="#C6C6C6" stroke-width="6.7" stroke-linecap="round"/><path d="M1056.2 1682.8 C1067.2 1674.8 1079.2 1676.8 1086.2 1681.8" fill="none" stroke="#E8E8E8" stroke-width="5.0" stroke-linecap="round" transform="translate(-0.2 -0.3)"/><path d="M1056.2 1682.8 C1067.2 1674.8 1079.2 1676.8 1086.2 1681.8" fill="none" stroke="#FFFFFF" stroke-width="2.8" stroke-linecap="round" transform="translate(-0.4 -0.6)"/><circle cx="1071.3" cy="1623.6" r="20" fill="url(#gBall)" stroke="#000" stroke-width="1.2"/><circle cx="1135.7" cy="1669.9" r="9.2" fill="url(#gBall)" stroke="#000" stroke-width="1.2"/><polygon points="1105.6,1593.1 1104.8,1602.3 1131,1611.3 1131,1619.7 1157.8,1617.9 1132.5,1596.1 1131.8,1602.3" fill="#17601E"  /><polygon points="1105.6,1735.6 1104.8,1744.8 1131,1753.8 1131,1762.2 1157.8,1760.4 1132.5,1738.6 1131.8,1744.8" fill="#17601E"  /><text transform="translate(1389 1623) scale(1 1.045)" font-size="73" font-weight="bold">10</text><path d="M1545.3 1631.5 L1529.9 1781.5" fill="none" stroke="#7A727C" stroke-width="5.6" stroke-linecap="round"/><path d="M1545.3 1631.5 L1529.9 1781.5" fill="none" stroke="#D2CAD4" stroke-width="4.3" stroke-linecap="round"/><path d="M1545.3 1631.5 L1529.9 1781.5" fill="none" stroke="#F4F0F6" stroke-width="1.7" stroke-linecap="round"/><use href="#boxBack" x="1481" y="1824.5" /><use href="#bottle2" x="1596.5" y="1619.7" opacity="0.96"/><use href="#boxBackLines" x="1481" y="1824.5" /><use href="#boxFront" x="1481" y="1824.5" /><path d="M1647 1729.5 L1655.5 1988.5" fill="none" stroke="#7A727C" stroke-width="6" stroke-linecap="round"/><path d="M1647 1729.5 L1655.5 1988.5" fill="none" stroke="#D2CAD4" stroke-width="4.7" stroke-linecap="round"/><path d="M1647 1729.5 L1655.5 1988.5" fill="none" stroke="#F4F0F6" stroke-width="1.9" stroke-linecap="round"/><use href="#covBody" x="1546" y="1598.8" /><path d="M1698 1661.3 C1698.9 1661.6 1701.1 1662.4 1703.6 1663.4 C1706.1 1664.4 1710.7 1666.3 1713.1 1667.5 C1715.5 1668.7 1717.2 1670.2 1718 1670.8" fill="none" stroke="#9A9A9A" stroke-width="7.8" stroke-linecap="round"/><path d="M1698 1661.3 C1698.9 1661.6 1701.1 1662.4 1703.6 1663.4 C1706.1 1664.4 1710.7 1666.3 1713.1 1667.5 C1715.5 1668.7 1717.2 1670.2 1718 1670.8" fill="none" stroke="#C6C6C6" stroke-width="6.7" stroke-linecap="round"/><path d="M1698 1661.3 C1698.9 1661.6 1701.1 1662.4 1703.6 1663.4 C1706.1 1664.4 1710.7 1666.3 1713.1 1667.5 C1715.5 1668.7 1717.2 1670.2 1718 1670.8" fill="none" stroke="#E8E8E8" stroke-width="5.0" stroke-linecap="round" transform="translate(-0.2 -0.3)"/><path d="M1698 1661.3 C1698.9 1661.6 1701.1 1662.4 1703.6 1663.4 C1706.1 1664.4 1710.7 1666.3 1713.1 1667.5 C1715.5 1668.7 1717.2 1670.2 1718 1670.8" fill="none" stroke="#FFFFFF" stroke-width="2.8" stroke-linecap="round" transform="translate(-0.4 -0.6)"/><path d="M1702 1676.8 C1702.4 1677.9 1703.1 1680.2 1704.2 1683.5 C1705.3 1686.8 1706.8 1692.2 1708.4 1696.5 C1710 1700.8 1712.1 1706.2 1713.7 1709.6 C1715.3 1713 1717.3 1715.6 1718 1716.8" fill="none" stroke="#9A9A9A" stroke-width="7.8" stroke-linecap="round"/><path d="M1702 1676.8 C1702.4 1677.9 1703.1 1680.2 1704.2 1683.5 C1705.3 1686.8 1706.8 1692.2 1708.4 1696.5 C1710 1700.8 1712.1 1706.2 1713.7 1709.6 C1715.3 1713 1717.3 1715.6 1718 1716.8" fill="none" stroke="#C6C6C6" stroke-width="6.7" stroke-linecap="round"/><path d="M1702 1676.8 C1702.4 1677.9 1703.1 1680.2 1704.2 1683.5 C1705.3 1686.8 1706.8 1692.2 1708.4 1696.5 C1710 1700.8 1712.1 1706.2 1713.7 1709.6 C1715.3 1713 1717.3 1715.6 1718 1716.8" fill="none" stroke="#E8E8E8" stroke-width="5.0" stroke-linecap="round" transform="translate(-0.2 -0.3)"/><path d="M1702 1676.8 C1702.4 1677.9 1703.1 1680.2 1704.2 1683.5 C1705.3 1686.8 1706.8 1692.2 1708.4 1696.5 C1710 1700.8 1712.1 1706.2 1713.7 1709.6 C1715.3 1713 1717.3 1715.6 1718 1716.8" fill="none" stroke="#FFFFFF" stroke-width="2.8" stroke-linecap="round" transform="translate(-0.4 -0.6)"/><use href="#vs1" x="1628.5" y="1617.4" /><use href="#cubeB" x="1627.3" y="1609.9" /><use href="#tabS1" x="1546" y="1598.8" /><path d="M1621.9 1703.6 C1624.5 1701.6 1631.8 1695.5 1637.3 1691.8 C1642.8 1688 1649.2 1683.6 1655.1 1681.1 C1661 1678.6 1668.1 1677.1 1672.8 1677 C1677.5 1676.9 1681.7 1679.9 1683.5 1680.5" fill="none" stroke="#9A9A9A" stroke-width="7.8" stroke-linecap="round"/><path d="M1621.9 1703.6 C1624.5 1701.6 1631.8 1695.5 1637.3 1691.8 C1642.8 1688 1649.2 1683.6 1655.1 1681.1 C1661 1678.6 1668.1 1677.1 1672.8 1677 C1677.5 1676.9 1681.7 1679.9 1683.5 1680.5" fill="none" stroke="#C6C6C6" stroke-width="6.7" stroke-linecap="round"/><path d="M1621.9 1703.6 C1624.5 1701.6 1631.8 1695.5 1637.3 1691.8 C1642.8 1688 1649.2 1683.6 1655.1 1681.1 C1661 1678.6 1668.1 1677.1 1672.8 1677 C1677.5 1676.9 1681.7 1679.9 1683.5 1680.5" fill="none" stroke="#E8E8E8" stroke-width="5.0" stroke-linecap="round" transform="translate(-0.2 -0.3)"/><path d="M1621.9 1703.6 C1624.5 1701.6 1631.8 1695.5 1637.3 1691.8 C1642.8 1688 1649.2 1683.6 1655.1 1681.1 C1661 1678.6 1668.1 1677.1 1672.8 1677 C1677.5 1676.9 1681.7 1679.9 1683.5 1680.5" fill="none" stroke="#FFFFFF" stroke-width="2.8" stroke-linecap="round" transform="translate(-0.4 -0.6)"/><path d="M1723.8 1633.7 C1721.2 1632.7 1713.9 1629.2 1708.4 1627.8 C1702.9 1626.4 1696.5 1625.2 1690.6 1625.4 C1684.7 1625.6 1677.7 1626.6 1672.8 1629 C1667.9 1631.4 1663.2 1636 1661 1639.7 C1658.8 1643.5 1658.8 1648.2 1659.8 1651.5 C1660.8 1654.8 1663.9 1657.7 1666.9 1659.8 C1669.9 1661.9 1674.6 1662.6 1677.6 1664 C1680.6 1665.4 1683.5 1667.4 1684.7 1668.1" fill="none" stroke="#9A9A9A" stroke-width="7.8" stroke-linecap="round"/><path d="M1723.8 1633.7 C1721.2 1632.7 1713.9 1629.2 1708.4 1627.8 C1702.9 1626.4 1696.5 1625.2 1690.6 1625.4 C1684.7 1625.6 1677.7 1626.6 1672.8 1629 C1667.9 1631.4 1663.2 1636 1661 1639.7 C1658.8 1643.5 1658.8 1648.2 1659.8 1651.5 C1660.8 1654.8 1663.9 1657.7 1666.9 1659.8 C1669.9 1661.9 1674.6 1662.6 1677.6 1664 C1680.6 1665.4 1683.5 1667.4 1684.7 1668.1" fill="none" stroke="#C6C6C6" stroke-width="6.7" stroke-linecap="round"/><path d="M1723.8 1633.7 C1721.2 1632.7 1713.9 1629.2 1708.4 1627.8 C1702.9 1626.4 1696.5 1625.2 1690.6 1625.4 C1684.7 1625.6 1677.7 1626.6 1672.8 1629 C1667.9 1631.4 1663.2 1636 1661 1639.7 C1658.8 1643.5 1658.8 1648.2 1659.8 1651.5 C1660.8 1654.8 1663.9 1657.7 1666.9 1659.8 C1669.9 1661.9 1674.6 1662.6 1677.6 1664 C1680.6 1665.4 1683.5 1667.4 1684.7 1668.1" fill="none" stroke="#E8E8E8" stroke-width="5.0" stroke-linecap="round" transform="translate(-0.2 -0.3)"/><path d="M1723.8 1633.7 C1721.2 1632.7 1713.9 1629.2 1708.4 1627.8 C1702.9 1626.4 1696.5 1625.2 1690.6 1625.4 C1684.7 1625.6 1677.7 1626.6 1672.8 1629 C1667.9 1631.4 1663.2 1636 1661 1639.7 C1658.8 1643.5 1658.8 1648.2 1659.8 1651.5 C1660.8 1654.8 1663.9 1657.7 1666.9 1659.8 C1669.9 1661.9 1674.6 1662.6 1677.6 1664 C1680.6 1665.4 1683.5 1667.4 1684.7 1668.1" fill="none" stroke="#FFFFFF" stroke-width="2.8" stroke-linecap="round" transform="translate(-0.4 -0.6)"/><use href="#vs2r" x="1712.8" y="1639.6" /><path d="M1732.1 1679.9 C1733.1 1680.4 1736.6 1681.4 1738 1682.8 C1739.4 1684.2 1740 1687.3 1740.4 1688.2" fill="none" stroke="#9A9A9A" stroke-width="5.5" stroke-linecap="round"/><path d="M1732.1 1679.9 C1733.1 1680.4 1736.6 1681.4 1738 1682.8 C1739.4 1684.2 1740 1687.3 1740.4 1688.2" fill="none" stroke="#C6C6C6" stroke-width="4.4" stroke-linecap="round"/><path d="M1732.1 1679.9 C1733.1 1680.4 1736.6 1681.4 1738 1682.8 C1739.4 1684.2 1740 1687.3 1740.4 1688.2" fill="none" stroke="#E8E8E8" stroke-width="2.7" stroke-linecap="round" transform="translate(-0.2 -0.3)"/><path d="M1732.1 1679.9 C1733.1 1680.4 1736.6 1681.4 1738 1682.8 C1739.4 1684.2 1740 1687.3 1740.4 1688.2" fill="none" stroke="#FFFFFF" stroke-width="1.5" stroke-linecap="round" transform="translate(-0.4 -0.6)"/><path d="M1733.3 1720.2 C1734 1719.9 1736.4 1719.3 1737.5 1718.3 C1738.6 1717.3 1739.4 1715 1739.8 1714.3" fill="none" stroke="#9A9A9A" stroke-width="5.5" stroke-linecap="round"/><path d="M1733.3 1720.2 C1734 1719.9 1736.4 1719.3 1737.5 1718.3 C1738.6 1717.3 1739.4 1715 1739.8 1714.3" fill="none" stroke="#C6C6C6" stroke-width="4.4" stroke-linecap="round"/><path d="M1733.3 1720.2 C1734 1719.9 1736.4 1719.3 1737.5 1718.3 C1738.6 1717.3 1739.4 1715 1739.8 1714.3" fill="none" stroke="#E8E8E8" stroke-width="2.7" stroke-linecap="round" transform="translate(-0.2 -0.3)"/><path d="M1733.3 1720.2 C1734 1719.9 1736.4 1719.3 1737.5 1718.3 C1738.6 1717.3 1739.4 1715 1739.8 1714.3" fill="none" stroke="#FFFFFF" stroke-width="1.5" stroke-linecap="round" transform="translate(-0.4 -0.6)"/><circle cx="1746.9" cy="1651" r="20" fill="url(#gBall)" stroke="#000" stroke-width="1.2"/><circle cx="1739.3" cy="1701.2" r="11" fill="url(#gBall)" stroke="#000" stroke-width="1.2"/><path d="M1832.4 1645.4 C1832.4 1646.6 1833.1 1650.1 1832.4 1652.5 C1831.7 1654.9 1830.5 1657.2 1828.1 1659.6 C1825.7 1662 1821.6 1664.6 1818.2 1666.7 C1814.8 1668.8 1809.3 1671.5 1807.5 1672.4 L1807.5 1661.4 C1808.7 1661 1812.2 1659.9 1814.6 1658.9 C1817 1657.9 1819.4 1657.1 1821.8 1655.4 C1824.2 1653.8 1827.4 1650.9 1828.9 1649 C1830.4 1647.1 1830.3 1644.8 1830.6 1644 Z" fill="url(#gRib)" stroke="#000" stroke-width="0.9" stroke-linejoin="round"/><path d="M1763.5 1608.4 L1790.5 1598.8 L1789.1 1605.9  C1791.6 1606.6 1799.2 1608.1 1804 1609.9 C1808.8 1611.8 1814 1613.9 1818.2 1617 C1822.4 1620.1 1826.7 1624.6 1828.9 1628.3 C1831.2 1632 1831.1 1636.2 1831.7 1639 C1832.3 1641.8 1832.3 1644.3 1832.4 1645.4 L1830.6 1644 C1830.1 1643 1829.5 1640.7 1827.4 1638.3 C1825.3 1635.9 1822.1 1632.5 1818.2 1629.8 C1814.3 1627.1 1808.6 1623.8 1804 1621.9 C1799.4 1620 1793 1619 1790.8 1618.4 L1792.6 1624.8 Z" fill="#067A14" stroke="#000" stroke-width="0.9" stroke-linejoin="round"/><text transform="translate(1930 1623) scale(1 1.045)" font-size="73" font-weight="bold">11</text><path d="M2077 1631.5 L2061.6 1781.5" fill="none" stroke="#7A727C" stroke-width="5.6" stroke-linecap="round"/><path d="M2077 1631.5 L2061.6 1781.5" fill="none" stroke="#D2CAD4" stroke-width="4.3" stroke-linecap="round"/><path d="M2077 1631.5 L2061.6 1781.5" fill="none" stroke="#F4F0F6" stroke-width="1.7" stroke-linecap="round"/><use href="#boxBack" x="2012.7" y="1824.5" /><use href="#bottle2" x="2128.2" y="1619.7" opacity="0.96"/><use href="#boxBackLines" x="2012.7" y="1824.5" /><use href="#boxFront" x="2012.7" y="1824.5" /><path d="M2178.7 1729.5 L2187.2 1988.5" fill="none" stroke="#7A727C" stroke-width="6" stroke-linecap="round"/><path d="M2178.7 1729.5 L2187.2 1988.5" fill="none" stroke="#D2CAD4" stroke-width="4.7" stroke-linecap="round"/><path d="M2178.7 1729.5 L2187.2 1988.5" fill="none" stroke="#F4F0F6" stroke-width="1.9" stroke-linecap="round"/><use href="#covBody" x="2077.7" y="1598.8" /><use href="#vs1" x="2160.2" y="1617.4" /><circle cx="2254.8" cy="1595.7" r="17" fill="url(#gBall)" stroke="#000" stroke-width="0.8"/><circle cx="2238.7" cy="1655.8" r="10.8" fill="url(#gBall)" stroke="#000" stroke-width="0.8"/><polygon points="2219.4,1585.7 2227.1,1581.9 2255.6,1589.6 2248.7,1593.4" fill="url(#wT2)"/><polygon points="2219.4,1585.7 2227.1,1581.9 2255.6,1589.6 2248.7,1593.4" fill="url(#gVig)" stroke="#FF1A0A" stroke-width="2" stroke-linejoin="round" /><polygon points="2248.7,1593.4 2255.6,1589.6 2255.6,1711.2 2248.7,1715.9" fill="url(#wD)"/><polygon points="2248.7,1593.4 2255.6,1589.6 2255.6,1711.2 2248.7,1715.9" fill="url(#gVig)" stroke="#FF1A0A" stroke-width="2" stroke-linejoin="round" /><g transform="translate(2219.4 1585.7) matrix(1 0.263 0 1 0 0)"><path d="M0 0H29.3V122.5H0Z M6.2 45 a9.2 9.2 0 0 1 18.4 0 V105 a9.2 9.2 0 0 1 -18.4 0Z" fill="url(#wF)" fill-rule="evenodd" stroke="#FF1A0A" stroke-width="2"/><path d="M12 48 a6 6 0 0 1 12.6 -3 V105 a6 6 0 0 1 -12.6 3Z" fill="none" stroke="#FF1A0A" stroke-width="1.6"/><circle cx="15.6" cy="17.5" r="3.2" fill="#fff" stroke="#FF1A0A" stroke-width="1.4"/></g><use href="#tabS1" x="2077.7" y="1598.8" /><use href="#cubeB" x="2192.7" y="1597.3" /><path d="M2234.7 1605.8 C2217.7 1618.8 2195.7 1626.8 2189.7 1638.8 C2183.7 1652.8 2193.7 1660.8 2205.7 1658.8" fill="none" stroke="#9A9A9A" stroke-width="7.8" stroke-linecap="round"/><path d="M2234.7 1605.8 C2217.7 1618.8 2195.7 1626.8 2189.7 1638.8 C2183.7 1652.8 2193.7 1660.8 2205.7 1658.8" fill="none" stroke="#C6C6C6" stroke-width="6.7" stroke-linecap="round"/><path d="M2234.7 1605.8 C2217.7 1618.8 2195.7 1626.8 2189.7 1638.8 C2183.7 1652.8 2193.7 1660.8 2205.7 1658.8" fill="none" stroke="#E8E8E8" stroke-width="5.0" stroke-linecap="round" transform="translate(-0.2 -0.3)"/><path d="M2234.7 1605.8 C2217.7 1618.8 2195.7 1626.8 2189.7 1638.8 C2183.7 1652.8 2193.7 1660.8 2205.7 1658.8" fill="none" stroke="#FFFFFF" stroke-width="2.8" stroke-linecap="round" transform="translate(-0.4 -0.6)"/><path d="M2188.7 1692.8 C2199.7 1686.8 2207.7 1680.8 2213.7 1678.8" fill="none" stroke="#9A9A9A" stroke-width="7.8" stroke-linecap="round"/><path d="M2188.7 1692.8 C2199.7 1686.8 2207.7 1680.8 2213.7 1678.8" fill="none" stroke="#C6C6C6" stroke-width="6.7" stroke-linecap="round"/><path d="M2188.7 1692.8 C2199.7 1686.8 2207.7 1680.8 2213.7 1678.8" fill="none" stroke="#E8E8E8" stroke-width="5.0" stroke-linecap="round" transform="translate(-0.2 -0.3)"/><path d="M2188.7 1692.8 C2199.7 1686.8 2207.7 1680.8 2213.7 1678.8" fill="none" stroke="#FFFFFF" stroke-width="2.8" stroke-linecap="round" transform="translate(-0.4 -0.6)"/><path d="M2229.7 1640.8 C2233.7 1634.8 2237.7 1634.8 2240.7 1636.8" fill="none" stroke="#9A9A9A" stroke-width="5.5" stroke-linecap="round"/><path d="M2229.7 1640.8 C2233.7 1634.8 2237.7 1634.8 2240.7 1636.8" fill="none" stroke="#C6C6C6" stroke-width="4.4" stroke-linecap="round"/><path d="M2229.7 1640.8 C2233.7 1634.8 2237.7 1634.8 2240.7 1636.8" fill="none" stroke="#E8E8E8" stroke-width="2.7" stroke-linecap="round" transform="translate(-0.2 -0.3)"/><path d="M2229.7 1640.8 C2233.7 1634.8 2237.7 1634.8 2240.7 1636.8" fill="none" stroke="#FFFFFF" stroke-width="1.5" stroke-linecap="round" transform="translate(-0.4 -0.6)"/><text transform="translate(226 2169) scale(1 1.045)" font-size="73" font-weight="bold">12</text><use href="#fbBack" x="373.3" y="2605.8" /><use href="#bottle3" x="455.6" y="2150.8" opacity="0.96"/><use href="#fbBackLines" x="373.3" y="2605.8" /><use href="#fbFront" x="373.3" y="2605.8" /><polygon points="420,2138.7 423.9,2111.2 485.8,2111.2 490.2,2138.7" fill="url(#wH)"/><polygon points="420,2138.7 423.9,2111.2 485.8,2111.2 490.2,2138.7" fill="url(#gVig)" stroke="#000" stroke-width="1.3" stroke-linejoin="round" /><polygon points="420,2138.7 490.2,2138.7 490.2,2256.2 420,2256.2" fill="url(#wF)"/><polygon points="420,2138.7 490.2,2138.7 490.2,2256.2 420,2256.2" fill="url(#gVig)" stroke="#000" stroke-width="1.3" stroke-linejoin="round" /><polygon points="435.1,2168 436.9,2161.3 471.5,2161.3 473,2168" fill="url(#wH)"/><polygon points="435.1,2168 436.9,2161.3 471.5,2161.3 473,2168" fill="url(#gVig)" stroke="#000" stroke-width="1.3" stroke-linejoin="round" /><path d="M435.1 2168H473V2317.7H435.1Z M445.2 2197.4 a8.9 8.9 0 0 1 17.8 0 V2280 a8.9 8.9 0 0 1 -17.8 0Z" fill="url(#wD)" fill-rule="evenodd" stroke="#000" stroke-width="1.3"/><path d="M445.2 2197.4 a8.9 8.9 0 0 1 17.8 0 V2248.7 H445.2Z" fill="url(#wD)" stroke="#000" stroke-width="1"/><path d="M505 2161.7 C470 2160.7 434 2178.7 437 2200.7 C438 2210.7 444 2215.7 450 2215.7" fill="none" stroke="#3a3a3a" stroke-width="6" stroke-linecap="round"/><path d="M505 2161.7 C470 2160.7 434 2178.7 437 2200.7 C438 2210.7 444 2215.7 450 2215.7" fill="none" stroke="#9A9A9A" stroke-width="4.2" stroke-linecap="round"/><path d="M505 2161.7 C470 2160.7 434 2178.7 437 2200.7 C438 2210.7 444 2215.7 450 2215.7" fill="none" stroke="#C2C2C2" stroke-width="1.8" stroke-linecap="round"/><path d="M427.6 2248.2 L450 2248.2" fill="none" stroke="#3a3a3a" stroke-width="6" stroke-linecap="round"/><path d="M427.6 2248.2 L450 2248.2" fill="none" stroke="#9A9A9A" stroke-width="4.2" stroke-linecap="round"/><path d="M427.6 2248.2 L450 2248.2" fill="none" stroke="#C2C2C2" stroke-width="1.8" stroke-linecap="round"/><path d="M460 2215.7 C480 2215.7 495 2218.7 506 2221.7" fill="none" stroke="#3a3a3a" stroke-width="6" stroke-linecap="round"/><path d="M460 2215.7 C480 2215.7 495 2218.7 506 2221.7" fill="none" stroke="#9A9A9A" stroke-width="4.2" stroke-linecap="round"/><path d="M460 2215.7 C480 2215.7 495 2218.7 506 2221.7" fill="none" stroke="#C2C2C2" stroke-width="1.8" stroke-linecap="round"/><path d="M460 2248.2 C480 2248.7 495 2258.7 506 2267.7" fill="none" stroke="#3a3a3a" stroke-width="6" stroke-linecap="round"/><path d="M460 2248.2 C480 2248.7 495 2258.7 506 2267.7" fill="none" stroke="#9A9A9A" stroke-width="4.2" stroke-linecap="round"/><path d="M460 2248.2 C480 2248.7 495 2258.7 506 2267.7" fill="none" stroke="#C2C2C2" stroke-width="1.8" stroke-linecap="round"/><polygon points="448.4,2202.7 448.9,2193.8 459.6,2193.8 460,2202.7" fill="url(#wH)"/><polygon points="448.4,2202.7 448.9,2193.8 459.6,2193.8 460,2202.7" fill="url(#gVig)" stroke="#000" stroke-width="1.3" stroke-linejoin="round" /><polygon points="447.9,2202.7 460,2202.7 460,2274.7 447.9,2274.7" fill="url(#wF)"/><polygon points="447.9,2202.7 460,2202.7 460,2274.7 447.9,2274.7" fill="url(#gVig)" stroke="#000" stroke-width="1.3" stroke-linejoin="round" /><polygon points="372.4,2221.3 377.3,2212.1 423.9,2212.1 427.6,2221.3" fill="url(#wH)"/><polygon points="372.4,2221.3 377.3,2212.1 423.9,2212.1 427.6,2221.3" fill="url(#gVig)" stroke="#000" stroke-width="1.3" stroke-linejoin="round" /><polygon points="372.4,2221.3 427.6,2221.3 427.6,2280 372.4,2280" fill="url(#wH)"/><polygon points="372.4,2221.3 427.6,2221.3 427.6,2280 372.4,2280" fill="url(#gVig)" stroke="#000" stroke-width="1.3" stroke-linejoin="round" /><circle cx="455.6" cy="2596.8" r="3.6" fill="#111"/><path d="M455.6 2317.8 L455.6 2596.8" fill="none" stroke="#77707A" stroke-width="7" stroke-linecap="round"/><path d="M455.6 2317.8 L455.6 2596.8" fill="none" stroke="#D4CED8" stroke-width="5.2" stroke-linecap="round"/><path d="M455.6 2317.8 L455.6 2596.8" fill="none" stroke="#EEEAF2" stroke-width="2.1" stroke-linecap="round"/><path d="M518 2222.7 C526 2224.7 529 2230.7 529 2236.7" fill="none" stroke="#3a3a3a" stroke-width="5.5" stroke-linecap="round"/><path d="M518 2222.7 C526 2224.7 529 2230.7 529 2236.7" fill="none" stroke="#9A9A9A" stroke-width="3.7" stroke-linecap="round"/><path d="M518 2222.7 C526 2224.7 529 2230.7 529 2236.7" fill="none" stroke="#C2C2C2" stroke-width="1.6" stroke-linecap="round"/><path d="M518 2270.7 C526 2270.7 529 2264.7 529 2258.7" fill="none" stroke="#3a3a3a" stroke-width="5.5" stroke-linecap="round"/><path d="M518 2270.7 C526 2270.7 529 2264.7 529 2258.7" fill="none" stroke="#9A9A9A" stroke-width="3.7" stroke-linecap="round"/><path d="M518 2270.7 C526 2270.7 529 2264.7 529 2258.7" fill="none" stroke="#C2C2C2" stroke-width="1.6" stroke-linecap="round"/><polygon points="500,2152 508,2144.4 508,2293.3 500,2280" fill="url(#wD)"/><polygon points="500,2152 508,2144.4 508,2293.3 500,2280" fill="url(#gVig)" stroke="#FF1A0A" stroke-width="2" stroke-linejoin="round" /><polygon points="508,2144.4 517.7,2144.4 517.7,2293.3 508,2293.3" fill="url(#wF)"/><polygon points="508,2144.4 517.7,2144.4 517.7,2293.3 508,2293.3" fill="url(#gVig)" stroke="#FF1A0A" stroke-width="2" stroke-linejoin="round" /><rect x="501.8" y="2179.7" width="3.9" height="92" rx="1.9" fill="none" stroke="#FF1A0A" stroke-width="1.3"/><circle cx="539" cy="2161.7" r="24" fill="url(#gBall)" stroke="#000" stroke-width="0.8"/><circle cx="527.5" cy="2246.2" r="12" fill="url(#gBall)" stroke="#000" stroke-width="0.8"/><polygon points="570.9,2183.9 619,2208.9 614.9,2216.8 649.6,2217.3 629.2,2189.2 625.2,2197.1 577.1,2172.1" fill="#17601E"  /><text transform="translate(755 2169) scale(1 1.045)" font-size="73" font-weight="bold">13</text><use href="#fbBack" x="902.9" y="2605.8" /><use href="#bottle3" x="985.2" y="2150.8" opacity="0.96"/><use href="#fbBackLines" x="902.9" y="2605.8" /><use href="#fbFront" x="902.9" y="2605.8" /><polygon points="949.6,2138.7 953.5,2111.2 1015.4,2111.2 1019.8,2138.7" fill="url(#wH)"/><polygon points="949.6,2138.7 953.5,2111.2 1015.4,2111.2 1019.8,2138.7" fill="url(#gVig)" stroke="#000" stroke-width="1.3" stroke-linejoin="round" /><polygon points="949.6,2138.7 1019.8,2138.7 1019.8,2256.2 949.6,2256.2" fill="url(#wF)"/><polygon points="949.6,2138.7 1019.8,2138.7 1019.8,2256.2 949.6,2256.2" fill="url(#gVig)" stroke="#000" stroke-width="1.3" stroke-linejoin="round" /><polygon points="964.7,2168 966.5,2161.3 1001.1,2161.3 1002.6,2168" fill="url(#wH)"/><polygon points="964.7,2168 966.5,2161.3 1001.1,2161.3 1002.6,2168" fill="url(#gVig)" stroke="#000" stroke-width="1.3" stroke-linejoin="round" /><path d="M964.7 2168H1002.6V2317.7H964.7Z M974.8 2197.4 a8.9 8.9 0 0 1 17.8 0 V2280 a8.9 8.9 0 0 1 -17.8 0Z" fill="url(#wD)" fill-rule="evenodd" stroke="#000" stroke-width="1.3"/><path d="M974.8 2197.4 a8.9 8.9 0 0 1 17.8 0 V2248.7 H974.8Z" fill="url(#wD)" stroke="#000" stroke-width="1"/><path d="M1107.6 2204.7 C1069.6 2182.7 1029.6 2176.7 982.6 2176.7 C965.6 2176.7 960.6 2190.7 962.6 2204.7 C964.6 2220.7 971.6 2227.7 979.6 2228.2" fill="none" stroke="#3a3a3a" stroke-width="6" stroke-linecap="round"/><path d="M1107.6 2204.7 C1069.6 2182.7 1029.6 2176.7 982.6 2176.7 C965.6 2176.7 960.6 2190.7 962.6 2204.7 C964.6 2220.7 971.6 2227.7 979.6 2228.2" fill="none" stroke="#9A9A9A" stroke-width="4.2" stroke-linecap="round"/><path d="M1107.6 2204.7 C1069.6 2182.7 1029.6 2176.7 982.6 2176.7 C965.6 2176.7 960.6 2190.7 962.6 2204.7 C964.6 2220.7 971.6 2227.7 979.6 2228.2" fill="none" stroke="#C2C2C2" stroke-width="1.8" stroke-linecap="round"/><path d="M957.2 2248.2 L979.6 2248.2" fill="none" stroke="#3a3a3a" stroke-width="6" stroke-linecap="round"/><path d="M957.2 2248.2 L979.6 2248.2" fill="none" stroke="#9A9A9A" stroke-width="4.2" stroke-linecap="round"/><path d="M957.2 2248.2 L979.6 2248.2" fill="none" stroke="#C2C2C2" stroke-width="1.8" stroke-linecap="round"/><path d="M989.6 2228.2 C1019.6 2226.7 1037.6 2230.7 1043.6 2241.7" fill="none" stroke="#3a3a3a" stroke-width="6" stroke-linecap="round"/><path d="M989.6 2228.2 C1019.6 2226.7 1037.6 2230.7 1043.6 2241.7" fill="none" stroke="#9A9A9A" stroke-width="4.2" stroke-linecap="round"/><path d="M989.6 2228.2 C1019.6 2226.7 1037.6 2230.7 1043.6 2241.7" fill="none" stroke="#C2C2C2" stroke-width="1.8" stroke-linecap="round"/><path d="M989.6 2248.2 C1009.6 2248.7 1019.6 2256.7 1023.6 2264.7 C1026.6 2269.7 1031.6 2271.7 1037.6 2271.7" fill="none" stroke="#3a3a3a" stroke-width="6" stroke-linecap="round"/><path d="M989.6 2248.2 C1009.6 2248.7 1019.6 2256.7 1023.6 2264.7 C1026.6 2269.7 1031.6 2271.7 1037.6 2271.7" fill="none" stroke="#9A9A9A" stroke-width="4.2" stroke-linecap="round"/><path d="M989.6 2248.2 C1009.6 2248.7 1019.6 2256.7 1023.6 2264.7 C1026.6 2269.7 1031.6 2271.7 1037.6 2271.7" fill="none" stroke="#C2C2C2" stroke-width="1.8" stroke-linecap="round"/><polygon points="978,2202.7 978.5,2193.8 989.2,2193.8 989.6,2202.7" fill="url(#wH)"/><polygon points="978,2202.7 978.5,2193.8 989.2,2193.8 989.6,2202.7" fill="url(#gVig)" stroke="#000" stroke-width="1.3" stroke-linejoin="round" /><polygon points="977.5,2202.7 989.6,2202.7 989.6,2274.7 977.5,2274.7" fill="url(#wF)"/><polygon points="977.5,2202.7 989.6,2202.7 989.6,2274.7 977.5,2274.7" fill="url(#gVig)" stroke="#000" stroke-width="1.3" stroke-linejoin="round" /><polygon points="902,2221.3 906.9,2212.1 953.5,2212.1 957.2,2221.3" fill="url(#wH)"/><polygon points="902,2221.3 906.9,2212.1 953.5,2212.1 957.2,2221.3" fill="url(#gVig)" stroke="#000" stroke-width="1.3" stroke-linejoin="round" /><polygon points="902,2221.3 957.2,2221.3 957.2,2280 902,2280" fill="url(#wH)"/><polygon points="902,2221.3 957.2,2221.3 957.2,2280 902,2280" fill="url(#gVig)" stroke="#000" stroke-width="1.3" stroke-linejoin="round" /><circle cx="985.2" cy="2596.8" r="3.6" fill="#111"/><path d="M985.2 2317.8 L985.2 2596.8" fill="none" stroke="#77707A" stroke-width="7" stroke-linecap="round"/><path d="M985.2 2317.8 L985.2 2596.8" fill="none" stroke="#D4CED8" stroke-width="5.2" stroke-linecap="round"/><path d="M985.2 2317.8 L985.2 2596.8" fill="none" stroke="#EEEAF2" stroke-width="2.1" stroke-linecap="round"/><circle cx="1044.6" cy="2266.2" r="13.9" fill="url(#gBall)" stroke="#000" stroke-width="0.8"/><polygon points="995.8,2275 1001.1,2263.5 1112.6,2195.9 1125,2199.8 1127.3,2207.5 1000.2,2283" fill="url(#wF)"/><polygon points="995.8,2275 1001.1,2263.5 1112.6,2195.9 1125,2199.8 1127.3,2207.5 1000.2,2283" fill="url(#gVig)" stroke="#FF1A0A" stroke-width="2" stroke-linejoin="round" /><polyline points="1001.1,2270.5 1122,2204.7" fill="none" stroke="#FF1A0A" stroke-width="1.4" stroke-linejoin="round" stroke-linecap="round"/><path d="M1010.6 2259.2 L1090.1 2213.7" stroke="#FF1A0A" stroke-width="4.2" stroke-linecap="round" fill="none"/><path d="M1010.6 2259.2 L1090.1 2213.7" stroke="#E9B98A" stroke-width="1.8" stroke-linecap="round" fill="none"/><circle cx="1124.2" cy="2233.7" r="24" fill="url(#gBall)" stroke="#000" stroke-width="0.8"/><text transform="translate(1254 2169) scale(1 1.045)" font-size="73" font-weight="bold">14</text><g transform="translate(1232.5 0) scale(1.095 1)"><text x="0" y="2223" font-size="38">Pass the small</text><text x="0" y="2268.6" font-size="38">ball back</text><text x="0" y="2314.2" font-size="38">through the hole</text><text x="0" y="2359.8" font-size="38">followed by the</text><text x="0" y="2405.4" font-size="38">wood slat</text></g><use href="#fbBack" x="1547.2" y="2605.5" /><use href="#bottle3" x="1629.5" y="2150.5" opacity="0.96"/><use href="#fbBackLines" x="1547.2" y="2605.5" /><use href="#fbFront" x="1547.2" y="2605.5" /><polygon points="1593.9,2138.4 1597.8,2110.9 1659.7,2110.9 1664.1,2138.4" fill="url(#wH)"/><polygon points="1593.9,2138.4 1597.8,2110.9 1659.7,2110.9 1664.1,2138.4" fill="url(#gVig)" stroke="#000" stroke-width="1.3" stroke-linejoin="round" /><polygon points="1593.9,2138.4 1664.1,2138.4 1664.1,2255.9 1593.9,2255.9" fill="url(#wF)"/><polygon points="1593.9,2138.4 1664.1,2138.4 1664.1,2255.9 1593.9,2255.9" fill="url(#gVig)" stroke="#000" stroke-width="1.3" stroke-linejoin="round" /><polygon points="1609,2167.7 1610.8,2161 1645.4,2161 1646.9,2167.7" fill="url(#wH)"/><polygon points="1609,2167.7 1610.8,2161 1645.4,2161 1646.9,2167.7" fill="url(#gVig)" stroke="#000" stroke-width="1.3" stroke-linejoin="round" /><path d="M1609 2167.7H1646.9V2317.4H1609Z M1619.1 2197.1 a8.9 8.9 0 0 1 17.8 0 V2279.7 a8.9 8.9 0 0 1 -17.8 0Z" fill="url(#wD)" fill-rule="evenodd" stroke="#000" stroke-width="1.3"/><path d="M1619.1 2197.1 a8.9 8.9 0 0 1 17.8 0 V2248.4 H1619.1Z" fill="url(#wD)" stroke="#000" stroke-width="1"/><path d="M1751.9 2204.4 C1713.9 2182.4 1673.9 2176.4 1626.9 2176.4 C1609.9 2176.4 1604.9 2190.4 1606.9 2204.4 C1608.9 2220.4 1615.9 2227.4 1623.9 2227.9" fill="none" stroke="#3a3a3a" stroke-width="6" stroke-linecap="round"/><path d="M1751.9 2204.4 C1713.9 2182.4 1673.9 2176.4 1626.9 2176.4 C1609.9 2176.4 1604.9 2190.4 1606.9 2204.4 C1608.9 2220.4 1615.9 2227.4 1623.9 2227.9" fill="none" stroke="#9A9A9A" stroke-width="4.2" stroke-linecap="round"/><path d="M1751.9 2204.4 C1713.9 2182.4 1673.9 2176.4 1626.9 2176.4 C1609.9 2176.4 1604.9 2190.4 1606.9 2204.4 C1608.9 2220.4 1615.9 2227.4 1623.9 2227.9" fill="none" stroke="#C2C2C2" stroke-width="1.8" stroke-linecap="round"/><path d="M1601.5 2230.1 L1623.9 2247.9" fill="none" stroke="#3a3a3a" stroke-width="6" stroke-linecap="round"/><path d="M1601.5 2230.1 L1623.9 2247.9" fill="none" stroke="#9A9A9A" stroke-width="4.2" stroke-linecap="round"/><path d="M1601.5 2230.1 L1623.9 2247.9" fill="none" stroke="#C2C2C2" stroke-width="1.8" stroke-linecap="round"/><path d="M1633.9 2227.9 C1663.9 2226.4 1681.9 2230.4 1687.9 2241.4" fill="none" stroke="#3a3a3a" stroke-width="6" stroke-linecap="round"/><path d="M1633.9 2227.9 C1663.9 2226.4 1681.9 2230.4 1687.9 2241.4" fill="none" stroke="#9A9A9A" stroke-width="4.2" stroke-linecap="round"/><path d="M1633.9 2227.9 C1663.9 2226.4 1681.9 2230.4 1687.9 2241.4" fill="none" stroke="#C2C2C2" stroke-width="1.8" stroke-linecap="round"/><path d="M1633.9 2247.9 C1653.9 2248.4 1663.9 2256.4 1667.9 2264.4 C1670.9 2269.4 1675.9 2271.4 1681.9 2271.4" fill="none" stroke="#3a3a3a" stroke-width="6" stroke-linecap="round"/><path d="M1633.9 2247.9 C1653.9 2248.4 1663.9 2256.4 1667.9 2264.4 C1670.9 2269.4 1675.9 2271.4 1681.9 2271.4" fill="none" stroke="#9A9A9A" stroke-width="4.2" stroke-linecap="round"/><path d="M1633.9 2247.9 C1653.9 2248.4 1663.9 2256.4 1667.9 2264.4 C1670.9 2269.4 1675.9 2271.4 1681.9 2271.4" fill="none" stroke="#C2C2C2" stroke-width="1.8" stroke-linecap="round"/><path d="M1680.9 2281.4 C1663.9 2288.4 1648.9 2283.4 1641.9 2268.4 C1636.9 2256.4 1629.9 2250.4 1619.9 2253.4 C1607.9 2257.4 1603.9 2272.4 1585.9 2275.4" fill="none" stroke="#fff" stroke-width="10" stroke-linecap="round" opacity="0.85"/><path d="M1680.9 2281.4 C1663.9 2288.4 1648.9 2283.4 1641.9 2268.4 C1636.9 2256.4 1629.9 2250.4 1619.9 2253.4 C1607.9 2257.4 1603.9 2272.4 1585.9 2275.4" fill="none" stroke="#12A012" stroke-width="6.4" stroke-linecap="round"/><polygon points="1622.3,2202.4 1622.8,2193.5 1633.5,2193.5 1633.9,2202.4" fill="url(#wH)"/><polygon points="1622.3,2202.4 1622.8,2193.5 1633.5,2193.5 1633.9,2202.4" fill="url(#gVig)" stroke="#000" stroke-width="1.3" stroke-linejoin="round" /><polygon points="1621.8,2202.4 1633.9,2202.4 1633.9,2274.4 1621.8,2274.4" fill="url(#wF)"/><polygon points="1621.8,2202.4 1633.9,2202.4 1633.9,2274.4 1621.8,2274.4" fill="url(#gVig)" stroke="#000" stroke-width="1.3" stroke-linejoin="round" /><polygon points="1546.3,2203.2 1551.2,2194 1597.8,2194 1601.5,2203.2" fill="url(#wH)"/><polygon points="1546.3,2203.2 1551.2,2194 1597.8,2194 1601.5,2203.2" fill="url(#gVig)" stroke="#000" stroke-width="1.3" stroke-linejoin="round" /><polygon points="1546.3,2203.2 1601.5,2203.2 1601.5,2261.9 1546.3,2261.9" fill="url(#wH)"/><polygon points="1546.3,2203.2 1601.5,2203.2 1601.5,2261.9 1546.3,2261.9" fill="url(#gVig)" stroke="#000" stroke-width="1.3" stroke-linejoin="round" /><circle cx="1629.5" cy="2596.5" r="3.6" fill="#111"/><path d="M1629.5 2317.5 L1629.5 2596.5" fill="none" stroke="#77707A" stroke-width="7" stroke-linecap="round"/><path d="M1629.5 2317.5 L1629.5 2596.5" fill="none" stroke="#D4CED8" stroke-width="5.2" stroke-linecap="round"/><path d="M1629.5 2317.5 L1629.5 2596.5" fill="none" stroke="#EEEAF2" stroke-width="2.1" stroke-linecap="round"/><circle cx="1688.9" cy="2265.9" r="13.9" fill="url(#gBall)" stroke="#000" stroke-width="0.8"/><polygon points="1640.1,2274.7 1645.4,2263.2 1756.9,2195.6 1769.3,2199.5 1771.6,2207.2 1644.5,2282.7" fill="url(#wF)"/><polygon points="1640.1,2274.7 1645.4,2263.2 1756.9,2195.6 1769.3,2199.5 1771.6,2207.2 1644.5,2282.7" fill="url(#gVig)" stroke="#FF1A0A" stroke-width="2" stroke-linejoin="round" /><polyline points="1645.4,2270.2 1766.3,2204.4" fill="none" stroke="#FF1A0A" stroke-width="1.4" stroke-linejoin="round" stroke-linecap="round"/><path d="M1654.9 2258.9 L1734.4 2213.4" stroke="#FF1A0A" stroke-width="4.2" stroke-linecap="round" fill="none"/><path d="M1654.9 2258.9 L1734.4 2213.4" stroke="#E9B98A" stroke-width="1.8" stroke-linecap="round" fill="none"/><circle cx="1768.5" cy="2233.4" r="24" fill="url(#gBall)" stroke="#000" stroke-width="0.8"/><polygon points="1563.7,2276.4 1587.7,2264 1587.7,2288" fill="#12A012" stroke="#fff" stroke-width="1.5" stroke-linejoin="round" /><text transform="translate(1908 2169) scale(1 1.045)" font-size="73" font-weight="bold">15</text><use href="#fbBack" x="2046.6" y="2605.8" /><use href="#bottle3" x="2128.9" y="2150.8" opacity="0.96"/><use href="#fbBackLines" x="2046.6" y="2605.8" /><use href="#fbFront" x="2046.6" y="2605.8" /><polygon points="2093.3,2138.7 2097.2,2111.2 2159.1,2111.2 2163.5,2138.7" fill="url(#wH)"/><polygon points="2093.3,2138.7 2097.2,2111.2 2159.1,2111.2 2163.5,2138.7" fill="url(#gVig)" stroke="#000" stroke-width="1.3" stroke-linejoin="round" /><polygon points="2093.3,2138.7 2163.5,2138.7 2163.5,2256.2 2093.3,2256.2" fill="url(#wF)"/><polygon points="2093.3,2138.7 2163.5,2138.7 2163.5,2256.2 2093.3,2256.2" fill="url(#gVig)" stroke="#000" stroke-width="1.3" stroke-linejoin="round" /><polygon points="2108.4,2168 2110.2,2161.3 2144.8,2161.3 2146.3,2168" fill="url(#wH)"/><polygon points="2108.4,2168 2110.2,2161.3 2144.8,2161.3 2146.3,2168" fill="url(#gVig)" stroke="#000" stroke-width="1.3" stroke-linejoin="round" /><path d="M2108.4 2168H2146.3V2317.7H2108.4Z M2118.5 2197.4 a8.9 8.9 0 0 1 17.8 0 V2280 a8.9 8.9 0 0 1 -17.8 0Z" fill="url(#wD)" fill-rule="evenodd" stroke="#000" stroke-width="1.3"/><path d="M2118.5 2197.4 a8.9 8.9 0 0 1 17.8 0 V2248.7 H2118.5Z" fill="url(#wD)" stroke="#000" stroke-width="1"/><polygon points="2121.7,2202.7 2122.2,2193.8 2132.9,2193.8 2133.3,2202.7" fill="url(#wH)"/><polygon points="2121.7,2202.7 2122.2,2193.8 2132.9,2193.8 2133.3,2202.7" fill="url(#gVig)" stroke="#000" stroke-width="1.3" stroke-linejoin="round" /><polygon points="2121.2,2202.7 2133.3,2202.7 2133.3,2274.7 2121.2,2274.7" fill="url(#wF)"/><polygon points="2121.2,2202.7 2133.3,2202.7 2133.3,2274.7 2121.2,2274.7" fill="url(#gVig)" stroke="#000" stroke-width="1.3" stroke-linejoin="round" /><circle cx="2128.9" cy="2596.8" r="3.6" fill="#111"/><path d="M2128.9 2317.8 L2128.9 2596.8" fill="none" stroke="#77707A" stroke-width="7" stroke-linecap="round"/><path d="M2128.9 2317.8 L2128.9 2596.8" fill="none" stroke="#D4CED8" stroke-width="5.2" stroke-linecap="round"/><path d="M2128.9 2317.8 L2128.9 2596.8" fill="none" stroke="#EEEAF2" stroke-width="2.1" stroke-linecap="round"/><path d="M2160.8 2257.7 L2160.8 2288.7" fill="none" stroke="#9A9A9A" stroke-width="6.4" stroke-linecap="round"/><path d="M2160.8 2257.7 L2160.8 2288.7" fill="none" stroke="#C6C6C6" stroke-width="5.3" stroke-linecap="round"/><path d="M2160.8 2257.7 L2160.8 2288.7" fill="none" stroke="#E8E8E8" stroke-width="3.6" stroke-linecap="round" transform="translate(-0.2 -0.3)"/><path d="M2160.8 2257.7 L2160.8 2288.7" fill="none" stroke="#FFFFFF" stroke-width="2.0" stroke-linecap="round" transform="translate(-0.4 -0.6)"/><path d="M2054.3 2256.7 C2054.3 2278.7 2057.3 2286.7 2072.3 2286.7" fill="none" stroke="#9A9A9A" stroke-width="6.4" stroke-linecap="round"/><path d="M2054.3 2256.7 C2054.3 2278.7 2057.3 2286.7 2072.3 2286.7" fill="none" stroke="#C6C6C6" stroke-width="5.3" stroke-linecap="round"/><path d="M2054.3 2256.7 C2054.3 2278.7 2057.3 2286.7 2072.3 2286.7" fill="none" stroke="#E8E8E8" stroke-width="3.6" stroke-linecap="round" transform="translate(-0.2 -0.3)"/><path d="M2054.3 2256.7 C2054.3 2278.7 2057.3 2286.7 2072.3 2286.7" fill="none" stroke="#FFFFFF" stroke-width="2.0" stroke-linecap="round" transform="translate(-0.4 -0.6)"/><path d="M2107.3 2256.7 C2107.3 2276.7 2103.3 2284.7 2095.3 2285.7" fill="none" stroke="#9A9A9A" stroke-width="6.4" stroke-linecap="round"/><path d="M2107.3 2256.7 C2107.3 2276.7 2103.3 2284.7 2095.3 2285.7" fill="none" stroke="#C6C6C6" stroke-width="5.3" stroke-linecap="round"/><path d="M2107.3 2256.7 C2107.3 2276.7 2103.3 2284.7 2095.3 2285.7" fill="none" stroke="#E8E8E8" stroke-width="3.6" stroke-linecap="round" transform="translate(-0.2 -0.3)"/><path d="M2107.3 2256.7 C2107.3 2276.7 2103.3 2284.7 2095.3 2285.7" fill="none" stroke="#FFFFFF" stroke-width="2.0" stroke-linecap="round" transform="translate(-0.4 -0.6)"/><path d="M2054.3 2210.7 L2054.3 2238.7" fill="none" stroke="#9A9A9A" stroke-width="6.4" stroke-linecap="round"/><path d="M2054.3 2210.7 L2054.3 2238.7" fill="none" stroke="#C6C6C6" stroke-width="5.3" stroke-linecap="round"/><path d="M2054.3 2210.7 L2054.3 2238.7" fill="none" stroke="#E8E8E8" stroke-width="3.6" stroke-linecap="round" transform="translate(-0.2 -0.3)"/><path d="M2054.3 2210.7 L2054.3 2238.7" fill="none" stroke="#FFFFFF" stroke-width="2.0" stroke-linecap="round" transform="translate(-0.4 -0.6)"/><polygon points="2033.8,2230.9 2176.8,2230.9 2179.5,2250.1 2032,2250.1" fill="url(#wH)"/><polygon points="2033.8,2230.9 2176.8,2230.9 2179.5,2250.1 2032,2250.1" fill="url(#gVig)" stroke="#000" stroke-width="1.3" stroke-linejoin="round" /><polygon points="2032,2250.1 2179.5,2250.1 2179.5,2258.5 2032,2258.5" fill="url(#wH)"/><polygon points="2032,2250.1 2179.5,2250.1 2179.5,2258.5 2032,2258.5" fill="url(#gVig)" stroke="#000" stroke-width="1.3" stroke-linejoin="round" /><rect x="2047.1" y="2234.7" width="94.2" height="9.6" rx="4.8" fill="url(#wD)" stroke="#000" stroke-width="1.2"/><rect x="2049.3" y="2239.3" width="91" height="5" rx="2.5" fill="#fff" stroke="#000" stroke-width="1"/><circle cx="2160.8" cy="2239.5" r="4.4" fill="#000"/><path d="M2054.3 2210.7 L2054.3 2241.7" fill="none" stroke="#9A9A9A" stroke-width="6.4" stroke-linecap="round"/><path d="M2054.3 2210.7 L2054.3 2241.7" fill="none" stroke="#C6C6C6" stroke-width="5.3" stroke-linecap="round"/><path d="M2054.3 2210.7 L2054.3 2241.7" fill="none" stroke="#E8E8E8" stroke-width="3.6" stroke-linecap="round" transform="translate(-0.2 -0.3)"/><path d="M2054.3 2210.7 L2054.3 2241.7" fill="none" stroke="#FFFFFF" stroke-width="2.0" stroke-linecap="round" transform="translate(-0.4 -0.6)"/><path d="M2107.3 2241.7 C2107.3 2208.7 2115.3 2194.7 2129.3 2193.7 C2145.3 2193.7 2156.8 2213.7 2160.8 2238.7" fill="none" stroke="#9A9A9A" stroke-width="6.4" stroke-linecap="round"/><path d="M2107.3 2241.7 C2107.3 2208.7 2115.3 2194.7 2129.3 2193.7 C2145.3 2193.7 2156.8 2213.7 2160.8 2238.7" fill="none" stroke="#C6C6C6" stroke-width="5.3" stroke-linecap="round"/><path d="M2107.3 2241.7 C2107.3 2208.7 2115.3 2194.7 2129.3 2193.7 C2145.3 2193.7 2156.8 2213.7 2160.8 2238.7" fill="none" stroke="#E8E8E8" stroke-width="3.6" stroke-linecap="round" transform="translate(-0.2 -0.3)"/><path d="M2107.3 2241.7 C2107.3 2208.7 2115.3 2194.7 2129.3 2193.7 C2145.3 2193.7 2156.8 2213.7 2160.8 2238.7" fill="none" stroke="#FFFFFF" stroke-width="2.0" stroke-linecap="round" transform="translate(-0.4 -0.6)"/><polygon points="2121.2,2202.7 2133.3,2202.7 2133.3,2274.7 2121.2,2274.7" fill="url(#wF)"/><polygon points="2121.2,2202.7 2133.3,2202.7 2133.3,2274.7 2121.2,2274.7" fill="url(#gVig)" stroke="#000" stroke-width="1.3" stroke-linejoin="round" /><polygon points="2025.2,2151.5 2030.1,2142.3 2076.7,2142.3 2080.4,2151.5" fill="url(#wH)"/><polygon points="2025.2,2151.5 2030.1,2142.3 2076.7,2142.3 2080.4,2151.5" fill="url(#gVig)" stroke="#000" stroke-width="1.3" stroke-linejoin="round" /><polygon points="2025.2,2151.5 2080.4,2151.5 2080.4,2210.2 2025.2,2210.2" fill="url(#wH)"/><polygon points="2025.2,2151.5 2080.4,2151.5 2080.4,2210.2 2025.2,2210.2" fill="url(#gVig)" stroke="#000" stroke-width="1.3" stroke-linejoin="round" /><circle cx="2161.4" cy="2304.2" r="24" fill="url(#gBall)" stroke="#000" stroke-width="0.8"/><circle cx="2083.5" cy="2283" r="12.6" fill="url(#gBall)" stroke="#000" stroke-width="0.8"/><circle cx="2083.5" cy="2283" r="13.4" fill="none" stroke="#D8100A" stroke-width="2.6"/><text transform="translate(224 2747) scale(1 1.045)" font-size="73" font-weight="bold">16</text><use href="#fbBack" x="373.3" y="3183.5" /><use href="#bottle3" x="455.6" y="2728.5" opacity="0.96"/><use href="#fbBackLines" x="373.3" y="3183.5" /><use href="#fbFront" x="373.3" y="3183.5" /><polygon points="420,2716.4 423.9,2688.9 485.8,2688.9 490.2,2716.4" fill="url(#wH)"/><polygon points="420,2716.4 423.9,2688.9 485.8,2688.9 490.2,2716.4" fill="url(#gVig)" stroke="#000" stroke-width="1.3" stroke-linejoin="round" /><polygon points="420,2716.4 490.2,2716.4 490.2,2833.9 420,2833.9" fill="url(#wF)"/><polygon points="420,2716.4 490.2,2716.4 490.2,2833.9 420,2833.9" fill="url(#gVig)" stroke="#000" stroke-width="1.3" stroke-linejoin="round" /><polygon points="435.1,2745.7 436.9,2739 471.5,2739 473,2745.7" fill="url(#wH)"/><polygon points="435.1,2745.7 436.9,2739 471.5,2739 473,2745.7" fill="url(#gVig)" stroke="#000" stroke-width="1.3" stroke-linejoin="round" /><path d="M435.1 2745.7H473V2895.4H435.1Z M445.2 2775.1 a8.9 8.9 0 0 1 17.8 0 V2857.7 a8.9 8.9 0 0 1 -17.8 0Z" fill="url(#wD)" fill-rule="evenodd" stroke="#000" stroke-width="1.3"/><path d="M445.2 2775.1 a8.9 8.9 0 0 1 17.8 0 V2826.4 H445.2Z" fill="url(#wD)" stroke="#000" stroke-width="1"/><polygon points="448.4,2780.4 448.9,2771.5 459.6,2771.5 460,2780.4" fill="url(#wH)"/><polygon points="448.4,2780.4 448.9,2771.5 459.6,2771.5 460,2780.4" fill="url(#gVig)" stroke="#000" stroke-width="1.3" stroke-linejoin="round" /><polygon points="447.9,2780.4 460,2780.4 460,2852.4 447.9,2852.4" fill="url(#wF)"/><polygon points="447.9,2780.4 460,2780.4 460,2852.4 447.9,2852.4" fill="url(#gVig)" stroke="#000" stroke-width="1.3" stroke-linejoin="round" /><circle cx="455.6" cy="3174.5" r="3.6" fill="#111"/><path d="M455.6 2895.5 L455.6 3174.5" fill="none" stroke="#77707A" stroke-width="7" stroke-linecap="round"/><path d="M455.6 2895.5 L455.6 3174.5" fill="none" stroke="#D4CED8" stroke-width="5.2" stroke-linecap="round"/><path d="M455.6 2895.5 L455.6 3174.5" fill="none" stroke="#EEEAF2" stroke-width="2.1" stroke-linecap="round"/><path d="M475.9 2835.4 L475.9 2866.4" fill="none" stroke="#9A9A9A" stroke-width="6.4" stroke-linecap="round"/><path d="M475.9 2835.4 L475.9 2866.4" fill="none" stroke="#C6C6C6" stroke-width="5.3" stroke-linecap="round"/><path d="M475.9 2835.4 L475.9 2866.4" fill="none" stroke="#E8E8E8" stroke-width="3.6" stroke-linecap="round" transform="translate(-0.2 -0.3)"/><path d="M475.9 2835.4 L475.9 2866.4" fill="none" stroke="#FFFFFF" stroke-width="2.0" stroke-linecap="round" transform="translate(-0.4 -0.6)"/><path d="M389 2834.4 C389 2856.4 392 2864.4 407 2864.4" fill="none" stroke="#9A9A9A" stroke-width="6.4" stroke-linecap="round"/><path d="M389 2834.4 C389 2856.4 392 2864.4 407 2864.4" fill="none" stroke="#C6C6C6" stroke-width="5.3" stroke-linecap="round"/><path d="M389 2834.4 C389 2856.4 392 2864.4 407 2864.4" fill="none" stroke="#E8E8E8" stroke-width="3.6" stroke-linecap="round" transform="translate(-0.2 -0.3)"/><path d="M389 2834.4 C389 2856.4 392 2864.4 407 2864.4" fill="none" stroke="#FFFFFF" stroke-width="2.0" stroke-linecap="round" transform="translate(-0.4 -0.6)"/><path d="M430.5 2834.4 C430.5 2854.4 430 2862.4 422 2863.4" fill="none" stroke="#9A9A9A" stroke-width="6.4" stroke-linecap="round"/><path d="M430.5 2834.4 C430.5 2854.4 430 2862.4 422 2863.4" fill="none" stroke="#C6C6C6" stroke-width="5.3" stroke-linecap="round"/><path d="M430.5 2834.4 C430.5 2854.4 430 2862.4 422 2863.4" fill="none" stroke="#E8E8E8" stroke-width="3.6" stroke-linecap="round" transform="translate(-0.2 -0.3)"/><path d="M430.5 2834.4 C430.5 2854.4 430 2862.4 422 2863.4" fill="none" stroke="#FFFFFF" stroke-width="2.0" stroke-linecap="round" transform="translate(-0.4 -0.6)"/><path d="M389 2788.4 L389 2816.4" fill="none" stroke="#9A9A9A" stroke-width="6.4" stroke-linecap="round"/><path d="M389 2788.4 L389 2816.4" fill="none" stroke="#C6C6C6" stroke-width="5.3" stroke-linecap="round"/><path d="M389 2788.4 L389 2816.4" fill="none" stroke="#E8E8E8" stroke-width="3.6" stroke-linecap="round" transform="translate(-0.2 -0.3)"/><path d="M389 2788.4 L389 2816.4" fill="none" stroke="#FFFFFF" stroke-width="2.0" stroke-linecap="round" transform="translate(-0.4 -0.6)"/><polygon points="348.9,2808.6 491.9,2808.6 494.6,2827.8 347.1,2827.8" fill="url(#wH)"/><polygon points="348.9,2808.6 491.9,2808.6 494.6,2827.8 347.1,2827.8" fill="url(#gVig)" stroke="#000" stroke-width="1.3" stroke-linejoin="round" /><polygon points="347.1,2827.8 494.6,2827.8 494.6,2836.2 347.1,2836.2" fill="url(#wH)"/><polygon points="347.1,2827.8 494.6,2827.8 494.6,2836.2 347.1,2836.2" fill="url(#gVig)" stroke="#000" stroke-width="1.3" stroke-linejoin="round" /><rect x="362.2" y="2812.4" width="94.2" height="9.6" rx="4.8" fill="url(#wD)" stroke="#000" stroke-width="1.2"/><rect x="364.4" y="2817" width="91" height="5" rx="2.5" fill="#fff" stroke="#000" stroke-width="1"/><circle cx="475.9" cy="2817.2" r="4.4" fill="#000"/><path d="M389 2788.4 L389 2819.4" fill="none" stroke="#9A9A9A" stroke-width="6.4" stroke-linecap="round"/><path d="M389 2788.4 L389 2819.4" fill="none" stroke="#C6C6C6" stroke-width="5.3" stroke-linecap="round"/><path d="M389 2788.4 L389 2819.4" fill="none" stroke="#E8E8E8" stroke-width="3.6" stroke-linecap="round" transform="translate(-0.2 -0.3)"/><path d="M389 2788.4 L389 2819.4" fill="none" stroke="#FFFFFF" stroke-width="2.0" stroke-linecap="round" transform="translate(-0.4 -0.6)"/><path d="M430.5 2819.4 C434 2786.4 442 2772.4 456 2771.4 C472 2771.4 471.9 2791.4 475.9 2816.4" fill="none" stroke="#9A9A9A" stroke-width="6.4" stroke-linecap="round"/><path d="M430.5 2819.4 C434 2786.4 442 2772.4 456 2771.4 C472 2771.4 471.9 2791.4 475.9 2816.4" fill="none" stroke="#C6C6C6" stroke-width="5.3" stroke-linecap="round"/><path d="M430.5 2819.4 C434 2786.4 442 2772.4 456 2771.4 C472 2771.4 471.9 2791.4 475.9 2816.4" fill="none" stroke="#E8E8E8" stroke-width="3.6" stroke-linecap="round" transform="translate(-0.2 -0.3)"/><path d="M430.5 2819.4 C434 2786.4 442 2772.4 456 2771.4 C472 2771.4 471.9 2791.4 475.9 2816.4" fill="none" stroke="#FFFFFF" stroke-width="2.0" stroke-linecap="round" transform="translate(-0.4 -0.6)"/><polygon points="447.9,2780.4 460,2780.4 460,2852.4 447.9,2852.4" fill="url(#wF)"/><polygon points="447.9,2780.4 460,2780.4 460,2852.4 447.9,2852.4" fill="url(#gVig)" stroke="#000" stroke-width="1.3" stroke-linejoin="round" /><polygon points="367.9,2728.5 372.8,2719.3 419.4,2719.3 423.1,2728.5" fill="url(#wH)"/><polygon points="367.9,2728.5 372.8,2719.3 419.4,2719.3 423.1,2728.5" fill="url(#gVig)" stroke="#FF1A0A" stroke-width="2.2" stroke-linejoin="round" /><polygon points="367.9,2728.5 423.1,2728.5 423.1,2787.2 367.9,2787.2" fill="url(#wH)"/><polygon points="367.9,2728.5 423.1,2728.5 423.1,2787.2 367.9,2787.2" fill="url(#gVig)" stroke="#FF1A0A" stroke-width="2.2" stroke-linejoin="round" /><circle cx="476.5" cy="2881.9" r="24" fill="url(#gBall)" stroke="#000" stroke-width="0.8"/><circle cx="406.1" cy="2860.7" r="12.6" fill="url(#gBall)" stroke="#000" stroke-width="0.8"/><polygon points="373.2,2792.6 382.8,2792.6 382.8,2877 393.1,2877 377.6,2907.8 362.3,2877 373.2,2877" fill="#0B6E12"  /><text transform="translate(770 2747) scale(1 1.045)" font-size="73" font-weight="bold">17</text><use href="#fbBack" x="898.5" y="3183.5" /><use href="#bottle3" x="980.8" y="2728.5" opacity="0.96"/><use href="#fbBackLines" x="898.5" y="3183.5" /><use href="#fbFront2" x="898.5" y="3183.5" /><polygon points="945.2,2716.4 949.1,2688.9 1011,2688.9 1015.4,2716.4" fill="url(#wH)"/><polygon points="945.2,2716.4 949.1,2688.9 1011,2688.9 1015.4,2716.4" fill="url(#gVig)" stroke="#000" stroke-width="1.3" stroke-linejoin="round" /><polygon points="945.2,2716.4 1015.4,2716.4 1015.4,2833.9 945.2,2833.9" fill="url(#wF)"/><polygon points="945.2,2716.4 1015.4,2716.4 1015.4,2833.9 945.2,2833.9" fill="url(#gVig)" stroke="#000" stroke-width="1.3" stroke-linejoin="round" /><polygon points="960.3,2745.7 962.1,2739 996.7,2739 998.2,2745.7" fill="url(#wH)"/><polygon points="960.3,2745.7 962.1,2739 996.7,2739 998.2,2745.7" fill="url(#gVig)" stroke="#000" stroke-width="1.3" stroke-linejoin="round" /><path d="M960.3 2745.7H998.2V2895.4H960.3Z M970.4 2775.1 a8.9 8.9 0 0 1 17.8 0 V2857.7 a8.9 8.9 0 0 1 -17.8 0Z" fill="url(#wD)" fill-rule="evenodd" stroke="#000" stroke-width="1.3"/><path d="M970.4 2775.1 a8.9 8.9 0 0 1 17.8 0 V2826.4 H970.4Z" fill="url(#wD)" stroke="#000" stroke-width="1"/><polygon points="973.6,2780.4 974.1,2771.5 984.8,2771.5 985.2,2780.4" fill="url(#wH)"/><polygon points="973.6,2780.4 974.1,2771.5 984.8,2771.5 985.2,2780.4" fill="url(#gVig)" stroke="#000" stroke-width="1.3" stroke-linejoin="round" /><polygon points="973.1,2780.4 985.2,2780.4 985.2,2852.4 973.1,2852.4" fill="url(#wF)"/><polygon points="973.1,2780.4 985.2,2780.4 985.2,2852.4 973.1,2852.4" fill="url(#gVig)" stroke="#000" stroke-width="1.3" stroke-linejoin="round" /><circle cx="980.8" cy="3174.5" r="3.6" fill="#111"/><path d="M980.8 2895.5 L980.8 3174.5" fill="none" stroke="#77707A" stroke-width="7" stroke-linecap="round"/><path d="M980.8 2895.5 L980.8 3174.5" fill="none" stroke="#D4CED8" stroke-width="5.2" stroke-linecap="round"/><path d="M980.8 2895.5 L980.8 3174.5" fill="none" stroke="#EEEAF2" stroke-width="2.1" stroke-linecap="round"/><path d="M935.9 2834.4 L935.9 2921.4" fill="none" stroke="#2e2e2e" stroke-width="6.4" stroke-linecap="butt"/><path d="M935.9 2834.4 L935.9 2921.4" fill="none" stroke="#CFC5CF" stroke-width="4.6" stroke-linecap="butt"/><path d="M935.9 2834.4 L935.9 2921.4" fill="none" stroke="#F1ECF1" stroke-width="1.9" stroke-linecap="butt"/><path d="M1032.7 2834.4 L1032.7 2891.4" fill="none" stroke="#2e2e2e" stroke-width="6.4" stroke-linecap="butt"/><path d="M1032.7 2834.4 L1032.7 2891.4" fill="none" stroke="#CFC5CF" stroke-width="4.6" stroke-linecap="butt"/><path d="M1032.7 2834.4 L1032.7 2891.4" fill="none" stroke="#F1ECF1" stroke-width="1.9" stroke-linecap="butt"/><polygon points="905.1,2808.6 1048.1,2808.6 1050.8,2827.8 903.3,2827.8" fill="url(#wH)"/><polygon points="905.1,2808.6 1048.1,2808.6 1050.8,2827.8 903.3,2827.8" fill="url(#gVig)" stroke="#000" stroke-width="1.3" stroke-linejoin="round" /><polygon points="903.3,2827.8 1050.8,2827.8 1050.8,2836.2 903.3,2836.2" fill="url(#wH)"/><polygon points="903.3,2827.8 1050.8,2827.8 1050.8,2836.2 903.3,2836.2" fill="url(#gVig)" stroke="#000" stroke-width="1.3" stroke-linejoin="round" /><rect x="918.4" y="2812.4" width="94.2" height="9.6" rx="4.8" fill="url(#wD)" stroke="#000" stroke-width="1.2"/><rect x="920.6" y="2817" width="91" height="5" rx="2.5" fill="#fff" stroke="#000" stroke-width="1"/><circle cx="1032.1" cy="2817.2" r="4.4" fill="#000"/><path d="M935.7 2819.4 C937.2 2786.4 957.2 2766.4 983.6 2766.4 C1011.2 2766.4 1029.2 2788.4 1032.5 2816.9" fill="none" stroke="#2e2e2e" stroke-width="6.6" stroke-linecap="butt"/><path d="M935.7 2819.4 C937.2 2786.4 957.2 2766.4 983.6 2766.4 C1011.2 2766.4 1029.2 2788.4 1032.5 2816.9" fill="none" stroke="#CFC5CF" stroke-width="4.8" stroke-linecap="butt"/><path d="M935.7 2819.4 C937.2 2786.4 957.2 2766.4 983.6 2766.4 C1011.2 2766.4 1029.2 2788.4 1032.5 2816.9" fill="none" stroke="#F1ECF1" stroke-width="2.0" stroke-linecap="butt"/><polygon points="973.1,2780.4 985.2,2780.4 985.2,2852.4 973.1,2852.4" fill="url(#wF)"/><polygon points="973.1,2780.4 985.2,2780.4 985.2,2852.4 973.1,2852.4" fill="url(#gVig)" stroke="#000" stroke-width="1.3" stroke-linejoin="round" /><polygon points="908.2,2950.3 913.1,2941.1 959.7,2941.1 963.4,2950.3" fill="url(#wH)"/><polygon points="908.2,2950.3 913.1,2941.1 959.7,2941.1 963.4,2950.3" fill="url(#gVig)" stroke="#FF1A0A" stroke-width="2.2" stroke-linejoin="round" /><polygon points="908.2,2950.3 963.4,2950.3 963.4,3009 908.2,3009" fill="url(#wH)"/><polygon points="908.2,2950.3 963.4,2950.3 963.4,3009 908.2,3009" fill="url(#gVig)" stroke="#FF1A0A" stroke-width="2.2" stroke-linejoin="round" /><circle cx="935.4" cy="2933" r="13.4" fill="url(#gBall)" stroke="#000" stroke-width="1.2"/><circle cx="1033.1" cy="2913.2" r="24.1" fill="url(#gBall)" stroke="#000" stroke-width="1.2"/><path d="M1790.8 3039.6 L1832.3 2984.4 Q1849.9 2964.4 1861.9 2982 Q1864.3 2990 1857.9 2998 L1816.3 3062Z" fill="#FF6A00"/><path d="M1859.5 2978 L1883.5 2999.6 Q1891.5 3009.2 1885.9 3020.4 L1854.7 3068.4 L1816.3 3062 L1857.9 2998 Q1864.3 2990 1861.9 2982Z" fill="#990000"/><polygon points="1848.3,3098.8 1856.3,3101.6 1897.6,3136.3 1898.9,3140.3 1876.8,3173.6 1849.9,3156.3 1841.9,3161.1" fill="#990000" stroke="#990000" stroke-width="0.6" stroke-linejoin="round" /><polygon points="1849.9,3156.3 1876.8,3173.6 1873.9,3175.8 1869.1,3175.2 1849.9,3161.1" fill="#FF6A00" stroke="#FF6A00" stroke-width="0.6" stroke-linejoin="round" /><polygon points="1737.7,2992.9 1739.6,2991.3 1754,2990.3 1857.9,3018 1841.1,3022" fill="#FF6A00" stroke="#FF6A00" stroke-width="0.6" stroke-linejoin="round" /><polygon points="1842.7,3028.4 1859.9,3022.8 1850.7,3170.7 1835.5,3177.1" fill="#FF6A00" stroke="#FF6A00" stroke-width="0.6" stroke-linejoin="round" /><polygon points="1841.1,3021.7 1857.9,3018 1860.3,3023.3 1843.9,3028.7" fill="#fff" stroke="#000" stroke-width="0.4" stroke-linejoin="round" /><path d="M1737.7 2993.2L1839.5 3020.4L1842.7 3023.6L1843.9 3029.2L1835.5 3177.1L1831.5 3178.4L1741.2 3116.3Z M1747.9 3012.7L1827.5 3040.4L1823.5 3154.7L1747.9 3107.5Z" fill="#990000" fill-rule="evenodd"/><polygon points="1747.9,3012.7 1756.8,3015.9 1756.8,3111.5 1747.9,3107.5" fill="#000"  /><polygon points="1800.4,3140.3 1823.5,3154.7 1823.5,3142.7 1808.3,3133.9" fill="#000"  /><path d="M1666.8 3029.2 L1694.8 2989.2 Q1702 2982 1712.4 2988.4 L1808.3 3064.4 L1781.2 3103.6Z" fill="#990000"/><path d="M1666.8 3029.2 Q1663.6 3033.2 1670 3037.7 L1753.2 3098 L1781.2 3103.6Z" fill="#FF6A00"/><path d="M1826.7 3042 L1825.9 3113.1 L1764.4 3200.3 Q1754 3215.5 1739.6 3212.3 L1705.2 3197.9 L1736.4 3181.9Z" fill="#990000"/><path d="M1753.2 3098 L1781.2 3103.6 L1808.3 3064.4 L1826.7 3042 L1736.4 3181.9 Q1722 3199.5 1705.2 3197.9 Q1693.2 3189.9 1706 3164.3Z" fill="#FF6A00"/><text x="1948" y="3098" font-size="145" font-weight="bold" style="fill:#990000" textLength="478" lengthAdjust="spacingAndGlyphs" xml:space="preserve">SOLVE  IT!</text><text x="1948" y="3191" font-size="83" font-weight="bold" transform="translate(1948 0) scale(0.56 1) translate(-1948 0)" textLength="855" lengthAdjust="spacing">Think Out of the Box</text>
</svg>
</body></html>
